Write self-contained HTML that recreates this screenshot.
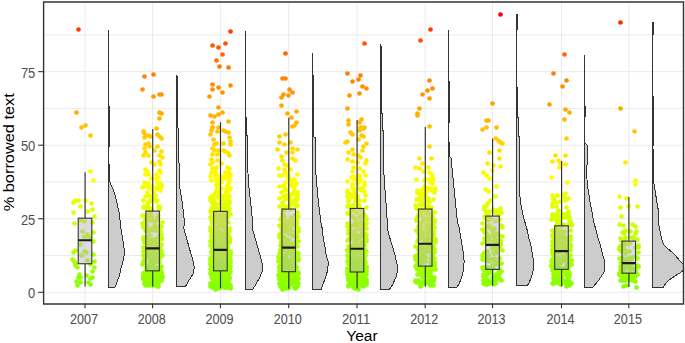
<!DOCTYPE html>
<html><head><meta charset="utf-8"><style>
html,body{margin:0;padding:0;background:#fff;}
svg{display:block;}
text{font-family:"Liberation Sans",sans-serif;}
.gmaj{stroke:#ebebeb;stroke-width:1;}
.gmin{stroke:#ebebeb;stroke-width:1;}
.tk{stroke:#333;stroke-width:1.1;}
.yl{font-size:13.8px;fill:#4d4d4d;text-anchor:end;}
.xl{font-size:13.8px;fill:#4d4d4d;text-anchor:middle;}
.vio{fill:#cccccc;stroke:#333;stroke-width:1;stroke-linejoin:miter;shape-rendering:crispEdges;}
.wh{stroke:#2e2e2e;stroke-width:1.15;}
.bx{fill:rgba(180,180,185,0.45);stroke:#333;stroke-width:1.1;}
.md{stroke:#1a1a1a;stroke-width:2.2;}
</style></head><body>
<svg width="685" height="343" viewBox="0 0 685 343">
<rect width="685" height="343" fill="#fff"/>
<defs><clipPath id="pc"><rect x="43.6" y="2.0" width="639.9" height="302.0"/></clipPath></defs>
<g><line x1="43.6" y1="255.53" x2="683.5" y2="255.53" class="gmin"/>
<line x1="43.6" y1="181.98" x2="683.5" y2="181.98" class="gmin"/>
<line x1="43.6" y1="108.43" x2="683.5" y2="108.43" class="gmin"/>
<line x1="43.6" y1="34.88" x2="683.5" y2="34.88" class="gmin"/>
<line x1="43.6" y1="292.30" x2="683.5" y2="292.30" class="gmaj"/>
<line x1="43.6" y1="218.75" x2="683.5" y2="218.75" class="gmaj"/>
<line x1="43.6" y1="145.20" x2="683.5" y2="145.20" class="gmaj"/>
<line x1="43.6" y1="71.65" x2="683.5" y2="71.65" class="gmaj"/>
<line x1="85.00" y1="2.0" x2="85.00" y2="304.0" class="gmaj"/>
<line x1="152.60" y1="2.0" x2="152.60" y2="304.0" class="gmaj"/>
<line x1="220.40" y1="2.0" x2="220.40" y2="304.0" class="gmaj"/>
<line x1="288.70" y1="2.0" x2="288.70" y2="304.0" class="gmaj"/>
<line x1="357.00" y1="2.0" x2="357.00" y2="304.0" class="gmaj"/>
<line x1="425.20" y1="2.0" x2="425.20" y2="304.0" class="gmaj"/>
<line x1="492.50" y1="2.0" x2="492.50" y2="304.0" class="gmaj"/>
<line x1="561.50" y1="2.0" x2="561.50" y2="304.0" class="gmaj"/>
<line x1="628.80" y1="2.0" x2="628.80" y2="304.0" class="gmaj"/></g>
<g clip-path="url(#pc)">
<path d="M108.70,287.30 L115.00,287.30 L115.25,286.65 L115.49,286.01 L115.74,285.36 L115.98,284.72 L116.23,284.07 L116.47,283.42 L116.72,282.78 L116.96,282.13 L117.21,281.49 L117.45,280.84 L117.70,280.19 L117.94,279.55 L118.19,278.90 L118.43,278.26 L118.68,277.61 L118.92,276.96 L119.14,276.32 L119.30,275.67 L119.45,275.03 L119.60,274.38 L119.75,273.74 L119.91,273.09 L120.06,272.44 L120.21,271.80 L120.37,271.15 L120.52,270.51 L120.67,269.86 L120.82,269.21 L120.98,268.57 L121.13,267.92 L121.28,267.28 L121.45,266.63 L121.63,265.99 L121.80,265.34 L121.97,264.69 L122.14,264.05 L122.32,263.40 L122.49,262.76 L122.66,262.11 L122.83,261.46 L122.98,260.82 L123.13,260.17 L123.28,259.53 L123.43,258.88 L123.58,258.23 L123.73,257.59 L123.88,256.94 L124.03,256.30 L124.10,255.65 L124.10,255.01 L124.10,254.36 L124.10,253.71 L124.10,253.07 L124.10,252.42 L124.10,251.78 L124.10,251.13 L124.10,250.48 L124.10,249.84 L124.10,249.19 L124.10,248.55 L124.01,247.90 L123.91,247.26 L123.81,246.61 L123.72,245.96 L123.62,245.32 L123.52,244.67 L123.42,244.03 L123.32,243.38 L123.22,242.73 L123.13,242.09 L123.03,241.44 L122.93,240.80 L122.83,240.15 L122.73,239.50 L122.64,238.86 L122.54,238.21 L122.44,237.57 L122.34,236.92 L122.23,236.28 L122.13,235.63 L122.03,234.98 L121.92,234.34 L121.82,233.69 L121.71,233.05 L121.61,232.40 L121.51,231.75 L121.40,231.11 L121.30,230.46 L121.19,229.82 L121.09,229.17 L120.98,228.53 L120.89,227.88 L120.81,227.23 L120.74,226.59 L120.66,225.94 L120.59,225.30 L120.52,224.65 L120.44,224.00 L120.37,223.36 L120.29,222.71 L120.22,222.07 L120.15,221.42 L120.07,220.77 L120.00,220.13 L119.92,219.48 L119.85,218.84 L119.78,218.19 L119.70,217.55 L119.63,216.90 L119.55,216.25 L119.48,215.61 L119.41,214.96 L119.33,214.32 L119.26,213.67 L119.18,213.02 L119.11,212.38 L118.97,211.73 L118.82,211.09 L118.67,210.44 L118.52,209.80 L118.37,209.15 L118.22,208.50 L118.07,207.86 L117.92,207.21 L117.76,206.57 L117.61,205.92 L117.46,205.27 L117.31,204.63 L117.16,203.98 L117.01,203.34 L116.86,202.69 L116.71,202.04 L116.56,201.40 L116.41,200.75 L116.26,200.11 L116.11,199.46 L115.96,198.82 L115.81,198.17 L115.66,197.52 L115.51,196.88 L115.36,196.23 L115.21,195.59 L115.06,194.94 L114.91,194.29 L114.76,193.65 L114.53,193.00 L114.26,192.36 L113.99,191.71 L113.72,191.07 L113.45,190.42 L113.17,189.77 L112.90,189.13 L112.63,188.48 L112.36,187.84 L112.09,187.19 L111.81,186.54 L111.54,185.90 L111.27,185.25 L111.00,184.61 L110.73,183.96 L110.45,183.31 L110.18,182.67 L109.91,182.02 L109.89,181.38 L109.89,180.73 L109.88,180.09 L109.87,179.44 L109.86,178.79 L109.85,178.15 L109.85,177.50 L109.84,176.86 L109.83,176.21 L109.82,175.56 L109.82,174.92 L109.81,174.27 L109.80,173.63 L109.79,172.98 L109.79,172.34 L109.78,171.69 L109.77,171.04 L109.76,170.40 L109.76,169.75 L109.75,169.11 L109.74,168.46 L109.73,167.81 L109.73,167.17 L109.72,166.52 L109.71,165.88 L109.70,165.23 L108.87,164.58 L108.70,163.94 L108.70,163.29 L108.70,162.65 L108.70,162.00 L108.70,161.36 L108.70,160.71 L108.70,160.06 L108.70,159.42 L108.70,158.77 L108.70,158.13 L108.70,157.48 L108.70,156.83 L108.70,156.19 L108.70,155.54 L108.70,154.90 L108.70,154.25 L108.70,153.61 L108.70,152.96 L108.70,152.31 L108.70,151.67 L108.70,151.02 L108.70,150.38 L108.70,149.73 L108.70,149.08 L108.70,148.44 L108.70,147.79 L108.70,147.15 L108.70,146.50 L109.70,145.86 L109.70,145.21 L109.70,144.56 L109.70,143.92 L109.70,143.27 L109.70,142.63 L109.70,141.98 L109.70,141.33 L109.70,140.69 L109.70,140.04 L109.70,139.40 L109.70,138.75 L109.70,138.10 L109.70,137.46 L109.70,136.81 L109.70,136.17 L109.70,135.52 L109.70,134.88 L109.70,134.23 L109.70,133.58 L109.70,132.94 L109.70,132.29 L109.70,131.65 L109.70,131.00 L109.70,130.35 L109.70,129.71 L109.70,129.06 L109.70,128.42 L109.70,127.77 L109.70,127.13 L109.70,126.48 L109.70,125.83 L109.70,125.19 L109.70,124.54 L109.70,123.90 L109.70,123.25 L109.70,122.60 L109.70,121.96 L109.70,121.31 L109.70,120.67 L109.70,120.02 L109.70,119.37 L109.70,118.73 L109.70,118.08 L109.70,117.44 L109.70,116.79 L109.70,116.15 L109.70,115.50 L109.70,114.85 L109.70,114.21 L109.70,113.56 L109.70,112.92 L109.70,112.27 L109.70,111.62 L109.70,110.98 L109.70,110.33 L109.70,109.69 L109.70,109.04 L109.70,108.40 L109.70,107.75 L109.70,107.10 L108.70,106.46 L108.70,105.81 L108.70,105.17 L108.70,104.52 L108.70,103.87 L108.70,103.23 L108.70,102.58 L108.70,101.94 L108.70,101.29 L108.70,100.64 L108.70,100.00 L108.70,99.35 L108.70,98.71 L108.70,98.06 L108.70,97.42 L108.70,96.77 L108.70,96.12 L108.70,95.48 L108.70,94.83 L108.70,94.19 L108.70,93.54 L108.70,92.89 L108.70,92.25 L108.70,91.60 L108.70,90.96 L108.70,90.31 L108.70,89.67 L108.70,89.02 L108.70,88.37 L108.70,87.73 L108.70,87.08 L108.70,86.44 L108.70,85.79 L108.70,85.14 L108.70,84.50 L108.70,83.85 L108.70,83.21 L108.70,82.56 L108.70,81.91 L108.70,81.27 L108.70,80.62 L108.70,79.98 L108.70,79.33 L108.70,78.69 L108.70,78.04 L108.70,77.39 L108.70,76.75 L108.70,76.10 L108.70,75.46 L108.70,74.81 L108.70,74.16 L108.70,73.52 L108.70,72.87 L108.70,72.23 L108.70,71.58 L108.70,70.94 L108.70,70.29 L108.70,69.64 L108.70,69.00 L108.70,68.35 L108.70,67.71 L108.70,67.06 L108.70,66.41 L108.70,65.77 L108.70,65.12 L108.70,64.48 L108.70,63.83 L108.70,63.18 L108.70,62.54 L108.70,61.89 L108.70,61.25 L108.70,60.60 L108.70,59.96 L108.70,59.31 L108.70,58.66 L108.70,58.02 L108.70,57.37 L108.70,56.73 L108.70,56.08 L108.70,55.43 L108.70,54.79 L108.70,54.14 L108.70,53.50 L108.70,52.85 L108.70,52.21 L108.70,51.56 L108.70,50.91 L108.70,50.27 L108.70,49.62 L108.70,48.98 L108.70,48.33 L108.70,47.68 L108.70,47.04 L108.70,46.39 L108.70,45.75 L108.70,45.10 L108.70,44.45 L108.70,43.81 L108.70,43.16 L108.70,42.52 L108.70,41.87 L108.70,41.23 L108.70,40.58 L108.70,39.93 L108.70,39.29 L108.70,38.64 L108.70,38.00 L108.70,37.35 L108.70,36.70 L108.70,36.06 L108.70,35.41 L108.70,34.77 L108.70,34.12 L108.70,33.48 L108.70,32.83 L108.70,32.18 L108.70,31.54 L108.70,30.89 L108.70,30.25 L108.70,29.60 L108.70,29.60 Z" class="vio"/>
<path d="M176.60,286.20 L185.60,286.20 L185.90,285.67 L186.20,285.14 L186.49,284.61 L186.79,284.08 L187.09,283.55 L187.39,283.02 L187.71,282.49 L188.03,281.96 L188.35,281.43 L188.68,280.90 L189.00,280.37 L189.32,279.84 L189.64,279.31 L189.96,278.78 L190.29,278.25 L190.61,277.72 L190.94,277.19 L191.28,276.66 L191.63,276.13 L191.97,275.59 L192.31,275.06 L192.66,274.53 L193.00,274.00 L193.24,273.47 L193.33,272.94 L193.43,272.41 L193.52,271.88 L193.61,271.35 L193.70,270.82 L193.80,270.29 L193.89,269.76 L193.98,269.23 L194.08,268.70 L194.17,268.17 L194.17,267.64 L194.12,267.11 L194.08,266.58 L194.03,266.05 L193.98,265.52 L193.94,264.99 L193.89,264.46 L193.85,263.93 L193.80,263.40 L193.64,262.87 L193.48,262.34 L193.33,261.81 L193.17,261.28 L193.01,260.75 L192.85,260.22 L192.70,259.68 L192.54,259.15 L192.39,258.62 L192.23,258.09 L192.08,257.56 L191.92,257.03 L191.77,256.50 L191.61,255.97 L191.46,255.44 L191.30,254.91 L191.15,254.38 L190.99,253.85 L190.84,253.32 L190.68,252.79 L190.53,252.26 L190.37,251.73 L190.22,251.20 L190.06,250.67 L189.91,250.14 L189.75,249.61 L189.60,249.08 L189.44,248.55 L189.29,248.02 L189.13,247.49 L188.98,246.96 L188.82,246.43 L188.68,245.90 L188.53,245.37 L188.38,244.84 L188.23,244.31 L188.09,243.78 L187.94,243.24 L187.79,242.71 L187.64,242.18 L187.50,241.65 L187.35,241.12 L187.20,240.59 L187.05,240.06 L186.91,239.53 L186.76,239.00 L186.61,238.47 L186.46,237.94 L186.32,237.41 L186.17,236.88 L186.02,236.35 L185.87,235.82 L185.73,235.29 L185.58,234.76 L185.43,234.23 L185.28,233.70 L185.14,233.17 L184.99,232.64 L184.84,232.11 L184.69,231.58 L184.55,231.05 L184.40,230.52 L184.25,229.99 L184.11,229.46 L183.96,228.93 L183.81,228.40 L183.72,227.87 L183.79,227.33 L183.85,226.80 L183.92,226.27 L183.99,225.74 L184.06,225.21 L184.13,224.68 L184.20,224.15 L184.26,223.62 L184.33,223.09 L184.40,222.56 L184.47,222.03 L184.47,221.50 L184.40,220.97 L184.34,220.44 L184.28,219.91 L184.22,219.38 L184.16,218.85 L184.09,218.32 L184.03,217.79 L183.97,217.26 L183.91,216.73 L183.85,216.20 L183.79,215.67 L183.72,215.14 L183.66,214.61 L183.60,214.08 L183.54,213.55 L183.48,213.02 L183.42,212.49 L183.35,211.96 L183.29,211.43 L183.23,210.89 L183.17,210.36 L183.11,209.83 L183.05,209.30 L182.98,208.77 L182.92,208.24 L182.86,207.71 L182.80,207.18 L182.74,206.65 L182.67,206.12 L182.61,205.59 L182.55,205.06 L182.49,204.53 L182.43,204.00 L182.37,203.47 L182.30,202.94 L182.22,202.41 L182.13,201.88 L182.04,201.35 L181.96,200.82 L181.87,200.29 L181.78,199.76 L181.70,199.23 L181.61,198.70 L181.52,198.17 L181.43,197.64 L181.35,197.11 L181.26,196.58 L181.17,196.05 L181.09,195.52 L181.00,194.99 L180.91,194.45 L180.82,193.92 L180.74,193.39 L180.65,192.86 L180.56,192.33 L180.47,191.80 L180.39,191.27 L180.30,190.74 L180.21,190.21 L180.13,189.68 L180.04,189.15 L179.95,188.62 L179.86,188.09 L179.80,187.56 L179.78,187.03 L179.76,186.50 L179.74,185.97 L179.73,185.44 L179.71,184.91 L179.69,184.38 L179.67,183.85 L179.66,183.32 L179.64,182.79 L179.62,182.26 L179.61,181.73 L179.59,181.20 L179.57,180.67 L179.55,180.14 L179.54,179.61 L179.52,179.08 L179.50,178.54 L179.49,178.01 L179.47,177.48 L179.45,176.95 L179.43,176.42 L179.42,175.89 L179.40,175.36 L179.38,174.83 L179.36,174.30 L179.35,173.77 L179.33,173.24 L179.31,172.71 L179.30,172.18 L179.28,171.65 L179.26,171.12 L179.24,170.59 L179.23,170.06 L179.21,169.53 L179.19,169.00 L179.18,168.47 L179.16,167.94 L179.14,167.41 L179.12,166.88 L179.11,166.35 L179.09,165.82 L179.07,165.29 L179.05,164.76 L179.04,164.23 L179.02,163.70 L179.00,163.17 L178.99,162.64 L178.97,162.10 L178.95,161.57 L178.93,161.04 L178.92,160.51 L178.90,159.98 L178.89,159.45 L178.88,158.92 L178.87,158.39 L178.86,157.86 L178.85,157.33 L178.84,156.80 L178.83,156.27 L178.82,155.74 L178.82,155.21 L178.81,154.68 L178.80,154.15 L178.79,153.62 L178.78,153.09 L178.77,152.56 L178.76,152.03 L178.75,151.50 L178.74,150.97 L178.73,150.44 L178.72,149.91 L178.71,149.38 L178.70,148.85 L178.69,148.32 L178.68,147.79 L178.68,147.26 L178.67,146.73 L178.66,146.19 L178.65,145.66 L178.64,145.13 L178.63,144.60 L178.62,144.07 L178.61,143.54 L178.60,143.01 L178.60,142.48 L178.59,141.95 L178.59,141.42 L178.59,140.89 L178.58,140.36 L178.58,139.83 L178.57,139.30 L178.57,138.77 L178.57,138.24 L178.56,137.71 L178.56,137.18 L178.56,136.65 L178.55,136.12 L178.55,135.59 L178.55,135.06 L178.54,134.53 L178.54,134.00 L178.53,133.47 L178.53,132.94 L178.53,132.41 L178.52,131.88 L178.52,131.35 L178.52,130.82 L178.51,130.29 L178.51,129.75 L178.50,129.22 L178.50,128.69 L177.89,128.16 L177.60,127.63 L177.60,127.10 L177.60,126.57 L177.60,126.04 L177.60,125.51 L177.60,124.98 L177.60,124.45 L177.60,123.92 L177.60,123.39 L177.60,122.86 L177.60,122.33 L177.60,121.80 L177.60,121.27 L177.60,120.74 L177.60,120.21 L177.60,119.68 L177.60,119.15 L177.60,118.62 L177.60,118.09 L177.60,117.56 L177.60,117.03 L177.60,116.50 L177.60,115.97 L177.60,115.44 L177.60,114.91 L177.60,114.38 L177.60,113.85 L177.60,113.31 L177.60,112.78 L177.60,112.25 L177.60,111.72 L177.60,111.19 L177.60,110.66 L177.60,110.13 L177.60,109.60 L177.60,109.07 L177.60,108.54 L177.60,108.01 L177.60,107.48 L177.60,106.95 L177.60,106.42 L177.60,105.89 L177.60,105.36 L177.60,104.83 L177.60,104.30 L177.60,103.77 L177.60,103.24 L177.60,102.71 L177.60,102.18 L177.60,101.65 L177.60,101.12 L177.60,100.59 L177.60,100.06 L177.60,99.53 L177.60,99.00 L177.60,98.47 L177.60,97.94 L177.60,97.40 L177.60,96.87 L177.60,96.34 L177.60,95.81 L177.60,95.28 L177.60,94.75 L177.60,94.22 L177.60,93.69 L177.60,93.16 L177.60,92.63 L177.60,92.10 L177.60,91.57 L177.60,91.04 L177.60,90.51 L177.60,89.98 L177.60,89.45 L177.60,88.92 L177.60,88.39 L177.60,87.86 L177.60,87.33 L177.60,86.80 L177.60,86.27 L177.60,85.74 L177.60,85.21 L177.60,84.68 L177.60,84.15 L177.60,83.62 L177.60,83.09 L177.60,82.56 L177.60,82.03 L177.60,81.50 L177.60,80.96 L177.60,80.43 L177.60,79.90 L177.60,79.37 L177.60,78.84 L177.60,78.31 L177.60,77.78 L177.60,77.25 L177.04,76.72 L176.60,76.19 L176.60,75.66 L176.60,75.13 L176.60,74.60 L176.60,74.60 Z" class="vio"/>
<path d="M245.30,289.20 L252.70,289.20 L253.12,288.55 L253.55,287.91 L253.97,287.26 L254.39,286.61 L254.81,285.97 L255.24,285.32 L255.66,284.67 L256.08,284.03 L256.44,283.38 L256.79,282.73 L257.15,282.09 L257.50,281.44 L257.85,280.79 L258.21,280.15 L258.56,279.50 L258.91,278.85 L259.27,278.21 L259.62,277.56 L259.97,276.91 L260.29,276.27 L260.53,275.62 L260.76,274.97 L261.00,274.33 L261.24,273.68 L261.48,273.03 L261.72,272.39 L261.96,271.74 L262.20,271.09 L262.43,270.45 L262.60,269.80 L262.60,269.15 L262.60,268.51 L262.60,267.86 L262.60,267.21 L262.60,266.57 L262.60,265.92 L262.59,265.27 L262.43,264.63 L262.26,263.98 L262.09,263.33 L261.93,262.69 L261.76,262.04 L261.59,261.39 L261.43,260.75 L261.26,260.10 L261.09,259.45 L260.92,258.81 L260.76,258.16 L260.59,257.52 L260.42,256.87 L260.26,256.22 L260.08,255.58 L259.90,254.93 L259.72,254.28 L259.54,253.64 L259.36,252.99 L259.18,252.34 L259.00,251.70 L258.82,251.05 L258.64,250.40 L258.45,249.76 L258.27,249.11 L258.09,248.46 L257.91,247.82 L257.73,247.17 L257.55,246.52 L257.35,245.88 L257.16,245.23 L256.97,244.58 L256.78,243.94 L256.58,243.29 L256.39,242.64 L256.20,242.00 L256.01,241.35 L255.81,240.70 L255.62,240.06 L255.43,239.41 L255.24,238.76 L255.04,238.12 L254.85,237.47 L254.67,236.82 L254.50,236.18 L254.32,235.53 L254.15,234.88 L253.98,234.24 L253.80,233.59 L253.63,232.94 L253.46,232.30 L253.28,231.65 L253.11,231.00 L252.93,230.36 L252.76,229.71 L252.59,229.06 L252.41,228.42 L252.31,227.77 L252.34,227.12 L252.37,226.48 L252.40,225.83 L252.44,225.18 L252.47,224.54 L252.50,223.89 L252.53,223.24 L252.56,222.60 L252.59,221.95 L252.55,221.30 L252.49,220.66 L252.42,220.01 L252.36,219.36 L252.29,218.72 L252.23,218.07 L252.16,217.43 L252.10,216.78 L252.03,216.13 L251.97,215.49 L251.90,214.84 L251.84,214.19 L251.77,213.55 L251.71,212.90 L251.64,212.25 L251.58,211.61 L251.51,210.96 L251.45,210.31 L251.38,209.67 L251.32,209.02 L251.25,208.37 L251.19,207.73 L251.12,207.08 L251.05,206.43 L250.99,205.79 L250.92,205.14 L250.86,204.49 L250.79,203.85 L250.73,203.20 L250.66,202.55 L250.58,201.91 L250.51,201.26 L250.44,200.61 L250.36,199.97 L250.29,199.32 L250.21,198.67 L250.14,198.03 L250.06,197.38 L249.99,196.73 L249.91,196.09 L249.84,195.44 L249.76,194.79 L249.69,194.15 L249.61,193.50 L249.54,192.85 L249.46,192.21 L249.39,191.56 L249.31,190.91 L249.24,190.27 L249.16,189.62 L249.09,188.97 L249.01,188.33 L248.94,187.68 L248.86,187.03 L248.79,186.39 L248.71,185.74 L248.64,185.09 L248.56,184.45 L248.50,183.80 L248.46,183.15 L248.43,182.51 L248.40,181.86 L248.37,181.21 L248.34,180.57 L248.31,179.92 L248.28,179.27 L248.25,178.63 L248.22,177.98 L248.19,177.34 L248.16,176.69 L248.13,176.04 L248.10,175.40 L248.06,174.75 L248.03,174.10 L248.00,173.46 L247.97,172.81 L247.94,172.16 L247.91,171.52 L247.88,170.87 L247.85,170.22 L247.82,169.58 L247.79,168.93 L247.76,168.28 L247.73,167.64 L247.69,166.99 L247.66,166.34 L247.63,165.70 L247.60,165.05 L247.59,164.40 L247.59,163.76 L247.58,163.11 L247.57,162.46 L247.57,161.82 L247.56,161.17 L247.55,160.52 L247.55,159.88 L247.54,159.23 L247.53,158.58 L247.53,157.94 L247.52,157.29 L247.52,156.64 L247.51,156.00 L247.50,155.35 L247.50,154.70 L247.49,154.06 L247.48,153.41 L247.48,152.76 L247.47,152.12 L247.46,151.47 L247.46,150.82 L247.45,150.18 L247.44,149.53 L247.44,148.88 L247.43,148.24 L247.42,147.59 L247.42,146.94 L247.41,146.30 L247.40,145.65 L247.40,145.00 L247.39,144.36 L247.38,143.71 L247.38,143.06 L247.37,142.42 L247.36,141.77 L247.36,141.12 L247.35,140.48 L247.34,139.83 L247.34,139.18 L247.33,138.54 L247.32,137.89 L247.32,137.25 L247.31,136.60 L247.30,135.95 L246.91,135.31 L246.30,134.66 L246.30,134.01 L246.30,133.37 L246.30,132.72 L246.30,132.07 L246.30,131.43 L246.30,130.78 L246.30,130.13 L246.30,129.49 L246.30,128.84 L246.30,128.19 L246.30,127.55 L246.30,126.90 L246.30,126.25 L246.30,125.61 L246.30,124.96 L246.30,124.31 L246.30,123.67 L246.30,123.02 L246.30,122.37 L246.30,121.73 L246.30,121.08 L246.30,120.43 L246.30,119.79 L246.30,119.14 L246.30,118.49 L246.30,117.85 L246.30,117.20 L245.41,116.55 L245.30,115.91 L245.30,115.26 L245.30,114.61 L245.30,113.97 L245.30,113.32 L245.30,112.67 L245.30,112.03 L245.30,111.38 L245.30,110.73 L245.30,110.09 L245.30,109.44 L245.30,108.79 L245.30,108.15 L245.30,107.50 L245.30,106.85 L245.30,106.21 L245.30,105.56 L245.30,104.91 L245.30,104.27 L245.30,103.62 L245.30,102.97 L245.30,102.33 L245.30,101.68 L245.30,101.03 L245.30,100.39 L245.30,99.74 L245.30,99.09 L245.30,98.45 L245.30,97.80 L245.30,97.15 L245.30,96.51 L245.30,95.86 L245.30,95.22 L245.30,94.57 L245.30,93.92 L245.30,93.28 L245.30,92.63 L245.30,91.98 L245.30,91.34 L245.30,90.69 L245.30,90.04 L245.30,89.40 L245.30,88.75 L245.30,88.10 L245.30,87.46 L245.30,86.81 L245.30,86.16 L245.30,85.52 L245.30,84.87 L245.30,84.22 L245.30,83.58 L245.30,82.93 L245.30,82.28 L245.30,81.64 L245.30,80.99 L245.30,80.34 L245.30,79.70 L245.30,79.05 L245.30,78.40 L245.30,77.76 L245.30,77.11 L245.30,76.46 L245.30,75.82 L245.30,75.17 L245.30,74.52 L245.30,73.88 L245.30,73.23 L245.30,72.58 L245.30,71.94 L245.30,71.29 L245.30,70.64 L245.30,70.00 L245.30,69.35 L245.30,68.70 L245.30,68.06 L245.30,67.41 L245.30,66.76 L245.30,66.12 L245.30,65.47 L245.30,64.82 L245.30,64.18 L245.30,63.53 L245.30,62.88 L245.30,62.24 L245.30,61.59 L245.30,60.94 L245.30,60.30 L245.30,59.65 L245.30,59.00 L245.30,58.36 L245.30,57.71 L245.30,57.06 L245.30,56.42 L245.30,55.77 L245.30,55.13 L245.30,54.48 L245.30,53.83 L245.30,53.19 L245.30,52.54 L245.30,51.89 L245.30,51.25 L245.30,50.60 L245.30,49.95 L245.30,49.31 L245.30,48.66 L245.30,48.01 L245.30,47.37 L245.30,46.72 L245.30,46.07 L245.30,45.43 L245.30,44.78 L245.30,44.13 L245.30,43.49 L245.30,42.84 L245.30,42.19 L245.30,41.55 L245.30,40.90 L245.30,40.25 L245.30,39.61 L245.30,38.96 L245.30,38.31 L245.30,37.67 L245.30,37.02 L245.30,36.37 L245.30,35.73 L245.30,35.08 L245.30,34.43 L245.30,33.79 L245.30,33.14 L245.30,32.49 L245.30,31.85 L245.30,31.20 L245.30,31.20 Z" class="vio"/>
<path d="M312.50,289.20 L321.20,289.20 L321.42,288.61 L321.63,288.02 L321.85,287.43 L322.06,286.83 L322.28,286.24 L322.50,285.65 L322.71,285.06 L322.93,284.47 L323.15,283.88 L323.37,283.29 L323.59,282.70 L323.81,282.10 L324.03,281.51 L324.25,280.92 L324.47,280.33 L324.69,279.74 L324.91,279.15 L325.13,278.56 L325.35,277.97 L325.57,277.37 L325.79,276.78 L325.99,276.19 L326.15,275.60 L326.31,275.01 L326.48,274.42 L326.64,273.83 L326.80,273.24 L326.97,272.64 L327.13,272.05 L327.30,271.46 L327.46,270.87 L327.62,270.28 L327.73,269.69 L327.78,269.10 L327.83,268.51 L327.88,267.92 L327.93,267.32 L327.98,266.73 L328.03,266.14 L328.08,265.55 L328.10,264.96 L328.10,264.37 L328.10,263.78 L328.10,263.19 L328.10,262.59 L328.10,262.00 L328.04,261.41 L327.86,260.82 L327.68,260.23 L327.50,259.64 L327.33,259.05 L327.15,258.46 L326.97,257.86 L326.79,257.27 L326.61,256.68 L326.43,256.09 L326.32,255.50 L326.22,254.91 L326.13,254.32 L326.03,253.73 L325.94,253.13 L325.84,252.54 L325.75,251.95 L325.65,251.36 L325.56,250.77 L325.46,250.18 L325.37,249.59 L325.27,249.00 L325.18,248.40 L325.08,247.81 L324.98,247.22 L324.89,246.63 L324.77,246.04 L324.66,245.45 L324.55,244.86 L324.43,244.27 L324.32,243.67 L324.21,243.08 L324.09,242.49 L323.98,241.90 L323.87,241.31 L323.75,240.72 L323.64,240.13 L323.53,239.54 L323.42,238.95 L323.30,238.35 L323.19,237.76 L323.09,237.17 L323.02,236.58 L322.96,235.99 L322.90,235.40 L322.83,234.81 L322.77,234.22 L322.70,233.62 L322.64,233.03 L322.58,232.44 L322.51,231.85 L322.45,231.26 L322.39,230.67 L322.32,230.08 L322.26,229.49 L322.20,228.89 L322.13,228.30 L322.04,227.71 L321.92,227.12 L321.79,226.53 L321.67,225.94 L321.54,225.35 L321.42,224.76 L321.30,224.16 L321.17,223.57 L321.05,222.98 L320.92,222.39 L320.80,221.80 L320.73,221.21 L320.66,220.62 L320.58,220.03 L320.51,219.43 L320.44,218.84 L320.37,218.25 L320.30,217.66 L320.22,217.07 L320.15,216.48 L320.08,215.89 L320.01,215.30 L319.94,214.70 L319.86,214.11 L319.79,213.52 L319.72,212.93 L319.65,212.34 L319.58,211.75 L319.50,211.16 L319.43,210.57 L319.36,209.98 L319.29,209.38 L319.22,208.79 L319.14,208.20 L319.07,207.61 L319.00,207.02 L318.93,206.43 L318.86,205.84 L318.79,205.25 L318.71,204.65 L318.64,204.06 L318.57,203.47 L318.50,202.88 L318.44,202.29 L318.39,201.70 L318.33,201.11 L318.27,200.52 L318.22,199.92 L318.16,199.33 L318.11,198.74 L318.05,198.15 L317.99,197.56 L317.94,196.97 L317.88,196.38 L317.83,195.79 L317.77,195.19 L317.71,194.60 L317.66,194.01 L317.60,193.42 L317.55,192.83 L317.49,192.24 L317.43,191.65 L317.38,191.06 L317.32,190.46 L317.27,189.87 L317.21,189.28 L317.15,188.69 L317.10,188.10 L317.04,187.51 L316.99,186.92 L316.93,186.33 L316.87,185.73 L316.82,185.14 L316.76,184.55 L316.71,183.96 L316.66,183.37 L316.62,182.78 L316.57,182.19 L316.53,181.60 L316.49,181.01 L316.44,180.41 L316.40,179.82 L316.35,179.23 L316.31,178.64 L316.27,178.05 L316.22,177.46 L316.18,176.87 L316.14,176.28 L316.09,175.68 L316.05,175.09 L316.00,174.50 L315.96,173.91 L315.92,173.32 L315.87,172.73 L315.83,172.14 L315.78,171.55 L315.74,170.95 L315.70,170.36 L315.65,169.77 L315.61,169.18 L315.57,168.59 L315.52,168.00 L315.48,167.41 L315.43,166.82 L315.39,166.22 L315.35,165.63 L315.30,165.04 L315.30,164.45 L315.30,163.86 L315.30,163.27 L315.30,162.68 L315.30,162.09 L315.30,161.49 L315.30,160.90 L315.30,160.31 L315.30,159.72 L315.30,159.13 L315.30,158.54 L315.30,157.95 L315.30,157.36 L315.30,156.76 L315.30,156.17 L315.30,155.58 L315.30,154.99 L315.30,154.40 L315.30,153.81 L315.30,153.22 L315.30,152.63 L315.30,152.04 L315.30,151.44 L315.30,150.85 L315.30,150.26 L315.30,149.67 L315.30,149.08 L315.30,148.49 L315.30,147.90 L315.30,147.31 L315.30,146.71 L315.30,146.12 L315.30,145.53 L315.30,144.94 L315.30,144.35 L315.30,143.76 L315.30,143.17 L315.30,142.58 L315.30,141.98 L315.30,141.39 L315.30,140.80 L315.30,140.21 L315.30,139.62 L315.30,139.03 L315.30,138.44 L315.30,137.85 L314.41,137.25 L313.50,136.66 L313.50,136.07 L313.50,135.48 L313.50,134.89 L313.50,134.30 L313.50,133.71 L313.50,133.12 L313.50,132.52 L313.50,131.93 L313.50,131.34 L313.50,130.75 L313.50,130.16 L313.50,129.57 L313.50,128.98 L313.50,128.39 L313.50,127.79 L313.50,127.20 L313.50,126.61 L313.50,126.02 L313.50,125.43 L313.50,124.84 L313.50,124.25 L313.50,123.66 L313.50,123.07 L313.50,122.47 L313.50,121.88 L313.50,121.29 L313.50,120.70 L313.50,120.11 L313.50,119.52 L313.50,118.93 L313.50,118.34 L313.50,117.74 L313.50,117.15 L313.50,116.56 L313.50,115.97 L313.50,115.38 L313.50,114.79 L313.50,114.20 L313.50,113.61 L313.50,113.01 L313.50,112.42 L313.50,111.83 L313.50,111.24 L313.50,110.65 L313.50,110.06 L313.50,109.47 L313.50,108.88 L313.50,108.28 L313.50,107.69 L313.50,107.10 L313.50,106.51 L313.50,105.92 L313.50,105.33 L313.50,104.74 L313.50,104.15 L313.50,103.55 L313.50,102.96 L313.50,102.37 L313.50,101.78 L313.50,101.19 L313.50,100.60 L313.50,100.01 L313.50,99.42 L313.50,98.82 L313.50,98.23 L313.50,97.64 L313.50,97.05 L313.50,96.46 L313.50,95.87 L313.50,95.28 L313.50,94.69 L313.50,94.10 L313.50,93.50 L313.50,92.91 L313.50,92.32 L313.50,91.73 L313.50,91.14 L313.50,90.55 L313.50,89.96 L313.50,89.37 L313.50,88.77 L313.50,88.18 L313.50,87.59 L313.50,87.00 L313.50,86.41 L313.50,85.82 L313.50,85.23 L313.50,84.64 L313.50,84.04 L313.50,83.45 L313.50,82.86 L313.50,82.27 L313.50,81.68 L313.50,81.09 L313.50,80.50 L313.50,79.91 L313.50,79.31 L313.50,78.72 L313.50,78.13 L313.50,77.54 L313.50,76.95 L313.50,76.36 L313.50,75.77 L312.85,75.18 L312.50,74.58 L312.50,73.99 L312.50,73.40 L312.50,72.81 L312.50,72.22 L312.50,71.63 L312.50,71.04 L312.50,70.45 L312.50,69.86 L312.50,69.26 L312.50,68.67 L312.50,68.08 L312.50,67.49 L312.50,66.90 L312.50,66.31 L312.50,65.72 L312.50,65.13 L312.50,64.53 L312.50,63.94 L312.50,63.35 L312.50,62.76 L312.50,62.17 L312.50,61.58 L312.50,60.99 L312.50,60.40 L312.50,59.80 L312.50,59.21 L312.50,58.62 L312.50,58.03 L312.50,57.44 L312.50,56.85 L312.50,56.26 L312.50,55.67 L312.50,55.07 L312.50,54.48 L312.50,53.89 L312.50,53.30 L312.50,53.30 Z" class="vio"/>
<path d="M380.10,289.20 L389.60,289.20 L389.99,288.58 L390.38,287.97 L390.77,287.36 L391.16,286.74 L391.55,286.13 L391.94,285.51 L392.33,284.90 L392.72,284.28 L393.05,283.67 L393.33,283.05 L393.61,282.44 L393.89,281.82 L394.17,281.21 L394.44,280.60 L394.72,279.98 L395.00,279.37 L395.28,278.75 L395.56,278.14 L395.84,277.52 L396.12,276.91 L396.34,276.29 L396.46,275.68 L396.59,275.06 L396.71,274.45 L396.83,273.84 L396.96,273.22 L397.08,272.61 L397.20,271.99 L397.32,271.38 L397.45,270.76 L397.57,270.15 L397.56,269.53 L397.51,268.92 L397.46,268.31 L397.40,267.69 L397.35,267.08 L397.30,266.46 L397.25,265.85 L397.19,265.23 L397.05,264.62 L396.92,264.00 L396.79,263.39 L396.66,262.77 L396.52,262.16 L396.39,261.55 L396.26,260.93 L396.13,260.32 L396.00,259.70 L395.86,259.09 L395.73,258.47 L395.60,257.86 L395.47,257.24 L395.34,256.63 L395.20,256.01 L395.03,255.40 L394.86,254.79 L394.69,254.17 L394.52,253.56 L394.35,252.94 L394.17,252.33 L394.00,251.71 L393.83,251.10 L393.66,250.48 L393.49,249.87 L393.31,249.25 L393.14,248.64 L392.97,248.03 L392.80,247.41 L392.63,246.80 L392.43,246.18 L392.24,245.57 L392.04,244.95 L391.85,244.34 L391.65,243.72 L391.45,243.11 L391.26,242.49 L391.06,241.88 L390.87,241.27 L390.67,240.65 L390.47,240.04 L390.28,239.42 L390.08,238.81 L389.89,238.19 L389.69,237.58 L389.52,236.96 L389.37,236.35 L389.21,235.73 L389.06,235.12 L388.91,234.51 L388.76,233.89 L388.61,233.28 L388.45,232.66 L388.30,232.05 L388.15,231.43 L388.00,230.82 L387.85,230.20 L387.69,229.59 L387.54,228.98 L387.39,228.36 L387.30,227.75 L387.30,227.13 L387.30,226.52 L387.30,225.90 L387.30,225.29 L387.30,224.67 L387.30,224.06 L387.30,223.44 L387.30,222.83 L387.30,222.22 L387.29,221.60 L387.24,220.99 L387.20,220.37 L387.16,219.76 L387.12,219.14 L387.07,218.53 L387.03,217.91 L386.99,217.30 L386.95,216.68 L386.91,216.07 L386.86,215.46 L386.82,214.84 L386.78,214.23 L386.74,213.61 L386.69,213.00 L386.65,212.38 L386.61,211.77 L386.57,211.15 L386.53,210.54 L386.48,209.92 L386.44,209.31 L386.40,208.70 L386.36,208.08 L386.31,207.47 L386.27,206.85 L386.23,206.24 L386.19,205.62 L386.14,205.01 L386.10,204.39 L386.06,203.78 L386.02,203.16 L385.97,202.55 L385.92,201.94 L385.88,201.32 L385.83,200.71 L385.78,200.09 L385.73,199.48 L385.68,198.86 L385.63,198.25 L385.58,197.63 L385.54,197.02 L385.49,196.40 L385.44,195.79 L385.39,195.18 L385.34,194.56 L385.29,193.95 L385.24,193.33 L385.20,192.72 L385.15,192.10 L385.10,191.49 L385.05,190.87 L385.00,190.26 L384.95,189.65 L384.91,189.03 L384.86,188.42 L384.81,187.80 L384.76,187.19 L384.71,186.57 L384.66,185.96 L384.61,185.34 L384.57,184.73 L384.52,184.11 L384.48,183.50 L384.45,182.89 L384.41,182.27 L384.38,181.66 L384.35,181.04 L384.32,180.43 L384.28,179.81 L384.25,179.20 L384.22,178.58 L384.19,177.97 L384.15,177.35 L384.12,176.74 L384.09,176.13 L384.06,175.51 L384.02,174.90 L383.99,174.28 L383.96,173.67 L383.93,173.05 L383.89,172.44 L383.86,171.82 L383.83,171.21 L383.80,170.59 L383.76,169.98 L383.73,169.37 L383.70,168.75 L383.67,168.14 L383.63,167.52 L383.60,166.91 L383.57,166.29 L383.54,165.68 L383.50,165.06 L383.49,164.45 L383.49,163.83 L383.48,163.22 L383.47,162.61 L383.47,161.99 L383.46,161.38 L383.45,160.76 L383.44,160.15 L383.44,159.53 L383.43,158.92 L383.42,158.30 L383.42,157.69 L383.41,157.07 L383.40,156.46 L383.39,155.85 L383.39,155.23 L383.38,154.62 L383.37,154.00 L383.37,153.39 L383.36,152.77 L383.35,152.16 L383.34,151.54 L383.34,150.93 L383.33,150.32 L383.32,149.70 L383.32,149.09 L383.31,148.47 L383.30,147.86 L383.29,147.24 L383.29,146.63 L383.28,146.01 L383.27,145.40 L383.27,144.78 L383.26,144.17 L383.25,143.56 L383.24,142.94 L383.24,142.33 L383.23,141.71 L383.22,141.10 L383.22,140.48 L383.21,139.87 L383.20,139.25 L383.19,138.64 L383.19,138.02 L383.18,137.41 L383.17,136.80 L383.17,136.18 L383.16,135.57 L383.15,134.95 L383.14,134.34 L383.14,133.72 L383.13,133.11 L383.12,132.49 L383.12,131.88 L383.11,131.26 L383.10,130.65 L382.17,130.04 L382.10,129.42 L382.10,128.81 L382.10,128.19 L382.10,127.58 L382.10,126.96 L382.10,126.35 L382.10,125.73 L382.10,125.12 L382.10,124.50 L382.10,123.89 L382.10,123.28 L382.10,122.66 L382.10,122.05 L382.10,121.43 L382.10,120.82 L382.10,120.20 L382.10,119.59 L382.10,118.97 L382.10,118.36 L382.10,117.74 L382.10,117.13 L382.10,116.52 L382.10,115.90 L382.10,115.29 L382.10,114.67 L382.10,114.06 L381.99,113.44 L381.10,112.83 L381.10,112.21 L381.10,111.60 L381.10,110.99 L381.10,110.37 L381.10,109.76 L381.10,109.14 L381.10,108.53 L381.10,107.91 L381.10,107.30 L381.10,106.68 L381.10,106.07 L381.10,105.45 L381.10,104.84 L381.10,104.23 L381.10,103.61 L381.10,103.00 L381.10,102.38 L381.10,101.77 L381.10,101.15 L381.10,100.54 L381.10,99.92 L381.10,99.31 L381.10,98.69 L381.10,98.08 L381.10,97.47 L381.10,96.85 L381.10,96.24 L381.10,95.62 L381.10,95.01 L381.10,94.39 L381.10,93.78 L381.10,93.16 L381.10,92.55 L381.10,91.93 L381.10,91.32 L381.10,90.71 L381.10,90.09 L381.10,89.48 L381.10,88.86 L381.10,88.25 L381.10,87.63 L381.10,87.02 L381.10,86.40 L381.10,85.79 L381.10,85.17 L381.10,84.56 L381.10,83.95 L381.10,83.33 L381.10,82.72 L381.10,82.10 L381.10,81.49 L381.10,80.87 L381.10,80.26 L381.10,79.64 L381.10,79.03 L381.10,78.41 L381.10,77.80 L381.10,77.19 L381.10,76.57 L381.10,75.96 L381.10,75.34 L381.10,74.73 L381.10,74.11 L381.10,73.50 L381.10,72.88 L381.10,72.27 L381.10,71.65 L381.10,71.04 L381.10,70.43 L381.10,69.81 L381.10,69.20 L381.10,68.58 L381.10,67.97 L381.10,67.35 L381.10,66.74 L381.10,66.12 L381.10,65.51 L381.10,64.90 L381.10,64.28 L381.10,63.67 L381.10,63.05 L381.10,62.44 L381.10,61.82 L381.10,61.21 L381.10,60.59 L381.10,59.98 L381.10,59.36 L381.10,58.75 L381.10,58.14 L381.10,57.52 L381.10,56.91 L381.10,56.29 L381.10,55.68 L381.10,55.06 L381.10,54.45 L381.10,53.83 L381.10,53.22 L381.10,52.60 L381.10,51.99 L381.10,51.38 L381.10,50.76 L381.10,50.15 L381.10,49.53 L381.10,48.92 L381.10,48.30 L381.10,47.69 L381.10,47.07 L381.10,46.46 L381.02,45.84 L380.72,45.23 L380.41,44.62 L380.10,44.00 L380.10,44.00 Z" class="vio"/>
<path d="M448.90,287.30 L456.80,287.30 L457.25,286.65 L457.70,286.01 L458.15,285.37 L458.60,284.72 L459.05,284.08 L459.31,283.43 L459.55,282.79 L459.79,282.14 L460.03,281.50 L460.27,280.86 L460.52,280.21 L460.76,279.57 L461.00,278.92 L461.24,278.28 L461.48,277.63 L461.72,276.99 L461.94,276.34 L462.08,275.70 L462.23,275.06 L462.38,274.41 L462.53,273.77 L462.68,273.12 L462.83,272.48 L462.98,271.83 L463.13,271.19 L463.27,270.55 L463.41,269.90 L463.48,269.26 L463.55,268.61 L463.62,267.97 L463.68,267.32 L463.75,266.68 L463.82,266.03 L463.89,265.39 L463.93,264.75 L463.96,264.10 L464.00,263.46 L464.03,262.81 L464.07,262.17 L464.09,261.52 L464.05,260.88 L464.00,260.24 L463.96,259.59 L463.91,258.95 L463.86,258.30 L463.82,257.66 L463.77,257.01 L463.73,256.37 L463.66,255.73 L463.57,255.08 L463.48,254.44 L463.39,253.79 L463.30,253.15 L463.21,252.50 L463.12,251.86 L463.03,251.21 L462.94,250.57 L462.85,249.93 L462.76,249.28 L462.67,248.64 L462.58,247.99 L462.49,247.35 L462.40,246.70 L462.28,246.06 L462.15,245.42 L462.03,244.77 L461.91,244.13 L461.78,243.48 L461.66,242.84 L461.54,242.19 L461.41,241.55 L461.29,240.90 L461.17,240.26 L461.04,239.62 L460.92,238.97 L460.80,238.33 L460.67,237.68 L460.57,237.04 L460.48,236.39 L460.40,235.75 L460.32,235.11 L460.23,234.46 L460.15,233.82 L460.07,233.17 L459.98,232.53 L459.90,231.88 L459.82,231.24 L459.73,230.60 L459.65,229.95 L459.57,229.31 L459.49,228.66 L459.40,228.02 L459.20,227.37 L458.99,226.73 L458.78,226.08 L458.57,225.44 L458.37,224.80 L458.16,224.15 L457.95,223.51 L457.74,222.86 L457.53,222.22 L457.38,221.57 L457.31,220.93 L457.25,220.29 L457.18,219.64 L457.12,219.00 L457.05,218.35 L456.99,217.71 L456.92,217.06 L456.86,216.42 L456.79,215.77 L456.73,215.13 L456.66,214.49 L456.60,213.84 L456.54,213.20 L456.47,212.55 L456.41,211.91 L456.34,211.26 L456.28,210.62 L456.21,209.98 L456.15,209.33 L456.08,208.69 L456.02,208.04 L455.95,207.40 L455.89,206.75 L455.82,206.11 L455.76,205.47 L455.69,204.82 L455.63,204.18 L455.56,203.53 L455.50,202.89 L455.43,202.24 L455.37,201.60 L455.31,200.95 L455.24,200.31 L455.18,199.67 L455.11,199.02 L455.05,198.38 L454.98,197.73 L454.92,197.09 L454.85,196.44 L454.79,195.80 L454.73,195.16 L454.66,194.51 L454.60,193.87 L454.53,193.22 L454.47,192.58 L454.40,191.93 L454.34,191.29 L454.27,190.65 L454.21,190.00 L454.15,189.36 L454.08,188.71 L454.02,188.07 L453.95,187.42 L453.89,186.78 L453.82,186.13 L453.76,185.49 L453.69,184.85 L453.63,184.20 L453.57,183.56 L453.50,182.91 L453.44,182.27 L453.37,181.62 L453.31,180.98 L453.24,180.34 L453.18,179.69 L453.11,179.05 L453.05,178.40 L452.98,177.76 L452.92,177.11 L452.85,176.47 L452.79,175.82 L452.72,175.18 L452.66,174.54 L452.59,173.89 L452.53,173.25 L452.46,172.60 L452.40,171.96 L452.33,171.31 L452.27,170.67 L452.21,170.03 L452.14,169.38 L452.08,168.74 L452.01,168.09 L451.95,167.45 L451.88,166.80 L451.82,166.16 L451.75,165.52 L451.69,164.87 L451.63,164.23 L451.58,163.58 L451.52,162.94 L451.47,162.29 L451.41,161.65 L451.36,161.00 L451.30,160.36 L451.25,159.72 L451.19,159.07 L451.14,158.43 L450.58,157.78 L449.90,157.14 L449.90,156.49 L449.90,155.85 L449.90,155.21 L449.90,154.56 L449.90,153.92 L449.90,153.27 L449.90,152.63 L449.90,151.98 L449.90,151.34 L449.90,150.69 L449.90,150.05 L449.90,149.41 L449.90,148.76 L449.90,148.12 L449.90,147.47 L449.90,146.83 L449.90,146.18 L449.90,145.54 L449.90,144.90 L449.90,144.25 L449.90,143.61 L449.83,142.96 L448.90,142.32 L448.90,141.67 L448.90,141.03 L448.90,140.39 L448.90,139.74 L448.90,139.10 L448.90,138.45 L448.90,137.81 L448.90,137.16 L448.90,136.52 L448.90,135.87 L448.90,135.23 L448.90,134.59 L448.90,133.94 L448.90,133.30 L448.90,132.65 L448.90,132.01 L448.90,131.36 L448.90,130.72 L448.90,130.08 L448.90,129.43 L448.90,128.79 L448.90,128.14 L448.90,127.50 L448.90,126.85 L448.90,126.21 L448.90,125.56 L448.90,124.92 L448.90,124.28 L448.90,123.63 L448.90,122.99 L449.21,122.34 L449.90,121.70 L449.90,121.05 L449.90,120.41 L449.90,119.77 L449.90,119.12 L449.90,118.48 L449.90,117.83 L449.90,117.19 L449.90,116.54 L449.90,115.90 L449.90,115.26 L449.90,114.61 L449.90,113.97 L449.90,113.32 L449.90,112.68 L449.90,112.03 L449.90,111.39 L449.90,110.74 L449.90,110.10 L449.90,109.46 L449.90,108.81 L449.90,108.17 L449.90,107.52 L449.90,106.88 L449.90,106.23 L449.90,105.59 L449.90,104.95 L449.90,104.30 L449.90,103.66 L449.90,103.01 L449.90,102.37 L449.90,101.72 L449.90,101.08 L449.90,100.44 L449.90,99.79 L449.90,99.15 L449.90,98.50 L449.90,97.86 L449.90,97.21 L449.90,96.57 L449.90,95.92 L449.90,95.28 L449.90,94.64 L449.90,93.99 L449.90,93.35 L449.90,92.70 L449.90,92.06 L449.90,91.41 L449.90,90.77 L449.90,90.13 L449.90,89.48 L449.90,88.84 L449.90,88.19 L449.90,87.55 L449.90,86.90 L449.90,86.26 L449.90,85.61 L449.90,84.97 L449.90,84.33 L449.90,83.68 L449.90,83.04 L449.90,82.39 L449.90,81.75 L448.90,81.10 L448.90,80.46 L448.90,79.82 L448.90,79.17 L448.90,78.53 L448.90,77.88 L448.90,77.24 L448.90,76.59 L448.90,75.95 L448.90,75.31 L448.90,74.66 L448.90,74.02 L448.90,73.37 L448.90,72.73 L448.90,72.08 L448.90,71.44 L448.90,70.79 L448.90,70.15 L448.90,69.51 L448.90,68.86 L448.90,68.22 L448.90,67.57 L448.90,66.93 L448.90,66.28 L448.90,65.64 L448.90,65.00 L448.90,64.35 L448.90,63.71 L448.90,63.06 L448.90,62.42 L448.90,61.77 L448.90,61.13 L448.90,60.48 L448.90,59.84 L448.90,59.20 L448.90,58.55 L448.90,57.91 L448.90,57.26 L448.90,56.62 L448.90,55.97 L448.90,55.33 L448.90,54.69 L448.90,54.04 L448.90,53.40 L448.90,52.75 L448.90,52.11 L448.90,51.46 L448.90,50.82 L448.90,50.18 L448.90,49.53 L448.90,48.89 L448.90,48.24 L448.90,47.60 L448.90,46.95 L448.90,46.31 L448.90,45.66 L448.90,45.02 L448.90,44.38 L448.90,43.73 L448.90,43.09 L448.90,42.44 L448.90,41.80 L448.90,41.15 L448.90,40.51 L448.90,39.87 L448.90,39.22 L448.90,38.58 L448.90,37.93 L448.90,37.29 L448.90,36.64 L448.90,36.00 L448.90,35.36 L448.90,34.71 L448.90,34.07 L448.90,33.42 L448.90,32.78 L448.90,32.13 L448.90,31.49 L448.90,30.84 L448.90,30.20 L448.90,30.20 Z" class="vio"/>
<path d="M516.30,285.80 L526.70,285.80 L527.42,285.12 L528.14,284.44 L528.70,283.76 L528.98,283.08 L529.26,282.40 L529.54,281.72 L529.82,281.04 L530.11,280.36 L530.39,279.68 L530.67,279.00 L530.95,278.32 L531.23,277.64 L531.51,276.96 L531.75,276.27 L531.91,275.59 L532.07,274.91 L532.22,274.23 L532.38,273.55 L532.54,272.87 L532.69,272.19 L532.85,271.51 L533.01,270.83 L533.17,270.15 L533.25,269.47 L533.30,268.79 L533.36,268.11 L533.42,267.43 L533.48,266.75 L533.53,266.07 L533.59,265.39 L533.60,264.71 L533.60,264.03 L533.60,263.35 L533.60,262.67 L533.60,261.99 L533.55,261.30 L533.44,260.62 L533.33,259.94 L533.22,259.26 L533.12,258.58 L533.01,257.90 L532.90,257.22 L532.79,256.54 L532.68,255.86 L532.57,255.18 L532.46,254.50 L532.35,253.82 L532.24,253.14 L532.13,252.46 L532.02,251.78 L531.91,251.10 L531.80,250.42 L531.69,249.74 L531.58,249.06 L531.47,248.38 L531.36,247.70 L531.25,247.02 L531.10,246.33 L530.91,245.65 L530.72,244.97 L530.53,244.29 L530.35,243.61 L530.16,242.93 L529.97,242.25 L529.78,241.57 L529.59,240.89 L529.41,240.21 L529.22,239.53 L529.03,238.85 L528.84,238.17 L528.65,237.49 L528.50,236.81 L528.36,236.13 L528.22,235.45 L528.08,234.77 L527.94,234.09 L527.80,233.41 L527.67,232.73 L527.53,232.04 L527.39,231.36 L527.25,230.68 L527.11,230.00 L526.97,229.32 L526.83,228.64 L526.69,227.96 L526.48,227.28 L526.27,226.60 L526.06,225.92 L525.85,225.24 L525.65,224.56 L525.44,223.88 L525.23,223.20 L525.02,222.52 L524.81,221.84 L524.64,221.16 L524.46,220.48 L524.29,219.80 L524.12,219.12 L523.94,218.44 L523.77,217.76 L523.59,217.07 L523.42,216.39 L523.25,215.71 L523.07,215.03 L522.90,214.35 L522.73,213.67 L522.55,212.99 L522.38,212.31 L522.23,211.63 L522.10,210.95 L521.98,210.27 L521.85,209.59 L521.72,208.91 L521.60,208.23 L521.47,207.55 L521.34,206.87 L521.21,206.19 L521.09,205.51 L520.96,204.83 L520.83,204.15 L520.71,203.47 L520.59,202.79 L520.52,202.10 L520.46,201.42 L520.39,200.74 L520.33,200.06 L520.26,199.38 L520.19,198.70 L520.13,198.02 L520.06,197.34 L520.00,196.66 L519.93,195.98 L519.87,195.30 L519.80,194.62 L519.74,193.94 L519.67,193.26 L519.60,192.58 L519.54,191.90 L519.50,191.22 L519.49,190.54 L519.49,189.86 L519.48,189.18 L519.48,188.50 L519.47,187.82 L519.47,187.13 L519.46,186.45 L519.46,185.77 L519.45,185.09 L519.45,184.41 L519.44,183.73 L519.44,183.05 L519.43,182.37 L519.43,181.69 L519.42,181.01 L519.42,180.33 L519.41,179.65 L519.41,178.97 L519.40,178.29 L519.40,177.61 L519.39,176.93 L519.38,176.25 L519.38,175.57 L519.37,174.89 L519.37,174.21 L519.36,173.53 L519.36,172.85 L519.35,172.16 L519.35,171.48 L519.34,170.80 L519.34,170.12 L519.33,169.44 L519.33,168.76 L519.32,168.08 L519.32,167.40 L519.31,166.72 L519.31,166.04 L519.30,165.36 L519.30,164.68 L519.30,164.00 L519.30,163.32 L519.30,162.64 L519.30,161.96 L519.30,161.28 L519.30,160.60 L519.30,159.92 L519.30,159.24 L519.30,158.56 L519.30,157.88 L519.30,157.19 L519.30,156.51 L519.30,155.83 L519.30,155.15 L519.30,154.47 L519.30,153.79 L519.30,153.11 L519.30,152.43 L519.30,151.75 L519.30,151.07 L519.30,150.39 L519.30,149.71 L519.30,149.03 L519.30,148.35 L519.30,147.67 L519.30,146.99 L519.30,146.31 L519.30,145.63 L519.30,144.95 L519.30,144.27 L519.30,143.59 L519.30,142.91 L519.30,142.22 L519.30,141.54 L519.30,140.86 L519.30,140.18 L519.30,139.50 L519.30,138.82 L519.30,138.14 L519.30,137.46 L519.30,136.78 L518.50,136.10 L518.30,135.42 L518.30,134.74 L518.30,134.06 L518.30,133.38 L518.30,132.70 L518.30,132.02 L518.30,131.34 L518.30,130.66 L518.30,129.98 L518.30,129.30 L518.30,128.62 L518.30,127.94 L518.30,127.25 L518.30,126.57 L518.30,125.89 L518.30,125.21 L518.30,124.53 L518.30,123.85 L518.30,123.17 L518.30,122.49 L518.30,121.81 L518.30,121.13 L518.30,120.45 L518.30,119.77 L518.30,119.09 L518.30,118.41 L518.30,117.73 L517.39,117.05 L517.30,116.37 L517.30,115.69 L517.30,115.01 L517.30,114.33 L517.30,113.65 L517.30,112.96 L517.30,112.28 L517.30,111.60 L517.30,110.92 L517.30,110.24 L517.30,109.56 L517.30,108.88 L517.30,108.20 L517.30,107.52 L517.30,106.84 L517.30,106.16 L517.30,105.48 L517.30,104.80 L517.30,104.12 L517.30,103.44 L517.30,102.76 L517.30,102.08 L517.30,101.40 L517.30,100.72 L517.30,100.04 L517.30,99.36 L517.30,98.68 L517.30,97.99 L517.30,97.31 L517.30,96.63 L517.30,95.95 L517.30,95.27 L517.30,94.59 L517.30,93.91 L517.30,93.23 L517.30,92.55 L517.30,91.87 L517.30,91.19 L517.30,90.51 L517.30,89.83 L517.30,89.15 L517.30,88.47 L517.30,87.79 L517.30,87.11 L516.75,86.43 L516.30,85.75 L516.30,85.07 L516.30,84.39 L516.30,83.71 L516.30,83.02 L516.30,82.34 L516.30,81.66 L516.30,80.98 L516.30,80.30 L516.30,79.62 L516.30,78.94 L516.30,78.26 L516.30,77.58 L516.30,76.90 L516.30,76.22 L516.30,75.54 L516.30,74.86 L516.30,74.18 L516.30,73.50 L516.30,72.82 L516.30,72.14 L516.30,71.46 L516.30,70.78 L516.30,70.10 L516.30,69.42 L516.30,68.74 L516.30,68.05 L516.30,67.37 L516.30,66.69 L516.30,66.01 L516.30,65.33 L516.30,64.65 L516.30,63.97 L516.30,63.29 L516.30,62.61 L516.30,61.93 L516.30,61.25 L516.30,60.57 L516.30,59.89 L516.30,59.21 L516.30,58.53 L516.30,57.85 L516.30,57.17 L516.30,56.49 L516.30,55.81 L516.30,55.13 L516.30,54.45 L516.30,53.77 L516.30,53.08 L516.30,52.40 L516.30,51.72 L516.30,51.04 L516.30,50.36 L516.30,49.68 L516.30,49.00 L516.30,48.32 L516.30,47.64 L516.30,46.96 L516.30,46.28 L516.30,45.60 L516.30,44.92 L516.30,44.24 L516.30,43.56 L516.30,42.88 L516.30,42.20 L516.30,41.52 L516.30,40.84 L516.30,40.16 L516.30,39.48 L516.30,38.80 L516.30,38.11 L516.30,37.43 L516.30,36.75 L516.30,36.07 L516.30,35.39 L516.30,34.71 L516.30,34.03 L516.30,33.35 L516.30,32.67 L516.30,31.99 L516.30,31.31 L516.44,30.63 L517.30,29.95 L517.30,29.27 L517.30,28.59 L517.30,27.91 L517.30,27.23 L517.30,26.55 L517.30,25.87 L517.30,25.19 L517.30,24.51 L517.30,23.83 L517.30,23.14 L517.30,22.46 L517.30,21.78 L517.30,21.10 L517.30,20.42 L517.30,19.74 L517.30,19.06 L517.30,18.38 L517.30,17.70 L517.30,17.02 L517.30,16.34 L517.30,15.66 L517.30,14.98 L517.30,14.30 L516.30,14.30 Z" class="vio"/>
<path d="M584.90,287.30 L592.80,287.30 L593.29,286.72 L593.79,286.13 L594.28,285.55 L594.77,284.96 L595.27,284.38 L595.76,283.80 L596.25,283.21 L596.74,282.63 L597.24,282.05 L597.73,281.46 L598.22,280.88 L598.72,280.30 L599.12,279.71 L599.50,279.13 L599.88,278.55 L600.26,277.96 L600.64,277.38 L601.02,276.80 L601.40,276.21 L601.78,275.63 L602.16,275.05 L602.54,274.46 L602.92,273.88 L603.30,273.30 L603.68,272.71 L604.06,272.13 L604.44,271.55 L604.80,270.96 L604.80,270.38 L604.80,269.80 L604.80,269.21 L604.80,268.63 L604.80,268.04 L604.80,267.46 L604.80,266.88 L604.80,266.29 L604.80,265.71 L604.80,265.13 L604.80,264.54 L604.80,263.96 L604.80,263.38 L604.80,262.79 L604.80,262.21 L604.80,261.63 L604.61,261.04 L604.41,260.46 L604.22,259.88 L604.02,259.29 L603.82,258.71 L603.62,258.13 L603.42,257.54 L603.23,256.96 L603.03,256.38 L602.85,255.79 L602.71,255.21 L602.58,254.63 L602.44,254.04 L602.30,253.46 L602.16,252.87 L602.02,252.29 L601.88,251.71 L601.75,251.12 L601.61,250.54 L601.47,249.96 L601.33,249.37 L601.19,248.79 L601.06,248.21 L600.92,247.62 L600.78,247.04 L600.63,246.46 L600.45,245.87 L600.28,245.29 L600.11,244.71 L599.93,244.12 L599.76,243.54 L599.59,242.96 L599.41,242.37 L599.24,241.79 L599.06,241.21 L598.89,240.62 L598.72,240.04 L598.54,239.46 L598.37,238.87 L598.19,238.29 L598.02,237.71 L597.85,237.12 L597.70,236.54 L597.54,235.95 L597.38,235.37 L597.22,234.79 L597.07,234.20 L596.91,233.62 L596.75,233.04 L596.60,232.45 L596.44,231.87 L596.28,231.29 L596.13,230.70 L595.97,230.12 L595.81,229.54 L595.66,228.95 L595.50,228.37 L595.34,227.79 L595.19,227.20 L595.04,226.62 L594.89,226.04 L594.74,225.45 L594.59,224.87 L594.44,224.29 L594.29,223.70 L594.14,223.12 L593.99,222.54 L593.84,221.95 L593.72,221.37 L593.61,220.79 L593.50,220.20 L593.38,219.62 L593.27,219.03 L593.16,218.45 L593.05,217.87 L592.94,217.28 L592.83,216.70 L592.72,216.12 L592.61,215.53 L592.50,214.95 L592.38,214.37 L592.27,213.78 L592.16,213.20 L592.05,212.62 L591.94,212.03 L591.83,211.45 L591.72,210.87 L591.61,210.28 L591.49,209.70 L591.38,209.12 L591.27,208.53 L591.16,207.95 L591.05,207.37 L590.94,206.78 L590.83,206.20 L590.72,205.62 L590.61,205.03 L590.49,204.45 L590.38,203.86 L590.27,203.28 L590.17,202.70 L590.08,202.11 L589.99,201.53 L589.90,200.95 L589.81,200.36 L589.72,199.78 L589.63,199.20 L589.55,198.61 L589.46,198.03 L589.37,197.45 L589.28,196.86 L589.19,196.28 L589.10,195.70 L589.01,195.11 L588.92,194.53 L588.83,193.95 L588.74,193.36 L588.66,192.78 L588.57,192.20 L588.48,191.61 L588.39,191.03 L588.30,190.45 L588.21,189.86 L588.12,189.28 L588.03,188.70 L587.94,188.11 L587.85,187.53 L587.76,186.94 L587.68,186.36 L587.59,185.78 L587.50,185.19 L587.41,184.61 L587.32,184.03 L587.27,183.44 L587.23,182.86 L587.19,182.28 L587.15,181.69 L587.11,181.11 L587.07,180.53 L587.03,179.94 L587.00,179.36 L586.96,178.78 L586.92,178.19 L586.88,177.61 L586.84,177.03 L586.80,176.44 L586.76,175.86 L586.72,175.28 L586.68,174.69 L586.64,174.11 L586.60,173.53 L586.57,172.94 L586.53,172.36 L586.49,171.78 L586.45,171.19 L586.41,170.61 L586.37,170.02 L586.33,169.44 L586.29,168.86 L586.25,168.27 L586.21,167.69 L586.17,167.11 L586.14,166.52 L586.16,165.94 L586.74,165.36 L587.10,164.77 L587.10,164.19 L587.10,163.61 L587.10,163.02 L587.10,162.44 L587.10,161.86 L587.10,161.27 L587.10,160.69 L587.10,160.11 L587.10,159.52 L587.10,158.94 L587.10,158.36 L587.10,157.77 L587.10,157.19 L587.10,156.61 L587.10,156.02 L587.10,155.44 L587.10,154.85 L587.10,154.27 L587.10,153.69 L587.10,153.10 L587.10,152.52 L587.10,151.94 L587.10,151.35 L587.10,150.77 L587.10,150.19 L587.10,149.60 L587.10,149.02 L587.10,148.44 L587.10,147.85 L587.10,147.27 L587.10,146.69 L587.10,146.10 L587.10,145.52 L587.02,144.94 L586.32,144.35 L585.44,143.77 L584.90,143.19 L584.90,142.60 L584.90,142.02 L584.90,141.44 L584.90,140.85 L584.90,140.27 L584.90,139.69 L584.90,139.10 L584.90,138.52 L584.90,137.93 L584.90,137.35 L584.90,136.77 L584.90,136.18 L584.90,135.60 L584.90,135.02 L584.90,134.43 L584.90,133.85 L584.90,133.27 L584.90,132.68 L584.90,132.10 L584.90,131.52 L584.90,130.93 L584.90,130.35 L584.90,129.77 L584.90,129.18 L584.90,128.60 L584.90,128.02 L584.90,127.43 L584.90,126.85 L584.90,126.27 L584.90,125.68 L584.90,125.10 L584.90,124.52 L584.90,123.93 L584.90,123.35 L584.90,122.77 L584.90,122.18 L584.90,121.60 L584.90,121.01 L584.90,120.43 L584.90,119.85 L584.90,119.26 L584.90,118.68 L584.90,118.10 L584.90,117.51 L584.90,116.93 L585.21,116.35 L585.90,115.76 L585.90,115.18 L585.90,114.60 L585.90,114.01 L585.90,113.43 L585.90,112.85 L585.90,112.26 L585.90,111.68 L585.90,111.10 L585.90,110.51 L585.90,109.93 L585.90,109.35 L585.90,108.76 L585.90,108.18 L585.90,107.60 L585.90,107.01 L584.90,106.43 L584.90,105.84 L584.90,105.26 L584.90,104.68 L584.90,104.09 L584.90,103.51 L584.90,102.93 L584.90,102.34 L584.90,101.76 L584.90,101.18 L584.90,100.59 L584.90,100.01 L584.90,99.43 L584.90,98.84 L584.90,98.26 L584.90,97.68 L584.90,97.09 L584.90,96.51 L584.90,95.93 L584.90,95.34 L584.90,94.76 L584.90,94.18 L584.90,93.59 L584.90,93.01 L584.90,92.43 L584.90,91.84 L584.90,91.26 L584.90,90.68 L584.90,90.09 L584.90,89.51 L584.90,88.92 L584.90,88.34 L584.90,87.76 L584.90,87.17 L584.90,86.59 L584.90,86.01 L584.90,85.42 L584.90,84.84 L584.90,84.26 L584.90,83.67 L584.90,83.09 L584.90,82.51 L584.90,81.92 L584.90,81.34 L584.90,80.76 L584.90,80.17 L584.90,79.59 L584.90,79.01 L584.90,78.42 L584.90,77.84 L584.90,77.26 L584.90,76.67 L584.90,76.09 L584.90,75.51 L584.90,74.92 L584.90,74.34 L584.90,73.76 L584.90,73.17 L584.90,72.59 L584.90,72.00 L584.90,71.42 L584.90,70.84 L584.90,70.25 L584.90,69.67 L584.90,69.09 L584.90,68.50 L584.90,67.92 L584.90,67.34 L584.90,66.75 L584.90,66.17 L584.90,65.59 L584.90,65.00 L584.90,64.42 L584.90,63.84 L584.90,63.25 L584.90,62.67 L584.90,62.09 L584.90,61.50 L584.90,60.92 L584.90,60.34 L584.90,59.75 L584.90,59.17 L584.90,58.59 L584.90,58.00 L584.90,57.42 L584.90,56.83 L584.90,56.25 L584.90,55.67 L584.90,55.08 L584.90,54.50 L584.90,54.50 Z" class="vio"/>
<path d="M652.70,287.90 L662.70,287.90 L663.15,287.23 L663.60,286.57 L664.04,285.91 L664.49,285.24 L664.94,284.58 L665.39,283.91 L665.95,283.25 L666.61,282.59 L667.28,281.92 L667.94,281.26 L668.61,280.59 L669.27,279.93 L670.16,279.26 L671.16,278.60 L672.17,277.94 L673.17,277.27 L674.18,276.61 L675.18,275.94 L676.20,275.28 L677.23,274.62 L678.25,273.95 L679.27,273.29 L680.30,272.62 L681.32,271.96 L682.35,271.29 L683.05,270.63 L683.51,269.97 L683.96,269.30 L684.42,268.64 L684.87,267.97 L685.07,267.31 L684.61,266.65 L684.16,265.98 L683.70,265.32 L683.25,264.65 L682.79,263.99 L682.18,263.33 L681.57,262.66 L680.95,262.00 L680.34,261.33 L679.73,260.67 L679.14,260.00 L678.59,259.34 L678.03,258.68 L677.48,258.01 L676.93,257.35 L676.38,256.68 L675.83,256.02 L675.28,255.36 L674.72,254.69 L674.08,254.03 L673.32,253.36 L672.55,252.70 L671.79,252.03 L671.02,251.37 L670.26,250.71 L669.49,250.04 L668.73,249.38 L667.96,248.71 L667.25,248.05 L666.59,247.39 L665.92,246.72 L665.26,246.06 L664.59,245.39 L663.93,244.73 L663.52,244.06 L663.25,243.40 L662.98,242.74 L662.70,242.07 L662.43,241.41 L662.16,240.74 L661.97,240.08 L661.81,239.42 L661.65,238.75 L661.49,238.09 L661.33,237.42 L661.17,236.76 L661.01,236.09 L660.85,235.43 L660.69,234.77 L660.56,234.10 L660.44,233.44 L660.31,232.77 L660.18,232.11 L660.05,231.45 L659.92,230.78 L659.79,230.12 L659.66,229.45 L659.53,228.79 L659.41,228.12 L659.28,227.46 L659.15,226.80 L659.02,226.13 L658.89,225.47 L658.80,224.80 L658.82,224.14 L658.83,223.48 L658.84,222.81 L658.85,222.15 L658.87,221.48 L658.88,220.82 L658.89,220.15 L658.90,219.49 L658.92,218.83 L658.93,218.16 L658.94,217.50 L658.95,216.83 L658.97,216.17 L658.98,215.51 L658.99,214.84 L658.96,214.18 L658.85,213.51 L658.74,212.85 L658.63,212.19 L658.51,211.52 L658.40,210.86 L658.29,210.19 L658.18,209.53 L658.07,208.86 L657.95,208.20 L657.84,207.54 L657.73,206.87 L657.62,206.21 L657.50,205.54 L657.39,204.88 L657.28,204.22 L657.17,203.55 L657.06,202.89 L656.94,202.22 L656.83,201.56 L656.72,200.89 L656.61,200.23 L656.49,199.57 L656.39,198.90 L656.28,198.24 L656.18,197.57 L656.07,196.91 L655.97,196.25 L655.86,195.58 L655.75,194.92 L655.65,194.25 L655.54,193.59 L655.44,192.92 L655.33,192.26 L655.23,191.60 L655.12,190.93 L655.02,190.27 L654.91,189.60 L654.80,188.94 L654.70,188.28 L654.59,187.61 L654.49,186.95 L654.38,186.28 L654.28,185.62 L654.17,184.95 L654.06,184.29 L653.96,183.63 L653.85,182.96 L653.75,182.30 L653.70,181.63 L653.70,180.97 L653.70,180.31 L653.70,179.64 L653.70,178.98 L653.70,178.31 L653.70,177.65 L653.70,176.98 L653.70,176.32 L653.70,175.66 L653.70,174.99 L653.70,174.33 L653.70,173.66 L653.70,173.00 L653.70,172.34 L653.70,171.67 L653.70,171.01 L653.70,170.34 L653.70,169.68 L653.70,169.02 L653.70,168.35 L653.70,167.69 L653.70,167.02 L653.70,166.36 L653.70,165.69 L653.70,165.03 L653.70,164.37 L653.70,163.70 L653.70,163.04 L653.70,162.37 L653.70,161.71 L653.70,161.05 L653.70,160.38 L653.70,159.72 L653.70,159.05 L653.70,158.39 L653.70,157.72 L653.70,157.06 L653.70,156.40 L653.70,155.73 L653.70,155.07 L653.70,154.40 L653.70,153.74 L653.70,153.08 L653.70,152.41 L653.70,151.75 L653.70,151.08 L653.70,150.42 L653.21,149.75 L652.70,149.09 L652.70,148.43 L652.70,147.76 L652.70,147.10 L652.70,146.43 L652.70,145.77 L653.49,145.11 L653.70,144.44 L653.70,143.78 L653.70,143.11 L653.70,142.45 L653.70,141.78 L653.70,141.12 L653.70,140.46 L653.70,139.79 L653.70,139.13 L653.70,138.46 L653.70,137.80 L653.70,137.14 L653.70,136.47 L653.70,135.81 L653.70,135.14 L653.70,134.48 L653.70,133.81 L653.70,133.15 L653.70,132.49 L653.70,131.82 L653.70,131.16 L653.70,130.49 L653.70,129.83 L653.70,129.17 L653.70,128.50 L653.70,127.84 L653.70,127.17 L653.70,126.51 L653.70,125.85 L653.70,125.18 L653.70,124.52 L653.70,123.85 L653.70,123.19 L653.70,122.52 L653.70,121.86 L653.70,121.20 L653.70,120.53 L653.70,119.87 L653.70,119.20 L653.70,118.54 L653.70,117.88 L653.70,117.21 L653.70,116.55 L653.70,115.88 L653.70,115.22 L653.70,114.55 L653.70,113.89 L653.70,113.23 L653.70,112.56 L653.70,111.90 L653.70,111.23 L653.70,110.57 L653.70,109.91 L653.70,109.24 L653.70,108.58 L653.70,107.91 L653.70,107.25 L653.70,106.58 L653.70,105.92 L653.70,105.26 L653.70,104.59 L653.70,103.93 L653.70,103.26 L653.70,102.60 L653.70,101.94 L653.70,101.27 L653.70,100.61 L653.70,99.94 L653.70,99.28 L653.70,98.61 L653.70,97.95 L653.70,97.29 L653.54,96.62 L652.70,95.96 L652.70,95.29 L652.70,94.63 L652.70,93.97 L652.70,93.30 L652.70,92.64 L652.70,91.97 L652.70,91.31 L652.70,90.64 L652.70,89.98 L652.70,89.32 L652.70,88.65 L652.70,87.99 L652.70,87.32 L652.70,86.66 L652.70,86.00 L652.70,85.33 L652.70,84.67 L652.70,84.00 L652.70,83.34 L652.70,82.67 L652.70,82.01 L652.70,81.35 L652.70,80.68 L652.70,80.02 L652.70,79.35 L652.70,78.69 L652.70,78.03 L652.70,77.36 L652.70,76.70 L652.70,76.03 L652.70,75.37 L652.70,74.71 L652.70,74.04 L652.70,73.38 L652.70,72.71 L652.70,72.05 L652.70,71.38 L652.70,70.72 L652.70,70.06 L652.70,69.39 L652.70,68.73 L652.70,68.06 L652.70,67.40 L652.70,66.74 L652.70,66.07 L652.70,65.41 L652.70,64.74 L652.70,64.08 L652.70,63.41 L652.70,62.75 L652.70,62.09 L652.70,61.42 L652.70,60.76 L652.70,60.09 L652.70,59.43 L652.70,58.77 L652.70,58.10 L652.70,57.44 L652.70,56.77 L652.70,56.11 L652.70,55.44 L652.70,54.78 L652.70,54.12 L652.70,53.45 L652.70,52.79 L652.70,52.12 L652.70,51.46 L652.70,50.80 L652.70,50.13 L652.70,49.47 L652.70,48.80 L652.70,48.14 L652.70,47.47 L652.70,46.81 L652.70,46.15 L652.70,45.48 L652.70,44.82 L652.70,44.15 L652.70,43.49 L652.70,42.83 L652.70,42.16 L652.70,41.50 L652.70,40.83 L652.70,40.17 L652.70,39.50 L652.70,38.84 L652.70,38.18 L652.70,37.51 L652.70,36.85 L652.70,36.18 L652.70,35.52 L652.70,34.86 L653.32,34.19 L653.70,33.53 L653.70,32.86 L653.70,32.20 L653.70,31.54 L653.70,30.87 L653.70,30.21 L653.70,29.54 L653.70,28.88 L653.70,28.21 L653.70,27.55 L653.70,26.89 L653.70,26.22 L653.70,25.56 L653.70,24.89 L653.70,24.23 L653.70,23.57 L653.70,22.90 L652.70,22.90 Z" class="vio"/>
<g>
<circle cx="78.5" cy="29.5" r="2.35" fill="#ff3d00"/>
<circle cx="76.5" cy="112.5" r="2.35" fill="#ffad00"/>
<circle cx="81.5" cy="127.5" r="2.35" fill="#ffc000"/>
<circle cx="85.5" cy="125.5" r="2.35" fill="#ffbe00"/>
<circle cx="90.5" cy="135.5" r="2.35" fill="#ffc900"/>
<circle cx="90.5" cy="171.5" r="2.35" fill="#fff800"/>
<circle cx="93.5" cy="180.5" r="2.35" fill="#fdff00"/>
<circle cx="73.5" cy="202.5" r="2.35" fill="#e7ff00"/>
<circle cx="75.5" cy="200.5" r="2.35" fill="#e9ff00"/>
<circle cx="78.5" cy="200.5" r="2.35" fill="#e9ff00"/>
<circle cx="80.5" cy="206.5" r="2.35" fill="#e3ff00"/>
<circle cx="85.5" cy="200.5" r="2.35" fill="#e9ff00"/>
<circle cx="91.5" cy="203.5" r="2.35" fill="#e6ff00"/>
<circle cx="73.5" cy="212.5" r="2.35" fill="#ddff00"/>
<circle cx="87.5" cy="211.5" r="2.35" fill="#deff00"/>
<circle cx="92.5" cy="209.5" r="2.35" fill="#e0ff00"/>
<circle cx="94.5" cy="216.5" r="2.35" fill="#d9ff00"/>
<circle cx="74.5" cy="223.5" r="2.35" fill="#d2ff00"/>
<circle cx="92.5" cy="222.5" r="2.35" fill="#d3ff00"/>
<circle cx="93.5" cy="232.5" r="2.35" fill="#c8ff00"/>
<circle cx="90.5" cy="237.5" r="2.35" fill="#c3ff00"/>
<circle cx="80.5" cy="220.5" r="2.35" fill="#d5ff00"/>
<circle cx="84.5" cy="221.5" r="2.35" fill="#d4ff00"/>
<circle cx="82.5" cy="231.5" r="2.35" fill="#caff00"/>
<circle cx="84.5" cy="236.5" r="2.35" fill="#c4ff00"/>
<circle cx="87.5" cy="234.5" r="2.35" fill="#c7ff00"/>
<circle cx="80.5" cy="244.5" r="2.35" fill="#bcff00"/>
<circle cx="84.5" cy="251.5" r="2.35" fill="#b3ff00"/>
<circle cx="86.5" cy="252.5" r="2.35" fill="#b2ff00"/>
<circle cx="81.5" cy="255.5" r="2.35" fill="#aeff00"/>
<circle cx="87.5" cy="260.5" r="2.35" fill="#a8ff00"/>
<circle cx="88.5" cy="236.5" r="2.35" fill="#c4ff00"/>
<circle cx="93.5" cy="241.5" r="2.35" fill="#bfff00"/>
<circle cx="73.5" cy="252.5" r="2.35" fill="#b2ff00"/>
<circle cx="72.5" cy="259.5" r="2.35" fill="#aaff00"/>
<circle cx="74.5" cy="261.5" r="2.35" fill="#a8ff00"/>
<circle cx="75.5" cy="265.5" r="2.35" fill="#a3ff00"/>
<circle cx="77.5" cy="267.5" r="2.35" fill="#a1ff00"/>
<circle cx="90.5" cy="264.5" r="2.35" fill="#a4ff00"/>
<circle cx="94.5" cy="267.5" r="2.35" fill="#a1ff00"/>
<circle cx="92.5" cy="271.5" r="2.35" fill="#9bff00"/>
<circle cx="79.5" cy="274.5" r="2.35" fill="#98ff00"/>
<circle cx="78.5" cy="277.5" r="2.35" fill="#93ff00"/>
<circle cx="76.5" cy="281.5" r="2.35" fill="#8fff00"/>
<circle cx="77.5" cy="285.5" r="2.35" fill="#89ff00"/>
<circle cx="80.5" cy="282.5" r="2.35" fill="#8dff00"/>
<circle cx="86.5" cy="275.5" r="2.35" fill="#97ff00"/>
<circle cx="88.5" cy="282.5" r="2.35" fill="#8dff00"/>
<circle cx="90.5" cy="278.5" r="2.35" fill="#92ff00"/>
<circle cx="92.5" cy="277.5" r="2.35" fill="#94ff00"/>
<circle cx="90.5" cy="284.5" r="2.35" fill="#8bff00"/>
<circle cx="80.5" cy="277.5" r="2.35" fill="#94ff00"/>
<circle cx="93.5" cy="254.5" r="2.35" fill="#b0ff00"/>
<circle cx="94.5" cy="261.5" r="2.35" fill="#a8ff00"/>
<circle cx="75.5" cy="250.5" r="2.35" fill="#b4ff00"/>
<circle cx="75.5" cy="263.5" r="2.35" fill="#a6ff00"/>
<circle cx="154.5" cy="275.5" r="2.35" fill="#96ff00"/>
<circle cx="151.5" cy="272.5" r="2.35" fill="#9bff00"/>
<circle cx="157.5" cy="273.5" r="2.35" fill="#99ff00"/>
<circle cx="146.5" cy="281.5" r="2.35" fill="#8eff00"/>
<circle cx="160.5" cy="280.5" r="2.35" fill="#90ff00"/>
<circle cx="146.5" cy="272.5" r="2.35" fill="#9aff00"/>
<circle cx="157.5" cy="286.5" r="2.35" fill="#88ff00"/>
<circle cx="143.5" cy="273.5" r="2.35" fill="#9aff00"/>
<circle cx="152.5" cy="273.5" r="2.35" fill="#99ff00"/>
<circle cx="143.5" cy="277.5" r="2.35" fill="#93ff00"/>
<circle cx="148.5" cy="280.5" r="2.35" fill="#90ff00"/>
<circle cx="148.5" cy="280.5" r="2.35" fill="#8fff00"/>
<circle cx="156.5" cy="281.5" r="2.35" fill="#8fff00"/>
<circle cx="151.5" cy="278.5" r="2.35" fill="#93ff00"/>
<circle cx="143.5" cy="277.5" r="2.35" fill="#94ff00"/>
<circle cx="162.5" cy="276.5" r="2.35" fill="#95ff00"/>
<circle cx="160.5" cy="270.5" r="2.35" fill="#9cff00"/>
<circle cx="160.5" cy="273.5" r="2.35" fill="#99ff00"/>
<circle cx="147.5" cy="275.5" r="2.35" fill="#96ff00"/>
<circle cx="150.5" cy="270.5" r="2.35" fill="#9cff00"/>
<circle cx="147.5" cy="281.5" r="2.35" fill="#8eff00"/>
<circle cx="145.5" cy="282.5" r="2.35" fill="#8cff00"/>
<circle cx="143.5" cy="275.5" r="2.35" fill="#96ff00"/>
<circle cx="152.5" cy="285.5" r="2.35" fill="#89ff00"/>
<circle cx="145.5" cy="285.5" r="2.35" fill="#89ff00"/>
<circle cx="146.5" cy="277.5" r="2.35" fill="#94ff00"/>
<circle cx="159.5" cy="277.5" r="2.35" fill="#93ff00"/>
<circle cx="152.5" cy="271.5" r="2.35" fill="#9bff00"/>
<circle cx="146.5" cy="275.5" r="2.35" fill="#96ff00"/>
<circle cx="155.5" cy="277.5" r="2.35" fill="#94ff00"/>
<circle cx="147.5" cy="277.5" r="2.35" fill="#94ff00"/>
<circle cx="153.5" cy="281.5" r="2.35" fill="#8fff00"/>
<circle cx="148.5" cy="285.5" r="2.35" fill="#88ff00"/>
<circle cx="152.5" cy="282.5" r="2.35" fill="#8dff00"/>
<circle cx="155.5" cy="274.5" r="2.35" fill="#97ff00"/>
<circle cx="153.5" cy="282.5" r="2.35" fill="#8eff00"/>
<circle cx="150.5" cy="279.5" r="2.35" fill="#91ff00"/>
<circle cx="158.5" cy="286.5" r="2.35" fill="#88ff00"/>
<circle cx="160.5" cy="272.5" r="2.35" fill="#9aff00"/>
<circle cx="146.5" cy="282.5" r="2.35" fill="#8cff00"/>
<circle cx="145.5" cy="280.5" r="2.35" fill="#8fff00"/>
<circle cx="144.5" cy="272.5" r="2.35" fill="#9aff00"/>
<circle cx="162.5" cy="277.5" r="2.35" fill="#94ff00"/>
<circle cx="161.5" cy="272.5" r="2.35" fill="#9aff00"/>
<circle cx="147.5" cy="275.5" r="2.35" fill="#97ff00"/>
<circle cx="161.5" cy="274.5" r="2.35" fill="#98ff00"/>
<circle cx="146.5" cy="284.5" r="2.35" fill="#8bff00"/>
<circle cx="152.5" cy="276.5" r="2.35" fill="#95ff00"/>
<circle cx="152.5" cy="277.5" r="2.35" fill="#94ff00"/>
<circle cx="160.5" cy="272.5" r="2.35" fill="#9aff00"/>
<circle cx="143.5" cy="279.5" r="2.35" fill="#91ff00"/>
<circle cx="148.5" cy="275.5" r="2.35" fill="#96ff00"/>
<circle cx="154.5" cy="284.5" r="2.35" fill="#8aff00"/>
<circle cx="143.5" cy="278.5" r="2.35" fill="#92ff00"/>
<circle cx="147.5" cy="279.5" r="2.35" fill="#90ff00"/>
<circle cx="151.5" cy="283.5" r="2.35" fill="#8cff00"/>
<circle cx="160.5" cy="273.5" r="2.35" fill="#99ff00"/>
<circle cx="157.5" cy="279.5" r="2.35" fill="#92ff00"/>
<circle cx="159.5" cy="271.5" r="2.35" fill="#9cff00"/>
<circle cx="157.5" cy="276.5" r="2.35" fill="#96ff00"/>
<circle cx="156.5" cy="275.5" r="2.35" fill="#96ff00"/>
<circle cx="159.5" cy="275.5" r="2.35" fill="#96ff00"/>
<circle cx="156.5" cy="274.5" r="2.35" fill="#97ff00"/>
<circle cx="157.5" cy="283.5" r="2.35" fill="#8cff00"/>
<circle cx="148.5" cy="278.5" r="2.35" fill="#93ff00"/>
<circle cx="145.5" cy="281.5" r="2.35" fill="#8eff00"/>
<circle cx="157.5" cy="278.5" r="2.35" fill="#92ff00"/>
<circle cx="145.5" cy="284.5" r="2.35" fill="#8bff00"/>
<circle cx="160.5" cy="271.5" r="2.35" fill="#9cff00"/>
<circle cx="154.5" cy="281.5" r="2.35" fill="#8eff00"/>
<circle cx="149.5" cy="274.5" r="2.35" fill="#97ff00"/>
<circle cx="161.5" cy="280.5" r="2.35" fill="#90ff00"/>
<circle cx="145.5" cy="272.5" r="2.35" fill="#9aff00"/>
<circle cx="152.5" cy="275.5" r="2.35" fill="#97ff00"/>
<circle cx="144.5" cy="283.5" r="2.35" fill="#8cff00"/>
<circle cx="161.5" cy="272.5" r="2.35" fill="#9aff00"/>
<circle cx="154.5" cy="271.5" r="2.35" fill="#9bff00"/>
<circle cx="158.5" cy="271.5" r="2.35" fill="#9bff00"/>
<circle cx="148.5" cy="276.5" r="2.35" fill="#95ff00"/>
<circle cx="158.5" cy="283.5" r="2.35" fill="#8cff00"/>
<circle cx="156.5" cy="282.5" r="2.35" fill="#8dff00"/>
<circle cx="155.5" cy="271.5" r="2.35" fill="#9bff00"/>
<circle cx="161.5" cy="276.5" r="2.35" fill="#95ff00"/>
<circle cx="151.5" cy="282.5" r="2.35" fill="#8dff00"/>
<circle cx="150.5" cy="272.5" r="2.35" fill="#9aff00"/>
<circle cx="156.5" cy="275.5" r="2.35" fill="#97ff00"/>
<circle cx="159.5" cy="276.5" r="2.35" fill="#95ff00"/>
<circle cx="149.5" cy="279.5" r="2.35" fill="#92ff00"/>
<circle cx="155.5" cy="278.5" r="2.35" fill="#92ff00"/>
<circle cx="146.5" cy="281.5" r="2.35" fill="#8eff00"/>
<circle cx="153.5" cy="285.5" r="2.35" fill="#89ff00"/>
<circle cx="157.5" cy="272.5" r="2.35" fill="#9aff00"/>
<circle cx="143.5" cy="261.5" r="2.35" fill="#a8ff00"/>
<circle cx="157.5" cy="259.5" r="2.35" fill="#aaff00"/>
<circle cx="142.5" cy="264.5" r="2.35" fill="#a4ff00"/>
<circle cx="161.5" cy="254.5" r="2.35" fill="#b0ff00"/>
<circle cx="151.5" cy="270.5" r="2.35" fill="#9dff00"/>
<circle cx="150.5" cy="263.5" r="2.35" fill="#a6ff00"/>
<circle cx="157.5" cy="270.5" r="2.35" fill="#9dff00"/>
<circle cx="153.5" cy="268.5" r="2.35" fill="#9fff00"/>
<circle cx="157.5" cy="249.5" r="2.35" fill="#b6ff00"/>
<circle cx="144.5" cy="257.5" r="2.35" fill="#adff00"/>
<circle cx="153.5" cy="262.5" r="2.35" fill="#a7ff00"/>
<circle cx="153.5" cy="260.5" r="2.35" fill="#a9ff00"/>
<circle cx="161.5" cy="251.5" r="2.35" fill="#b3ff00"/>
<circle cx="143.5" cy="263.5" r="2.35" fill="#a5ff00"/>
<circle cx="151.5" cy="258.5" r="2.35" fill="#abff00"/>
<circle cx="155.5" cy="256.5" r="2.35" fill="#aeff00"/>
<circle cx="153.5" cy="263.5" r="2.35" fill="#a5ff00"/>
<circle cx="144.5" cy="260.5" r="2.35" fill="#a9ff00"/>
<circle cx="154.5" cy="254.5" r="2.35" fill="#b0ff00"/>
<circle cx="147.5" cy="250.5" r="2.35" fill="#b4ff00"/>
<circle cx="146.5" cy="267.5" r="2.35" fill="#a0ff00"/>
<circle cx="160.5" cy="250.5" r="2.35" fill="#b5ff00"/>
<circle cx="146.5" cy="270.5" r="2.35" fill="#9cff00"/>
<circle cx="151.5" cy="254.5" r="2.35" fill="#b0ff00"/>
<circle cx="157.5" cy="253.5" r="2.35" fill="#b1ff00"/>
<circle cx="156.5" cy="268.5" r="2.35" fill="#a0ff00"/>
<circle cx="153.5" cy="262.5" r="2.35" fill="#a7ff00"/>
<circle cx="158.5" cy="253.5" r="2.35" fill="#b1ff00"/>
<circle cx="151.5" cy="270.5" r="2.35" fill="#9dff00"/>
<circle cx="155.5" cy="257.5" r="2.35" fill="#acff00"/>
<circle cx="158.5" cy="253.5" r="2.35" fill="#b1ff00"/>
<circle cx="156.5" cy="260.5" r="2.35" fill="#a9ff00"/>
<circle cx="155.5" cy="255.5" r="2.35" fill="#afff00"/>
<circle cx="150.5" cy="266.5" r="2.35" fill="#a2ff00"/>
<circle cx="153.5" cy="266.5" r="2.35" fill="#a1ff00"/>
<circle cx="150.5" cy="263.5" r="2.35" fill="#a5ff00"/>
<circle cx="157.5" cy="267.5" r="2.35" fill="#a1ff00"/>
<circle cx="150.5" cy="263.5" r="2.35" fill="#a5ff00"/>
<circle cx="151.5" cy="249.5" r="2.35" fill="#b5ff00"/>
<circle cx="157.5" cy="258.5" r="2.35" fill="#abff00"/>
<circle cx="152.5" cy="263.5" r="2.35" fill="#a5ff00"/>
<circle cx="149.5" cy="265.5" r="2.35" fill="#a3ff00"/>
<circle cx="159.5" cy="249.5" r="2.35" fill="#b5ff00"/>
<circle cx="150.5" cy="261.5" r="2.35" fill="#a7ff00"/>
<circle cx="159.5" cy="249.5" r="2.35" fill="#b6ff00"/>
<circle cx="158.5" cy="260.5" r="2.35" fill="#a9ff00"/>
<circle cx="151.5" cy="260.5" r="2.35" fill="#a9ff00"/>
<circle cx="156.5" cy="251.5" r="2.35" fill="#b4ff00"/>
<circle cx="143.5" cy="255.5" r="2.35" fill="#afff00"/>
<circle cx="150.5" cy="258.5" r="2.35" fill="#abff00"/>
<circle cx="159.5" cy="262.5" r="2.35" fill="#a7ff00"/>
<circle cx="154.5" cy="251.5" r="2.35" fill="#b3ff00"/>
<circle cx="153.5" cy="262.5" r="2.35" fill="#a7ff00"/>
<circle cx="155.5" cy="250.5" r="2.35" fill="#b4ff00"/>
<circle cx="156.5" cy="269.5" r="2.35" fill="#9eff00"/>
<circle cx="154.5" cy="262.5" r="2.35" fill="#a7ff00"/>
<circle cx="151.5" cy="260.5" r="2.35" fill="#a9ff00"/>
<circle cx="146.5" cy="249.5" r="2.35" fill="#b5ff00"/>
<circle cx="148.5" cy="265.5" r="2.35" fill="#a3ff00"/>
<circle cx="148.5" cy="253.5" r="2.35" fill="#b1ff00"/>
<circle cx="151.5" cy="256.5" r="2.35" fill="#adff00"/>
<circle cx="162.5" cy="255.5" r="2.35" fill="#afff00"/>
<circle cx="149.5" cy="257.5" r="2.35" fill="#acff00"/>
<circle cx="151.5" cy="249.5" r="2.35" fill="#b6ff00"/>
<circle cx="150.5" cy="264.5" r="2.35" fill="#a5ff00"/>
<circle cx="154.5" cy="262.5" r="2.35" fill="#a6ff00"/>
<circle cx="161.5" cy="266.5" r="2.35" fill="#a1ff00"/>
<circle cx="160.5" cy="269.5" r="2.35" fill="#9eff00"/>
<circle cx="150.5" cy="266.5" r="2.35" fill="#a2ff00"/>
<circle cx="147.5" cy="250.5" r="2.35" fill="#b4ff00"/>
<circle cx="160.5" cy="252.5" r="2.35" fill="#b2ff00"/>
<circle cx="152.5" cy="268.5" r="2.35" fill="#9fff00"/>
<circle cx="156.5" cy="258.5" r="2.35" fill="#acff00"/>
<circle cx="144.5" cy="261.5" r="2.35" fill="#a8ff00"/>
<circle cx="159.5" cy="258.5" r="2.35" fill="#abff00"/>
<circle cx="148.5" cy="257.5" r="2.35" fill="#adff00"/>
<circle cx="152.5" cy="264.5" r="2.35" fill="#a4ff00"/>
<circle cx="146.5" cy="249.5" r="2.35" fill="#b6ff00"/>
<circle cx="151.5" cy="261.5" r="2.35" fill="#a8ff00"/>
<circle cx="159.5" cy="257.5" r="2.35" fill="#acff00"/>
<circle cx="159.5" cy="257.5" r="2.35" fill="#acff00"/>
<circle cx="152.5" cy="267.5" r="2.35" fill="#a1ff00"/>
<circle cx="157.5" cy="269.5" r="2.35" fill="#9eff00"/>
<circle cx="151.5" cy="262.5" r="2.35" fill="#a7ff00"/>
<circle cx="150.5" cy="254.5" r="2.35" fill="#b0ff00"/>
<circle cx="153.5" cy="253.5" r="2.35" fill="#b1ff00"/>
<circle cx="146.5" cy="255.5" r="2.35" fill="#afff00"/>
<circle cx="148.5" cy="268.5" r="2.35" fill="#9fff00"/>
<circle cx="156.5" cy="250.5" r="2.35" fill="#b4ff00"/>
<circle cx="158.5" cy="253.5" r="2.35" fill="#b1ff00"/>
<circle cx="143.5" cy="251.5" r="2.35" fill="#b3ff00"/>
<circle cx="157.5" cy="260.5" r="2.35" fill="#a9ff00"/>
<circle cx="158.5" cy="215.5" r="2.35" fill="#daff00"/>
<circle cx="151.5" cy="247.5" r="2.35" fill="#b8ff00"/>
<circle cx="143.5" cy="247.5" r="2.35" fill="#b8ff00"/>
<circle cx="156.5" cy="247.5" r="2.35" fill="#b7ff00"/>
<circle cx="147.5" cy="241.5" r="2.35" fill="#bfff00"/>
<circle cx="155.5" cy="241.5" r="2.35" fill="#beff00"/>
<circle cx="150.5" cy="243.5" r="2.35" fill="#bcff00"/>
<circle cx="155.5" cy="230.5" r="2.35" fill="#cbff00"/>
<circle cx="147.5" cy="247.5" r="2.35" fill="#b8ff00"/>
<circle cx="152.5" cy="229.5" r="2.35" fill="#ccff00"/>
<circle cx="153.5" cy="243.5" r="2.35" fill="#bcff00"/>
<circle cx="155.5" cy="225.5" r="2.35" fill="#d0ff00"/>
<circle cx="146.5" cy="247.5" r="2.35" fill="#b7ff00"/>
<circle cx="161.5" cy="239.5" r="2.35" fill="#c1ff00"/>
<circle cx="148.5" cy="214.5" r="2.35" fill="#dbff00"/>
<circle cx="148.5" cy="231.5" r="2.35" fill="#c9ff00"/>
<circle cx="147.5" cy="219.5" r="2.35" fill="#d6ff00"/>
<circle cx="143.5" cy="226.5" r="2.35" fill="#cfff00"/>
<circle cx="151.5" cy="228.5" r="2.35" fill="#cdff00"/>
<circle cx="158.5" cy="243.5" r="2.35" fill="#bdff00"/>
<circle cx="156.5" cy="230.5" r="2.35" fill="#cbff00"/>
<circle cx="146.5" cy="247.5" r="2.35" fill="#b8ff00"/>
<circle cx="145.5" cy="220.5" r="2.35" fill="#d5ff00"/>
<circle cx="149.5" cy="213.5" r="2.35" fill="#dcff00"/>
<circle cx="157.5" cy="217.5" r="2.35" fill="#d7ff00"/>
<circle cx="152.5" cy="247.5" r="2.35" fill="#b8ff00"/>
<circle cx="161.5" cy="238.5" r="2.35" fill="#c2ff00"/>
<circle cx="155.5" cy="239.5" r="2.35" fill="#c1ff00"/>
<circle cx="155.5" cy="245.5" r="2.35" fill="#baff00"/>
<circle cx="157.5" cy="227.5" r="2.35" fill="#cdff00"/>
<circle cx="157.5" cy="220.5" r="2.35" fill="#d5ff00"/>
<circle cx="149.5" cy="239.5" r="2.35" fill="#c1ff00"/>
<circle cx="147.5" cy="217.5" r="2.35" fill="#d8ff00"/>
<circle cx="151.5" cy="220.5" r="2.35" fill="#d5ff00"/>
<circle cx="152.5" cy="245.5" r="2.35" fill="#bbff00"/>
<circle cx="145.5" cy="221.5" r="2.35" fill="#d4ff00"/>
<circle cx="151.5" cy="216.5" r="2.35" fill="#d9ff00"/>
<circle cx="155.5" cy="243.5" r="2.35" fill="#bdff00"/>
<circle cx="145.5" cy="230.5" r="2.35" fill="#cbff00"/>
<circle cx="145.5" cy="227.5" r="2.35" fill="#ceff00"/>
<circle cx="146.5" cy="228.5" r="2.35" fill="#ccff00"/>
<circle cx="148.5" cy="245.5" r="2.35" fill="#baff00"/>
<circle cx="161.5" cy="226.5" r="2.35" fill="#cfff00"/>
<circle cx="143.5" cy="227.5" r="2.35" fill="#ceff00"/>
<circle cx="146.5" cy="219.5" r="2.35" fill="#d6ff00"/>
<circle cx="145.5" cy="220.5" r="2.35" fill="#d5ff00"/>
<circle cx="152.5" cy="239.5" r="2.35" fill="#c1ff00"/>
<circle cx="142.5" cy="223.5" r="2.35" fill="#d2ff00"/>
<circle cx="151.5" cy="217.5" r="2.35" fill="#d8ff00"/>
<circle cx="145.5" cy="216.5" r="2.35" fill="#d9ff00"/>
<circle cx="147.5" cy="244.5" r="2.35" fill="#bcff00"/>
<circle cx="158.5" cy="247.5" r="2.35" fill="#b8ff00"/>
<circle cx="146.5" cy="226.5" r="2.35" fill="#ceff00"/>
<circle cx="154.5" cy="242.5" r="2.35" fill="#bdff00"/>
<circle cx="150.5" cy="230.5" r="2.35" fill="#caff00"/>
<circle cx="150.5" cy="213.5" r="2.35" fill="#dcff00"/>
<circle cx="158.5" cy="237.5" r="2.35" fill="#c3ff00"/>
<circle cx="145.5" cy="241.5" r="2.35" fill="#bfff00"/>
<circle cx="161.5" cy="234.5" r="2.35" fill="#c6ff00"/>
<circle cx="160.5" cy="226.5" r="2.35" fill="#cfff00"/>
<circle cx="155.5" cy="245.5" r="2.35" fill="#baff00"/>
<circle cx="143.5" cy="237.5" r="2.35" fill="#c3ff00"/>
<circle cx="155.5" cy="244.5" r="2.35" fill="#bbff00"/>
<circle cx="154.5" cy="226.5" r="2.35" fill="#cfff00"/>
<circle cx="158.5" cy="218.5" r="2.35" fill="#d6ff00"/>
<circle cx="146.5" cy="237.5" r="2.35" fill="#c3ff00"/>
<circle cx="161.5" cy="237.5" r="2.35" fill="#c3ff00"/>
<circle cx="160.5" cy="231.5" r="2.35" fill="#c9ff00"/>
<circle cx="144.5" cy="242.5" r="2.35" fill="#bdff00"/>
<circle cx="148.5" cy="241.5" r="2.35" fill="#beff00"/>
<circle cx="143.5" cy="239.5" r="2.35" fill="#c1ff00"/>
<circle cx="159.5" cy="234.5" r="2.35" fill="#c6ff00"/>
<circle cx="160.5" cy="246.5" r="2.35" fill="#b9ff00"/>
<circle cx="162.5" cy="222.5" r="2.35" fill="#d3ff00"/>
<circle cx="154.5" cy="229.5" r="2.35" fill="#cbff00"/>
<circle cx="155.5" cy="240.5" r="2.35" fill="#c0ff00"/>
<circle cx="156.5" cy="246.5" r="2.35" fill="#b9ff00"/>
<circle cx="154.5" cy="221.5" r="2.35" fill="#d4ff00"/>
<circle cx="161.5" cy="244.5" r="2.35" fill="#bbff00"/>
<circle cx="154.5" cy="244.5" r="2.35" fill="#bbff00"/>
<circle cx="149.5" cy="244.5" r="2.35" fill="#bbff00"/>
<circle cx="152.5" cy="246.5" r="2.35" fill="#b9ff00"/>
<circle cx="142.5" cy="215.5" r="2.35" fill="#daff00"/>
<circle cx="157.5" cy="240.5" r="2.35" fill="#bfff00"/>
<circle cx="156.5" cy="239.5" r="2.35" fill="#c0ff00"/>
<circle cx="151.5" cy="218.5" r="2.35" fill="#d7ff00"/>
<circle cx="159.5" cy="228.5" r="2.35" fill="#cdff00"/>
<circle cx="157.5" cy="243.5" r="2.35" fill="#bcff00"/>
<circle cx="149.5" cy="235.5" r="2.35" fill="#c5ff00"/>
<circle cx="144.5" cy="216.5" r="2.35" fill="#d9ff00"/>
<circle cx="145.5" cy="237.5" r="2.35" fill="#c3ff00"/>
<circle cx="146.5" cy="223.5" r="2.35" fill="#d1ff00"/>
<circle cx="148.5" cy="208.5" r="2.35" fill="#e1ff00"/>
<circle cx="151.5" cy="188.5" r="2.35" fill="#f5ff00"/>
<circle cx="161.5" cy="186.5" r="2.35" fill="#f7ff00"/>
<circle cx="148.5" cy="183.5" r="2.35" fill="#f9ff00"/>
<circle cx="160.5" cy="190.5" r="2.35" fill="#f2ff00"/>
<circle cx="156.5" cy="201.5" r="2.35" fill="#e8ff00"/>
<circle cx="159.5" cy="209.5" r="2.35" fill="#e0ff00"/>
<circle cx="150.5" cy="196.5" r="2.35" fill="#edff00"/>
<circle cx="142.5" cy="187.5" r="2.35" fill="#f6ff00"/>
<circle cx="158.5" cy="206.5" r="2.35" fill="#e3ff00"/>
<circle cx="147.5" cy="204.5" r="2.35" fill="#e5ff00"/>
<circle cx="145.5" cy="196.5" r="2.35" fill="#edff00"/>
<circle cx="158.5" cy="187.5" r="2.35" fill="#f6ff00"/>
<circle cx="156.5" cy="179.5" r="2.35" fill="#fdff00"/>
<circle cx="146.5" cy="208.5" r="2.35" fill="#e1ff00"/>
<circle cx="147.5" cy="206.5" r="2.35" fill="#e3ff00"/>
<circle cx="161.5" cy="184.5" r="2.35" fill="#f8ff00"/>
<circle cx="147.5" cy="192.5" r="2.35" fill="#f1ff00"/>
<circle cx="156.5" cy="188.5" r="2.35" fill="#f4ff00"/>
<circle cx="145.5" cy="174.5" r="2.35" fill="#fffb00"/>
<circle cx="158.5" cy="177.5" r="2.35" fill="#ffff00"/>
<circle cx="144.5" cy="182.5" r="2.35" fill="#faff00"/>
<circle cx="152.5" cy="186.5" r="2.35" fill="#f7ff00"/>
<circle cx="143.5" cy="200.5" r="2.35" fill="#e9ff00"/>
<circle cx="153.5" cy="192.5" r="2.35" fill="#f1ff00"/>
<circle cx="159.5" cy="206.5" r="2.35" fill="#e3ff00"/>
<circle cx="144.5" cy="186.5" r="2.35" fill="#f6ff00"/>
<circle cx="148.5" cy="187.5" r="2.35" fill="#f6ff00"/>
<circle cx="157.5" cy="188.5" r="2.35" fill="#f4ff00"/>
<circle cx="154.5" cy="199.5" r="2.35" fill="#eaff00"/>
<circle cx="148.5" cy="201.5" r="2.35" fill="#e8ff00"/>
<circle cx="155.5" cy="199.5" r="2.35" fill="#e9ff00"/>
<circle cx="151.5" cy="210.5" r="2.35" fill="#dfff00"/>
<circle cx="159.5" cy="182.5" r="2.35" fill="#faff00"/>
<circle cx="148.5" cy="195.5" r="2.35" fill="#edff00"/>
<circle cx="157.5" cy="200.5" r="2.35" fill="#e8ff00"/>
<circle cx="155.5" cy="195.5" r="2.35" fill="#eeff00"/>
<circle cx="157.5" cy="188.5" r="2.35" fill="#f4ff00"/>
<circle cx="150.5" cy="201.5" r="2.35" fill="#e8ff00"/>
<circle cx="157.5" cy="183.5" r="2.35" fill="#faff00"/>
<circle cx="156.5" cy="178.5" r="2.35" fill="#feff00"/>
<circle cx="150.5" cy="200.5" r="2.35" fill="#e8ff00"/>
<circle cx="143.5" cy="207.5" r="2.35" fill="#e2ff00"/>
<circle cx="161.5" cy="186.5" r="2.35" fill="#f6ff00"/>
<circle cx="156.5" cy="174.5" r="2.35" fill="#fffb00"/>
<circle cx="146.5" cy="207.5" r="2.35" fill="#e2ff00"/>
<circle cx="157.5" cy="189.5" r="2.35" fill="#f4ff00"/>
<circle cx="148.5" cy="183.5" r="2.35" fill="#f9ff00"/>
<circle cx="151.5" cy="178.5" r="2.35" fill="#feff00"/>
<circle cx="159.5" cy="208.5" r="2.35" fill="#e1ff00"/>
<circle cx="151.5" cy="208.5" r="2.35" fill="#e1ff00"/>
<circle cx="148.5" cy="174.5" r="2.35" fill="#fffb00"/>
<circle cx="148.5" cy="208.5" r="2.35" fill="#e1ff00"/>
<circle cx="144.5" cy="206.5" r="2.35" fill="#e3ff00"/>
<circle cx="144.5" cy="76.5" r="2.35" fill="#ff8200"/>
<circle cx="153.5" cy="74.5" r="2.35" fill="#ff8000"/>
<circle cx="142.5" cy="89.5" r="2.35" fill="#ff9200"/>
<circle cx="153.5" cy="96.5" r="2.35" fill="#ff9900"/>
<circle cx="159.5" cy="94.5" r="2.35" fill="#ff9800"/>
<circle cx="161.5" cy="94.5" r="2.35" fill="#ff9800"/>
<circle cx="159.5" cy="112.5" r="2.35" fill="#ffac00"/>
<circle cx="161.5" cy="113.5" r="2.35" fill="#ffae00"/>
<circle cx="159.5" cy="118.5" r="2.35" fill="#ffb500"/>
<circle cx="156.5" cy="128.5" r="2.35" fill="#ffc100"/>
<circle cx="143.5" cy="131.5" r="2.35" fill="#ffc500"/>
<circle cx="144.5" cy="133.5" r="2.35" fill="#ffc700"/>
<circle cx="144.5" cy="137.5" r="2.35" fill="#ffcc00"/>
<circle cx="148.5" cy="135.5" r="2.35" fill="#ffca00"/>
<circle cx="150.5" cy="136.5" r="2.35" fill="#ffcc00"/>
<circle cx="157.5" cy="134.5" r="2.35" fill="#ffc900"/>
<circle cx="159.5" cy="136.5" r="2.35" fill="#ffcc00"/>
<circle cx="161.5" cy="138.5" r="2.35" fill="#ffce00"/>
<circle cx="145.5" cy="144.5" r="2.35" fill="#ffd500"/>
<circle cx="148.5" cy="143.5" r="2.35" fill="#ffd400"/>
<circle cx="149.5" cy="146.5" r="2.35" fill="#ffd700"/>
<circle cx="157.5" cy="146.5" r="2.35" fill="#ffd800"/>
<circle cx="144.5" cy="148.5" r="2.35" fill="#ffda00"/>
<circle cx="145.5" cy="152.5" r="2.35" fill="#ffdf00"/>
<circle cx="154.5" cy="150.5" r="2.35" fill="#ffdd00"/>
<circle cx="161.5" cy="151.5" r="2.35" fill="#ffde00"/>
<circle cx="143.5" cy="155.5" r="2.35" fill="#ffe300"/>
<circle cx="148.5" cy="155.5" r="2.35" fill="#ffe300"/>
<circle cx="159.5" cy="155.5" r="2.35" fill="#ffe300"/>
<circle cx="162.5" cy="157.5" r="2.35" fill="#ffe600"/>
<circle cx="151.5" cy="162.5" r="2.35" fill="#ffec00"/>
<circle cx="159.5" cy="161.5" r="2.35" fill="#ffeb00"/>
<circle cx="160.5" cy="164.5" r="2.35" fill="#ffef00"/>
<circle cx="154.5" cy="164.5" r="2.35" fill="#ffef00"/>
<circle cx="145.5" cy="169.5" r="2.35" fill="#fff500"/>
<circle cx="147.5" cy="171.5" r="2.35" fill="#fff800"/>
<circle cx="159.5" cy="170.5" r="2.35" fill="#fff600"/>
<circle cx="160.5" cy="172.5" r="2.35" fill="#fff900"/>
<circle cx="225.5" cy="283.5" r="2.35" fill="#8bff00"/>
<circle cx="217.5" cy="282.5" r="2.35" fill="#8dff00"/>
<circle cx="211.5" cy="284.5" r="2.35" fill="#8aff00"/>
<circle cx="224.5" cy="287.5" r="2.35" fill="#86ff00"/>
<circle cx="229.5" cy="278.5" r="2.35" fill="#92ff00"/>
<circle cx="210.5" cy="283.5" r="2.35" fill="#8bff00"/>
<circle cx="225.5" cy="274.5" r="2.35" fill="#97ff00"/>
<circle cx="213.5" cy="271.5" r="2.35" fill="#9bff00"/>
<circle cx="219.5" cy="282.5" r="2.35" fill="#8dff00"/>
<circle cx="220.5" cy="277.5" r="2.35" fill="#94ff00"/>
<circle cx="222.5" cy="278.5" r="2.35" fill="#93ff00"/>
<circle cx="230.5" cy="287.5" r="2.35" fill="#87ff00"/>
<circle cx="224.5" cy="285.5" r="2.35" fill="#88ff00"/>
<circle cx="218.5" cy="272.5" r="2.35" fill="#9aff00"/>
<circle cx="224.5" cy="278.5" r="2.35" fill="#92ff00"/>
<circle cx="219.5" cy="273.5" r="2.35" fill="#99ff00"/>
<circle cx="218.5" cy="287.5" r="2.35" fill="#86ff00"/>
<circle cx="217.5" cy="276.5" r="2.35" fill="#95ff00"/>
<circle cx="220.5" cy="272.5" r="2.35" fill="#9aff00"/>
<circle cx="216.5" cy="272.5" r="2.35" fill="#9aff00"/>
<circle cx="215.5" cy="289.5" r="2.35" fill="#84ff00"/>
<circle cx="213.5" cy="277.5" r="2.35" fill="#93ff00"/>
<circle cx="219.5" cy="280.5" r="2.35" fill="#8fff00"/>
<circle cx="216.5" cy="274.5" r="2.35" fill="#98ff00"/>
<circle cx="227.5" cy="287.5" r="2.35" fill="#87ff00"/>
<circle cx="227.5" cy="282.5" r="2.35" fill="#8dff00"/>
<circle cx="217.5" cy="273.5" r="2.35" fill="#99ff00"/>
<circle cx="222.5" cy="278.5" r="2.35" fill="#92ff00"/>
<circle cx="228.5" cy="279.5" r="2.35" fill="#92ff00"/>
<circle cx="217.5" cy="271.5" r="2.35" fill="#9cff00"/>
<circle cx="221.5" cy="281.5" r="2.35" fill="#8eff00"/>
<circle cx="219.5" cy="287.5" r="2.35" fill="#85ff00"/>
<circle cx="223.5" cy="280.5" r="2.35" fill="#90ff00"/>
<circle cx="229.5" cy="285.5" r="2.35" fill="#89ff00"/>
<circle cx="213.5" cy="286.5" r="2.35" fill="#87ff00"/>
<circle cx="229.5" cy="277.5" r="2.35" fill="#94ff00"/>
<circle cx="223.5" cy="271.5" r="2.35" fill="#9bff00"/>
<circle cx="226.5" cy="277.5" r="2.35" fill="#94ff00"/>
<circle cx="223.5" cy="275.5" r="2.35" fill="#96ff00"/>
<circle cx="227.5" cy="281.5" r="2.35" fill="#8eff00"/>
<circle cx="216.5" cy="277.5" r="2.35" fill="#94ff00"/>
<circle cx="224.5" cy="274.5" r="2.35" fill="#98ff00"/>
<circle cx="215.5" cy="276.5" r="2.35" fill="#94ff00"/>
<circle cx="220.5" cy="273.5" r="2.35" fill="#99ff00"/>
<circle cx="224.5" cy="277.5" r="2.35" fill="#94ff00"/>
<circle cx="214.5" cy="284.5" r="2.35" fill="#8bff00"/>
<circle cx="211.5" cy="276.5" r="2.35" fill="#94ff00"/>
<circle cx="226.5" cy="278.5" r="2.35" fill="#92ff00"/>
<circle cx="226.5" cy="284.5" r="2.35" fill="#8aff00"/>
<circle cx="223.5" cy="276.5" r="2.35" fill="#95ff00"/>
<circle cx="216.5" cy="273.5" r="2.35" fill="#99ff00"/>
<circle cx="223.5" cy="285.5" r="2.35" fill="#89ff00"/>
<circle cx="212.5" cy="277.5" r="2.35" fill="#94ff00"/>
<circle cx="223.5" cy="274.5" r="2.35" fill="#97ff00"/>
<circle cx="221.5" cy="280.5" r="2.35" fill="#90ff00"/>
<circle cx="222.5" cy="282.5" r="2.35" fill="#8dff00"/>
<circle cx="219.5" cy="280.5" r="2.35" fill="#90ff00"/>
<circle cx="214.5" cy="277.5" r="2.35" fill="#93ff00"/>
<circle cx="224.5" cy="275.5" r="2.35" fill="#96ff00"/>
<circle cx="219.5" cy="277.5" r="2.35" fill="#94ff00"/>
<circle cx="225.5" cy="286.5" r="2.35" fill="#88ff00"/>
<circle cx="217.5" cy="273.5" r="2.35" fill="#99ff00"/>
<circle cx="212.5" cy="271.5" r="2.35" fill="#9bff00"/>
<circle cx="221.5" cy="286.5" r="2.35" fill="#88ff00"/>
<circle cx="222.5" cy="282.5" r="2.35" fill="#8cff00"/>
<circle cx="228.5" cy="284.5" r="2.35" fill="#8aff00"/>
<circle cx="228.5" cy="272.5" r="2.35" fill="#9aff00"/>
<circle cx="211.5" cy="272.5" r="2.35" fill="#9bff00"/>
<circle cx="225.5" cy="287.5" r="2.35" fill="#85ff00"/>
<circle cx="215.5" cy="281.5" r="2.35" fill="#8fff00"/>
<circle cx="224.5" cy="284.5" r="2.35" fill="#8bff00"/>
<circle cx="217.5" cy="278.5" r="2.35" fill="#92ff00"/>
<circle cx="216.5" cy="271.5" r="2.35" fill="#9bff00"/>
<circle cx="220.5" cy="287.5" r="2.35" fill="#86ff00"/>
<circle cx="221.5" cy="284.5" r="2.35" fill="#8aff00"/>
<circle cx="224.5" cy="278.5" r="2.35" fill="#92ff00"/>
<circle cx="223.5" cy="277.5" r="2.35" fill="#93ff00"/>
<circle cx="223.5" cy="274.5" r="2.35" fill="#98ff00"/>
<circle cx="218.5" cy="279.5" r="2.35" fill="#91ff00"/>
<circle cx="223.5" cy="285.5" r="2.35" fill="#89ff00"/>
<circle cx="217.5" cy="280.5" r="2.35" fill="#8fff00"/>
<circle cx="222.5" cy="271.5" r="2.35" fill="#9cff00"/>
<circle cx="219.5" cy="274.5" r="2.35" fill="#98ff00"/>
<circle cx="221.5" cy="285.5" r="2.35" fill="#88ff00"/>
<circle cx="210.5" cy="273.5" r="2.35" fill="#99ff00"/>
<circle cx="220.5" cy="281.5" r="2.35" fill="#8eff00"/>
<circle cx="214.5" cy="273.5" r="2.35" fill="#98ff00"/>
<circle cx="218.5" cy="288.5" r="2.35" fill="#84ff00"/>
<circle cx="211.5" cy="272.5" r="2.35" fill="#9aff00"/>
<circle cx="223.5" cy="284.5" r="2.35" fill="#8aff00"/>
<circle cx="228.5" cy="279.5" r="2.35" fill="#92ff00"/>
<circle cx="217.5" cy="275.5" r="2.35" fill="#96ff00"/>
<circle cx="212.5" cy="278.5" r="2.35" fill="#93ff00"/>
<circle cx="222.5" cy="284.5" r="2.35" fill="#8aff00"/>
<circle cx="212.5" cy="285.5" r="2.35" fill="#89ff00"/>
<circle cx="228.5" cy="282.5" r="2.35" fill="#8dff00"/>
<circle cx="212.5" cy="287.5" r="2.35" fill="#86ff00"/>
<circle cx="217.5" cy="283.5" r="2.35" fill="#8bff00"/>
<circle cx="220.5" cy="285.5" r="2.35" fill="#89ff00"/>
<circle cx="212.5" cy="278.5" r="2.35" fill="#92ff00"/>
<circle cx="216.5" cy="280.5" r="2.35" fill="#8fff00"/>
<circle cx="215.5" cy="276.5" r="2.35" fill="#94ff00"/>
<circle cx="224.5" cy="282.5" r="2.35" fill="#8dff00"/>
<circle cx="230.5" cy="288.5" r="2.35" fill="#85ff00"/>
<circle cx="217.5" cy="281.5" r="2.35" fill="#8fff00"/>
<circle cx="226.5" cy="274.5" r="2.35" fill="#98ff00"/>
<circle cx="213.5" cy="282.5" r="2.35" fill="#8cff00"/>
<circle cx="221.5" cy="280.5" r="2.35" fill="#90ff00"/>
<circle cx="219.5" cy="274.5" r="2.35" fill="#98ff00"/>
<circle cx="216.5" cy="279.5" r="2.35" fill="#90ff00"/>
<circle cx="226.5" cy="272.5" r="2.35" fill="#9aff00"/>
<circle cx="225.5" cy="271.5" r="2.35" fill="#9bff00"/>
<circle cx="213.5" cy="281.5" r="2.35" fill="#8eff00"/>
<circle cx="216.5" cy="274.5" r="2.35" fill="#97ff00"/>
<circle cx="226.5" cy="282.5" r="2.35" fill="#8cff00"/>
<circle cx="230.5" cy="285.5" r="2.35" fill="#89ff00"/>
<circle cx="222.5" cy="279.5" r="2.35" fill="#91ff00"/>
<circle cx="227.5" cy="276.5" r="2.35" fill="#95ff00"/>
<circle cx="230.5" cy="271.5" r="2.35" fill="#9bff00"/>
<circle cx="225.5" cy="285.5" r="2.35" fill="#89ff00"/>
<circle cx="223.5" cy="274.5" r="2.35" fill="#97ff00"/>
<circle cx="214.5" cy="278.5" r="2.35" fill="#92ff00"/>
<circle cx="217.5" cy="285.5" r="2.35" fill="#89ff00"/>
<circle cx="222.5" cy="271.5" r="2.35" fill="#9cff00"/>
<circle cx="228.5" cy="275.5" r="2.35" fill="#97ff00"/>
<circle cx="216.5" cy="285.5" r="2.35" fill="#89ff00"/>
<circle cx="218.5" cy="272.5" r="2.35" fill="#9bff00"/>
<circle cx="210.5" cy="286.5" r="2.35" fill="#88ff00"/>
<circle cx="224.5" cy="286.5" r="2.35" fill="#87ff00"/>
<circle cx="219.5" cy="281.5" r="2.35" fill="#8fff00"/>
<circle cx="226.5" cy="271.5" r="2.35" fill="#9bff00"/>
<circle cx="215.5" cy="288.5" r="2.35" fill="#85ff00"/>
<circle cx="223.5" cy="271.5" r="2.35" fill="#9bff00"/>
<circle cx="223.5" cy="276.5" r="2.35" fill="#95ff00"/>
<circle cx="219.5" cy="287.5" r="2.35" fill="#86ff00"/>
<circle cx="214.5" cy="277.5" r="2.35" fill="#94ff00"/>
<circle cx="218.5" cy="279.5" r="2.35" fill="#92ff00"/>
<circle cx="225.5" cy="277.5" r="2.35" fill="#94ff00"/>
<circle cx="214.5" cy="274.5" r="2.35" fill="#97ff00"/>
<circle cx="212.5" cy="275.5" r="2.35" fill="#96ff00"/>
<circle cx="219.5" cy="270.5" r="2.35" fill="#9cff00"/>
<circle cx="215.5" cy="285.5" r="2.35" fill="#8aff00"/>
<circle cx="226.5" cy="273.5" r="2.35" fill="#99ff00"/>
<circle cx="226.5" cy="279.5" r="2.35" fill="#91ff00"/>
<circle cx="229.5" cy="273.5" r="2.35" fill="#98ff00"/>
<circle cx="227.5" cy="272.5" r="2.35" fill="#9aff00"/>
<circle cx="223.5" cy="270.5" r="2.35" fill="#9cff00"/>
<circle cx="214.5" cy="282.5" r="2.35" fill="#8dff00"/>
<circle cx="226.5" cy="279.5" r="2.35" fill="#91ff00"/>
<circle cx="224.5" cy="271.5" r="2.35" fill="#9bff00"/>
<circle cx="225.5" cy="271.5" r="2.35" fill="#9bff00"/>
<circle cx="224.5" cy="280.5" r="2.35" fill="#90ff00"/>
<circle cx="227.5" cy="271.5" r="2.35" fill="#9bff00"/>
<circle cx="216.5" cy="279.5" r="2.35" fill="#90ff00"/>
<circle cx="223.5" cy="280.5" r="2.35" fill="#90ff00"/>
<circle cx="220.5" cy="274.5" r="2.35" fill="#98ff00"/>
<circle cx="217.5" cy="278.5" r="2.35" fill="#92ff00"/>
<circle cx="216.5" cy="279.5" r="2.35" fill="#91ff00"/>
<circle cx="213.5" cy="280.5" r="2.35" fill="#90ff00"/>
<circle cx="220.5" cy="279.5" r="2.35" fill="#91ff00"/>
<circle cx="217.5" cy="285.5" r="2.35" fill="#89ff00"/>
<circle cx="218.5" cy="287.5" r="2.35" fill="#86ff00"/>
<circle cx="227.5" cy="274.5" r="2.35" fill="#98ff00"/>
<circle cx="224.5" cy="277.5" r="2.35" fill="#94ff00"/>
<circle cx="224.5" cy="275.5" r="2.35" fill="#96ff00"/>
<circle cx="230.5" cy="254.5" r="2.35" fill="#b0ff00"/>
<circle cx="214.5" cy="266.5" r="2.35" fill="#a2ff00"/>
<circle cx="220.5" cy="266.5" r="2.35" fill="#a2ff00"/>
<circle cx="212.5" cy="265.5" r="2.35" fill="#a3ff00"/>
<circle cx="218.5" cy="265.5" r="2.35" fill="#a3ff00"/>
<circle cx="229.5" cy="255.5" r="2.35" fill="#afff00"/>
<circle cx="212.5" cy="263.5" r="2.35" fill="#a5ff00"/>
<circle cx="225.5" cy="264.5" r="2.35" fill="#a4ff00"/>
<circle cx="227.5" cy="258.5" r="2.35" fill="#abff00"/>
<circle cx="220.5" cy="267.5" r="2.35" fill="#a1ff00"/>
<circle cx="226.5" cy="268.5" r="2.35" fill="#9fff00"/>
<circle cx="219.5" cy="256.5" r="2.35" fill="#adff00"/>
<circle cx="217.5" cy="255.5" r="2.35" fill="#afff00"/>
<circle cx="220.5" cy="265.5" r="2.35" fill="#a3ff00"/>
<circle cx="214.5" cy="258.5" r="2.35" fill="#abff00"/>
<circle cx="216.5" cy="270.5" r="2.35" fill="#9dff00"/>
<circle cx="216.5" cy="263.5" r="2.35" fill="#a6ff00"/>
<circle cx="230.5" cy="259.5" r="2.35" fill="#aaff00"/>
<circle cx="217.5" cy="265.5" r="2.35" fill="#a2ff00"/>
<circle cx="214.5" cy="264.5" r="2.35" fill="#a5ff00"/>
<circle cx="229.5" cy="258.5" r="2.35" fill="#abff00"/>
<circle cx="213.5" cy="259.5" r="2.35" fill="#aaff00"/>
<circle cx="229.5" cy="267.5" r="2.35" fill="#a0ff00"/>
<circle cx="227.5" cy="256.5" r="2.35" fill="#adff00"/>
<circle cx="223.5" cy="269.5" r="2.35" fill="#9eff00"/>
<circle cx="218.5" cy="250.5" r="2.35" fill="#b4ff00"/>
<circle cx="214.5" cy="266.5" r="2.35" fill="#a1ff00"/>
<circle cx="212.5" cy="265.5" r="2.35" fill="#a2ff00"/>
<circle cx="212.5" cy="266.5" r="2.35" fill="#a1ff00"/>
<circle cx="217.5" cy="250.5" r="2.35" fill="#b5ff00"/>
<circle cx="218.5" cy="265.5" r="2.35" fill="#a3ff00"/>
<circle cx="228.5" cy="258.5" r="2.35" fill="#abff00"/>
<circle cx="221.5" cy="250.5" r="2.35" fill="#b5ff00"/>
<circle cx="230.5" cy="251.5" r="2.35" fill="#b4ff00"/>
<circle cx="224.5" cy="270.5" r="2.35" fill="#9dff00"/>
<circle cx="213.5" cy="260.5" r="2.35" fill="#a9ff00"/>
<circle cx="221.5" cy="259.5" r="2.35" fill="#abff00"/>
<circle cx="213.5" cy="256.5" r="2.35" fill="#adff00"/>
<circle cx="211.5" cy="264.5" r="2.35" fill="#a4ff00"/>
<circle cx="229.5" cy="264.5" r="2.35" fill="#a4ff00"/>
<circle cx="217.5" cy="270.5" r="2.35" fill="#9cff00"/>
<circle cx="214.5" cy="270.5" r="2.35" fill="#9dff00"/>
<circle cx="212.5" cy="260.5" r="2.35" fill="#a9ff00"/>
<circle cx="223.5" cy="269.5" r="2.35" fill="#9eff00"/>
<circle cx="219.5" cy="266.5" r="2.35" fill="#a1ff00"/>
<circle cx="210.5" cy="264.5" r="2.35" fill="#a4ff00"/>
<circle cx="224.5" cy="269.5" r="2.35" fill="#9eff00"/>
<circle cx="215.5" cy="270.5" r="2.35" fill="#9dff00"/>
<circle cx="226.5" cy="251.5" r="2.35" fill="#b3ff00"/>
<circle cx="220.5" cy="262.5" r="2.35" fill="#a7ff00"/>
<circle cx="221.5" cy="266.5" r="2.35" fill="#a1ff00"/>
<circle cx="219.5" cy="256.5" r="2.35" fill="#adff00"/>
<circle cx="223.5" cy="270.5" r="2.35" fill="#9dff00"/>
<circle cx="230.5" cy="266.5" r="2.35" fill="#a2ff00"/>
<circle cx="226.5" cy="250.5" r="2.35" fill="#b4ff00"/>
<circle cx="211.5" cy="252.5" r="2.35" fill="#b2ff00"/>
<circle cx="220.5" cy="258.5" r="2.35" fill="#abff00"/>
<circle cx="215.5" cy="269.5" r="2.35" fill="#9fff00"/>
<circle cx="212.5" cy="264.5" r="2.35" fill="#a4ff00"/>
<circle cx="214.5" cy="270.5" r="2.35" fill="#9dff00"/>
<circle cx="215.5" cy="266.5" r="2.35" fill="#a1ff00"/>
<circle cx="229.5" cy="270.5" r="2.35" fill="#9dff00"/>
<circle cx="225.5" cy="268.5" r="2.35" fill="#9fff00"/>
<circle cx="227.5" cy="258.5" r="2.35" fill="#abff00"/>
<circle cx="224.5" cy="268.5" r="2.35" fill="#9fff00"/>
<circle cx="216.5" cy="267.5" r="2.35" fill="#a0ff00"/>
<circle cx="218.5" cy="252.5" r="2.35" fill="#b2ff00"/>
<circle cx="219.5" cy="264.5" r="2.35" fill="#a4ff00"/>
<circle cx="216.5" cy="264.5" r="2.35" fill="#a4ff00"/>
<circle cx="218.5" cy="269.5" r="2.35" fill="#9eff00"/>
<circle cx="225.5" cy="254.5" r="2.35" fill="#b0ff00"/>
<circle cx="211.5" cy="257.5" r="2.35" fill="#adff00"/>
<circle cx="215.5" cy="260.5" r="2.35" fill="#a9ff00"/>
<circle cx="219.5" cy="258.5" r="2.35" fill="#abff00"/>
<circle cx="223.5" cy="268.5" r="2.35" fill="#9fff00"/>
<circle cx="223.5" cy="265.5" r="2.35" fill="#a2ff00"/>
<circle cx="224.5" cy="259.5" r="2.35" fill="#aaff00"/>
<circle cx="212.5" cy="251.5" r="2.35" fill="#b4ff00"/>
<circle cx="214.5" cy="254.5" r="2.35" fill="#b0ff00"/>
<circle cx="216.5" cy="258.5" r="2.35" fill="#acff00"/>
<circle cx="216.5" cy="260.5" r="2.35" fill="#a9ff00"/>
<circle cx="225.5" cy="270.5" r="2.35" fill="#9dff00"/>
<circle cx="230.5" cy="252.5" r="2.35" fill="#b2ff00"/>
<circle cx="224.5" cy="269.5" r="2.35" fill="#9eff00"/>
<circle cx="211.5" cy="268.5" r="2.35" fill="#9fff00"/>
<circle cx="216.5" cy="257.5" r="2.35" fill="#adff00"/>
<circle cx="226.5" cy="254.5" r="2.35" fill="#b0ff00"/>
<circle cx="228.5" cy="255.5" r="2.35" fill="#afff00"/>
<circle cx="222.5" cy="262.5" r="2.35" fill="#a7ff00"/>
<circle cx="217.5" cy="267.5" r="2.35" fill="#a1ff00"/>
<circle cx="217.5" cy="270.5" r="2.35" fill="#9dff00"/>
<circle cx="223.5" cy="253.5" r="2.35" fill="#b1ff00"/>
<circle cx="227.5" cy="250.5" r="2.35" fill="#b5ff00"/>
<circle cx="217.5" cy="266.5" r="2.35" fill="#a2ff00"/>
<circle cx="214.5" cy="253.5" r="2.35" fill="#b1ff00"/>
<circle cx="210.5" cy="263.5" r="2.35" fill="#a6ff00"/>
<circle cx="213.5" cy="264.5" r="2.35" fill="#a4ff00"/>
<circle cx="227.5" cy="261.5" r="2.35" fill="#a8ff00"/>
<circle cx="222.5" cy="270.5" r="2.35" fill="#9cff00"/>
<circle cx="230.5" cy="262.5" r="2.35" fill="#a7ff00"/>
<circle cx="211.5" cy="267.5" r="2.35" fill="#a1ff00"/>
<circle cx="217.5" cy="256.5" r="2.35" fill="#adff00"/>
<circle cx="226.5" cy="261.5" r="2.35" fill="#a8ff00"/>
<circle cx="223.5" cy="253.5" r="2.35" fill="#b2ff00"/>
<circle cx="211.5" cy="252.5" r="2.35" fill="#b2ff00"/>
<circle cx="218.5" cy="264.5" r="2.35" fill="#a4ff00"/>
<circle cx="223.5" cy="265.5" r="2.35" fill="#a3ff00"/>
<circle cx="224.5" cy="251.5" r="2.35" fill="#b3ff00"/>
<circle cx="219.5" cy="261.5" r="2.35" fill="#a8ff00"/>
<circle cx="214.5" cy="268.5" r="2.35" fill="#9fff00"/>
<circle cx="229.5" cy="269.5" r="2.35" fill="#9dff00"/>
<circle cx="219.5" cy="250.5" r="2.35" fill="#b5ff00"/>
<circle cx="224.5" cy="259.5" r="2.35" fill="#aaff00"/>
<circle cx="221.5" cy="269.5" r="2.35" fill="#9eff00"/>
<circle cx="212.5" cy="260.5" r="2.35" fill="#a8ff00"/>
<circle cx="215.5" cy="261.5" r="2.35" fill="#a8ff00"/>
<circle cx="211.5" cy="262.5" r="2.35" fill="#a7ff00"/>
<circle cx="214.5" cy="251.5" r="2.35" fill="#b4ff00"/>
<circle cx="214.5" cy="251.5" r="2.35" fill="#b4ff00"/>
<circle cx="218.5" cy="268.5" r="2.35" fill="#9fff00"/>
<circle cx="216.5" cy="267.5" r="2.35" fill="#a0ff00"/>
<circle cx="217.5" cy="262.5" r="2.35" fill="#a6ff00"/>
<circle cx="226.5" cy="253.5" r="2.35" fill="#b1ff00"/>
<circle cx="210.5" cy="258.5" r="2.35" fill="#abff00"/>
<circle cx="212.5" cy="256.5" r="2.35" fill="#aeff00"/>
<circle cx="226.5" cy="259.5" r="2.35" fill="#aaff00"/>
<circle cx="221.5" cy="266.5" r="2.35" fill="#a1ff00"/>
<circle cx="219.5" cy="254.5" r="2.35" fill="#b0ff00"/>
<circle cx="215.5" cy="270.5" r="2.35" fill="#9dff00"/>
<circle cx="221.5" cy="256.5" r="2.35" fill="#adff00"/>
<circle cx="214.5" cy="267.5" r="2.35" fill="#a1ff00"/>
<circle cx="227.5" cy="261.5" r="2.35" fill="#a7ff00"/>
<circle cx="226.5" cy="250.5" r="2.35" fill="#b4ff00"/>
<circle cx="216.5" cy="260.5" r="2.35" fill="#a9ff00"/>
<circle cx="210.5" cy="269.5" r="2.35" fill="#9eff00"/>
<circle cx="228.5" cy="262.5" r="2.35" fill="#a6ff00"/>
<circle cx="216.5" cy="257.5" r="2.35" fill="#acff00"/>
<circle cx="223.5" cy="269.5" r="2.35" fill="#9eff00"/>
<circle cx="227.5" cy="265.5" r="2.35" fill="#a2ff00"/>
<circle cx="226.5" cy="270.5" r="2.35" fill="#9dff00"/>
<circle cx="227.5" cy="260.5" r="2.35" fill="#a9ff00"/>
<circle cx="220.5" cy="263.5" r="2.35" fill="#a5ff00"/>
<circle cx="227.5" cy="261.5" r="2.35" fill="#a8ff00"/>
<circle cx="219.5" cy="265.5" r="2.35" fill="#a3ff00"/>
<circle cx="215.5" cy="257.5" r="2.35" fill="#acff00"/>
<circle cx="220.5" cy="267.5" r="2.35" fill="#a0ff00"/>
<circle cx="217.5" cy="252.5" r="2.35" fill="#b3ff00"/>
<circle cx="225.5" cy="250.5" r="2.35" fill="#b4ff00"/>
<circle cx="227.5" cy="261.5" r="2.35" fill="#a8ff00"/>
<circle cx="213.5" cy="261.5" r="2.35" fill="#a7ff00"/>
<circle cx="213.5" cy="253.5" r="2.35" fill="#b1ff00"/>
<circle cx="218.5" cy="265.5" r="2.35" fill="#a3ff00"/>
<circle cx="219.5" cy="254.5" r="2.35" fill="#b0ff00"/>
<circle cx="229.5" cy="265.5" r="2.35" fill="#a3ff00"/>
<circle cx="229.5" cy="256.5" r="2.35" fill="#aeff00"/>
<circle cx="229.5" cy="264.5" r="2.35" fill="#a4ff00"/>
<circle cx="224.5" cy="259.5" r="2.35" fill="#abff00"/>
<circle cx="223.5" cy="251.5" r="2.35" fill="#b3ff00"/>
<circle cx="215.5" cy="269.5" r="2.35" fill="#9eff00"/>
<circle cx="217.5" cy="254.5" r="2.35" fill="#b0ff00"/>
<circle cx="210.5" cy="260.5" r="2.35" fill="#a9ff00"/>
<circle cx="227.5" cy="263.5" r="2.35" fill="#a5ff00"/>
<circle cx="215.5" cy="264.5" r="2.35" fill="#a5ff00"/>
<circle cx="211.5" cy="269.5" r="2.35" fill="#9eff00"/>
<circle cx="216.5" cy="265.5" r="2.35" fill="#a2ff00"/>
<circle cx="216.5" cy="229.5" r="2.35" fill="#cbff00"/>
<circle cx="224.5" cy="247.5" r="2.35" fill="#b8ff00"/>
<circle cx="210.5" cy="227.5" r="2.35" fill="#ceff00"/>
<circle cx="215.5" cy="213.5" r="2.35" fill="#dcff00"/>
<circle cx="228.5" cy="212.5" r="2.35" fill="#ddff00"/>
<circle cx="227.5" cy="217.5" r="2.35" fill="#d8ff00"/>
<circle cx="222.5" cy="221.5" r="2.35" fill="#d4ff00"/>
<circle cx="221.5" cy="245.5" r="2.35" fill="#baff00"/>
<circle cx="214.5" cy="212.5" r="2.35" fill="#dcff00"/>
<circle cx="227.5" cy="244.5" r="2.35" fill="#bbff00"/>
<circle cx="225.5" cy="218.5" r="2.35" fill="#d7ff00"/>
<circle cx="220.5" cy="217.5" r="2.35" fill="#d8ff00"/>
<circle cx="213.5" cy="229.5" r="2.35" fill="#cbff00"/>
<circle cx="214.5" cy="233.5" r="2.35" fill="#c7ff00"/>
<circle cx="217.5" cy="244.5" r="2.35" fill="#bbff00"/>
<circle cx="217.5" cy="233.5" r="2.35" fill="#c7ff00"/>
<circle cx="211.5" cy="241.5" r="2.35" fill="#beff00"/>
<circle cx="218.5" cy="246.5" r="2.35" fill="#b9ff00"/>
<circle cx="219.5" cy="246.5" r="2.35" fill="#b9ff00"/>
<circle cx="216.5" cy="221.5" r="2.35" fill="#d4ff00"/>
<circle cx="218.5" cy="215.5" r="2.35" fill="#daff00"/>
<circle cx="217.5" cy="246.5" r="2.35" fill="#b9ff00"/>
<circle cx="217.5" cy="249.5" r="2.35" fill="#b6ff00"/>
<circle cx="222.5" cy="242.5" r="2.35" fill="#bdff00"/>
<circle cx="220.5" cy="246.5" r="2.35" fill="#b9ff00"/>
<circle cx="214.5" cy="244.5" r="2.35" fill="#bbff00"/>
<circle cx="226.5" cy="231.5" r="2.35" fill="#caff00"/>
<circle cx="220.5" cy="237.5" r="2.35" fill="#c3ff00"/>
<circle cx="219.5" cy="237.5" r="2.35" fill="#c3ff00"/>
<circle cx="224.5" cy="244.5" r="2.35" fill="#bbff00"/>
<circle cx="225.5" cy="227.5" r="2.35" fill="#cdff00"/>
<circle cx="227.5" cy="241.5" r="2.35" fill="#beff00"/>
<circle cx="226.5" cy="238.5" r="2.35" fill="#c2ff00"/>
<circle cx="223.5" cy="236.5" r="2.35" fill="#c4ff00"/>
<circle cx="224.5" cy="216.5" r="2.35" fill="#d9ff00"/>
<circle cx="213.5" cy="243.5" r="2.35" fill="#bdff00"/>
<circle cx="224.5" cy="225.5" r="2.35" fill="#d0ff00"/>
<circle cx="215.5" cy="241.5" r="2.35" fill="#bfff00"/>
<circle cx="215.5" cy="216.5" r="2.35" fill="#d9ff00"/>
<circle cx="212.5" cy="238.5" r="2.35" fill="#c2ff00"/>
<circle cx="218.5" cy="234.5" r="2.35" fill="#c6ff00"/>
<circle cx="210.5" cy="217.5" r="2.35" fill="#d8ff00"/>
<circle cx="223.5" cy="227.5" r="2.35" fill="#ceff00"/>
<circle cx="225.5" cy="247.5" r="2.35" fill="#b8ff00"/>
<circle cx="225.5" cy="246.5" r="2.35" fill="#b9ff00"/>
<circle cx="212.5" cy="211.5" r="2.35" fill="#deff00"/>
<circle cx="223.5" cy="249.5" r="2.35" fill="#b6ff00"/>
<circle cx="227.5" cy="241.5" r="2.35" fill="#bfff00"/>
<circle cx="211.5" cy="213.5" r="2.35" fill="#dcff00"/>
<circle cx="214.5" cy="249.5" r="2.35" fill="#b6ff00"/>
<circle cx="215.5" cy="245.5" r="2.35" fill="#baff00"/>
<circle cx="219.5" cy="244.5" r="2.35" fill="#bcff00"/>
<circle cx="213.5" cy="247.5" r="2.35" fill="#b8ff00"/>
<circle cx="221.5" cy="235.5" r="2.35" fill="#c5ff00"/>
<circle cx="217.5" cy="230.5" r="2.35" fill="#caff00"/>
<circle cx="223.5" cy="240.5" r="2.35" fill="#bfff00"/>
<circle cx="221.5" cy="247.5" r="2.35" fill="#b8ff00"/>
<circle cx="224.5" cy="220.5" r="2.35" fill="#d4ff00"/>
<circle cx="215.5" cy="221.5" r="2.35" fill="#d4ff00"/>
<circle cx="224.5" cy="232.5" r="2.35" fill="#c9ff00"/>
<circle cx="225.5" cy="246.5" r="2.35" fill="#b9ff00"/>
<circle cx="224.5" cy="233.5" r="2.35" fill="#c8ff00"/>
<circle cx="211.5" cy="229.5" r="2.35" fill="#ccff00"/>
<circle cx="229.5" cy="237.5" r="2.35" fill="#c3ff00"/>
<circle cx="221.5" cy="218.5" r="2.35" fill="#d7ff00"/>
<circle cx="215.5" cy="238.5" r="2.35" fill="#c2ff00"/>
<circle cx="219.5" cy="234.5" r="2.35" fill="#c6ff00"/>
<circle cx="220.5" cy="246.5" r="2.35" fill="#b9ff00"/>
<circle cx="220.5" cy="232.5" r="2.35" fill="#c9ff00"/>
<circle cx="215.5" cy="222.5" r="2.35" fill="#d2ff00"/>
<circle cx="215.5" cy="224.5" r="2.35" fill="#d1ff00"/>
<circle cx="217.5" cy="242.5" r="2.35" fill="#bdff00"/>
<circle cx="226.5" cy="211.5" r="2.35" fill="#deff00"/>
<circle cx="219.5" cy="225.5" r="2.35" fill="#d0ff00"/>
<circle cx="211.5" cy="237.5" r="2.35" fill="#c3ff00"/>
<circle cx="219.5" cy="237.5" r="2.35" fill="#c3ff00"/>
<circle cx="214.5" cy="222.5" r="2.35" fill="#d3ff00"/>
<circle cx="210.5" cy="245.5" r="2.35" fill="#baff00"/>
<circle cx="229.5" cy="228.5" r="2.35" fill="#ccff00"/>
<circle cx="216.5" cy="225.5" r="2.35" fill="#d0ff00"/>
<circle cx="221.5" cy="234.5" r="2.35" fill="#c7ff00"/>
<circle cx="217.5" cy="217.5" r="2.35" fill="#d8ff00"/>
<circle cx="211.5" cy="235.5" r="2.35" fill="#c5ff00"/>
<circle cx="228.5" cy="235.5" r="2.35" fill="#c5ff00"/>
<circle cx="229.5" cy="242.5" r="2.35" fill="#beff00"/>
<circle cx="214.5" cy="215.5" r="2.35" fill="#daff00"/>
<circle cx="218.5" cy="241.5" r="2.35" fill="#bfff00"/>
<circle cx="217.5" cy="226.5" r="2.35" fill="#cfff00"/>
<circle cx="213.5" cy="237.5" r="2.35" fill="#c2ff00"/>
<circle cx="223.5" cy="214.5" r="2.35" fill="#dbff00"/>
<circle cx="226.5" cy="214.5" r="2.35" fill="#dbff00"/>
<circle cx="225.5" cy="249.5" r="2.35" fill="#b6ff00"/>
<circle cx="223.5" cy="211.5" r="2.35" fill="#deff00"/>
<circle cx="210.5" cy="230.5" r="2.35" fill="#caff00"/>
<circle cx="214.5" cy="248.5" r="2.35" fill="#b7ff00"/>
<circle cx="220.5" cy="234.5" r="2.35" fill="#c6ff00"/>
<circle cx="224.5" cy="248.5" r="2.35" fill="#b7ff00"/>
<circle cx="218.5" cy="232.5" r="2.35" fill="#c8ff00"/>
<circle cx="219.5" cy="244.5" r="2.35" fill="#bbff00"/>
<circle cx="227.5" cy="239.5" r="2.35" fill="#c1ff00"/>
<circle cx="210.5" cy="241.5" r="2.35" fill="#bfff00"/>
<circle cx="215.5" cy="230.5" r="2.35" fill="#caff00"/>
<circle cx="216.5" cy="220.5" r="2.35" fill="#d5ff00"/>
<circle cx="230.5" cy="214.5" r="2.35" fill="#dbff00"/>
<circle cx="214.5" cy="240.5" r="2.35" fill="#bfff00"/>
<circle cx="211.5" cy="231.5" r="2.35" fill="#c9ff00"/>
<circle cx="218.5" cy="249.5" r="2.35" fill="#b5ff00"/>
<circle cx="223.5" cy="239.5" r="2.35" fill="#c1ff00"/>
<circle cx="213.5" cy="213.5" r="2.35" fill="#dcff00"/>
<circle cx="227.5" cy="246.5" r="2.35" fill="#b9ff00"/>
<circle cx="214.5" cy="218.5" r="2.35" fill="#d7ff00"/>
<circle cx="224.5" cy="228.5" r="2.35" fill="#cdff00"/>
<circle cx="213.5" cy="241.5" r="2.35" fill="#beff00"/>
<circle cx="228.5" cy="222.5" r="2.35" fill="#d3ff00"/>
<circle cx="214.5" cy="241.5" r="2.35" fill="#beff00"/>
<circle cx="225.5" cy="216.5" r="2.35" fill="#d9ff00"/>
<circle cx="227.5" cy="247.5" r="2.35" fill="#b8ff00"/>
<circle cx="215.5" cy="246.5" r="2.35" fill="#b9ff00"/>
<circle cx="212.5" cy="223.5" r="2.35" fill="#d2ff00"/>
<circle cx="222.5" cy="236.5" r="2.35" fill="#c4ff00"/>
<circle cx="220.5" cy="246.5" r="2.35" fill="#baff00"/>
<circle cx="219.5" cy="234.5" r="2.35" fill="#c6ff00"/>
<circle cx="226.5" cy="241.5" r="2.35" fill="#beff00"/>
<circle cx="219.5" cy="232.5" r="2.35" fill="#c8ff00"/>
<circle cx="220.5" cy="223.5" r="2.35" fill="#d1ff00"/>
<circle cx="220.5" cy="218.5" r="2.35" fill="#d7ff00"/>
<circle cx="219.5" cy="248.5" r="2.35" fill="#b7ff00"/>
<circle cx="218.5" cy="230.5" r="2.35" fill="#caff00"/>
<circle cx="213.5" cy="212.5" r="2.35" fill="#ddff00"/>
<circle cx="216.5" cy="236.5" r="2.35" fill="#c4ff00"/>
<circle cx="215.5" cy="222.5" r="2.35" fill="#d3ff00"/>
<circle cx="215.5" cy="247.5" r="2.35" fill="#b8ff00"/>
<circle cx="226.5" cy="217.5" r="2.35" fill="#d8ff00"/>
<circle cx="212.5" cy="231.5" r="2.35" fill="#c9ff00"/>
<circle cx="214.5" cy="217.5" r="2.35" fill="#d8ff00"/>
<circle cx="220.5" cy="221.5" r="2.35" fill="#d3ff00"/>
<circle cx="216.5" cy="218.5" r="2.35" fill="#d7ff00"/>
<circle cx="215.5" cy="248.5" r="2.35" fill="#b7ff00"/>
<circle cx="217.5" cy="225.5" r="2.35" fill="#d0ff00"/>
<circle cx="220.5" cy="244.5" r="2.35" fill="#bbff00"/>
<circle cx="223.5" cy="242.5" r="2.35" fill="#bdff00"/>
<circle cx="229.5" cy="240.5" r="2.35" fill="#bfff00"/>
<circle cx="227.5" cy="230.5" r="2.35" fill="#caff00"/>
<circle cx="218.5" cy="229.5" r="2.35" fill="#ccff00"/>
<circle cx="219.5" cy="214.5" r="2.35" fill="#daff00"/>
<circle cx="218.5" cy="249.5" r="2.35" fill="#b6ff00"/>
<circle cx="215.5" cy="244.5" r="2.35" fill="#bbff00"/>
<circle cx="229.5" cy="239.5" r="2.35" fill="#c1ff00"/>
<circle cx="211.5" cy="220.5" r="2.35" fill="#d5ff00"/>
<circle cx="214.5" cy="232.5" r="2.35" fill="#c8ff00"/>
<circle cx="223.5" cy="234.5" r="2.35" fill="#c6ff00"/>
<circle cx="222.5" cy="223.5" r="2.35" fill="#d2ff00"/>
<circle cx="215.5" cy="228.5" r="2.35" fill="#cdff00"/>
<circle cx="229.5" cy="241.5" r="2.35" fill="#beff00"/>
<circle cx="218.5" cy="247.5" r="2.35" fill="#b8ff00"/>
<circle cx="222.5" cy="236.5" r="2.35" fill="#c4ff00"/>
<circle cx="212.5" cy="217.5" r="2.35" fill="#d8ff00"/>
<circle cx="228.5" cy="230.5" r="2.35" fill="#caff00"/>
<circle cx="212.5" cy="248.5" r="2.35" fill="#b7ff00"/>
<circle cx="218.5" cy="236.5" r="2.35" fill="#c4ff00"/>
<circle cx="228.5" cy="238.5" r="2.35" fill="#c1ff00"/>
<circle cx="229.5" cy="231.5" r="2.35" fill="#c9ff00"/>
<circle cx="228.5" cy="231.5" r="2.35" fill="#caff00"/>
<circle cx="226.5" cy="213.5" r="2.35" fill="#dcff00"/>
<circle cx="215.5" cy="240.5" r="2.35" fill="#c0ff00"/>
<circle cx="211.5" cy="199.5" r="2.35" fill="#eaff00"/>
<circle cx="219.5" cy="192.5" r="2.35" fill="#f0ff00"/>
<circle cx="211.5" cy="180.5" r="2.35" fill="#fcff00"/>
<circle cx="229.5" cy="189.5" r="2.35" fill="#f4ff00"/>
<circle cx="210.5" cy="197.5" r="2.35" fill="#ecff00"/>
<circle cx="216.5" cy="184.5" r="2.35" fill="#f9ff00"/>
<circle cx="214.5" cy="197.5" r="2.35" fill="#ecff00"/>
<circle cx="210.5" cy="176.5" r="2.35" fill="#fffd00"/>
<circle cx="220.5" cy="203.5" r="2.35" fill="#e6ff00"/>
<circle cx="211.5" cy="208.5" r="2.35" fill="#e1ff00"/>
<circle cx="228.5" cy="183.5" r="2.35" fill="#faff00"/>
<circle cx="224.5" cy="203.5" r="2.35" fill="#e6ff00"/>
<circle cx="217.5" cy="182.5" r="2.35" fill="#faff00"/>
<circle cx="227.5" cy="192.5" r="2.35" fill="#f0ff00"/>
<circle cx="226.5" cy="196.5" r="2.35" fill="#edff00"/>
<circle cx="216.5" cy="209.5" r="2.35" fill="#e0ff00"/>
<circle cx="227.5" cy="185.5" r="2.35" fill="#f8ff00"/>
<circle cx="228.5" cy="209.5" r="2.35" fill="#e0ff00"/>
<circle cx="222.5" cy="176.5" r="2.35" fill="#fffd00"/>
<circle cx="217.5" cy="180.5" r="2.35" fill="#fcff00"/>
<circle cx="228.5" cy="203.5" r="2.35" fill="#e6ff00"/>
<circle cx="229.5" cy="208.5" r="2.35" fill="#e1ff00"/>
<circle cx="217.5" cy="180.5" r="2.35" fill="#fcff00"/>
<circle cx="212.5" cy="197.5" r="2.35" fill="#ecff00"/>
<circle cx="227.5" cy="208.5" r="2.35" fill="#e1ff00"/>
<circle cx="223.5" cy="196.5" r="2.35" fill="#ecff00"/>
<circle cx="215.5" cy="204.5" r="2.35" fill="#e5ff00"/>
<circle cx="221.5" cy="199.5" r="2.35" fill="#eaff00"/>
<circle cx="216.5" cy="191.5" r="2.35" fill="#f1ff00"/>
<circle cx="228.5" cy="178.5" r="2.35" fill="#feff00"/>
<circle cx="217.5" cy="184.5" r="2.35" fill="#f8ff00"/>
<circle cx="214.5" cy="207.5" r="2.35" fill="#e2ff00"/>
<circle cx="211.5" cy="197.5" r="2.35" fill="#ecff00"/>
<circle cx="217.5" cy="197.5" r="2.35" fill="#ecff00"/>
<circle cx="230.5" cy="174.5" r="2.35" fill="#fffb00"/>
<circle cx="214.5" cy="209.5" r="2.35" fill="#e0ff00"/>
<circle cx="219.5" cy="196.5" r="2.35" fill="#edff00"/>
<circle cx="229.5" cy="178.5" r="2.35" fill="#feff00"/>
<circle cx="210.5" cy="200.5" r="2.35" fill="#e9ff00"/>
<circle cx="216.5" cy="204.5" r="2.35" fill="#e5ff00"/>
<circle cx="226.5" cy="194.5" r="2.35" fill="#eeff00"/>
<circle cx="212.5" cy="202.5" r="2.35" fill="#e7ff00"/>
<circle cx="228.5" cy="178.5" r="2.35" fill="#feff00"/>
<circle cx="227.5" cy="209.5" r="2.35" fill="#e0ff00"/>
<circle cx="213.5" cy="205.5" r="2.35" fill="#e4ff00"/>
<circle cx="222.5" cy="209.5" r="2.35" fill="#e0ff00"/>
<circle cx="221.5" cy="188.5" r="2.35" fill="#f4ff00"/>
<circle cx="224.5" cy="203.5" r="2.35" fill="#e6ff00"/>
<circle cx="216.5" cy="179.5" r="2.35" fill="#fdff00"/>
<circle cx="218.5" cy="179.5" r="2.35" fill="#fdff00"/>
<circle cx="215.5" cy="177.5" r="2.35" fill="#ffff00"/>
<circle cx="216.5" cy="204.5" r="2.35" fill="#e5ff00"/>
<circle cx="213.5" cy="211.5" r="2.35" fill="#deff00"/>
<circle cx="228.5" cy="200.5" r="2.35" fill="#e9ff00"/>
<circle cx="228.5" cy="176.5" r="2.35" fill="#fffd00"/>
<circle cx="217.5" cy="186.5" r="2.35" fill="#f7ff00"/>
<circle cx="224.5" cy="209.5" r="2.35" fill="#e0ff00"/>
<circle cx="220.5" cy="189.5" r="2.35" fill="#f4ff00"/>
<circle cx="216.5" cy="178.5" r="2.35" fill="#feff00"/>
<circle cx="217.5" cy="175.5" r="2.35" fill="#fffd00"/>
<circle cx="229.5" cy="188.5" r="2.35" fill="#f4ff00"/>
<circle cx="217.5" cy="181.5" r="2.35" fill="#fbff00"/>
<circle cx="221.5" cy="182.5" r="2.35" fill="#faff00"/>
<circle cx="229.5" cy="201.5" r="2.35" fill="#e8ff00"/>
<circle cx="216.5" cy="208.5" r="2.35" fill="#e1ff00"/>
<circle cx="226.5" cy="188.5" r="2.35" fill="#f5ff00"/>
<circle cx="212.5" cy="207.5" r="2.35" fill="#e2ff00"/>
<circle cx="225.5" cy="200.5" r="2.35" fill="#e9ff00"/>
<circle cx="226.5" cy="174.5" r="2.35" fill="#fffb00"/>
<circle cx="227.5" cy="194.5" r="2.35" fill="#efff00"/>
<circle cx="229.5" cy="196.5" r="2.35" fill="#edff00"/>
<circle cx="224.5" cy="177.5" r="2.35" fill="#fffe00"/>
<circle cx="229.5" cy="203.5" r="2.35" fill="#e6ff00"/>
<circle cx="215.5" cy="174.5" r="2.35" fill="#fffb00"/>
<circle cx="220.5" cy="178.5" r="2.35" fill="#feff00"/>
<circle cx="214.5" cy="201.5" r="2.35" fill="#e8ff00"/>
<circle cx="212.5" cy="202.5" r="2.35" fill="#e7ff00"/>
<circle cx="219.5" cy="208.5" r="2.35" fill="#e1ff00"/>
<circle cx="224.5" cy="178.5" r="2.35" fill="#feff00"/>
<circle cx="225.5" cy="206.5" r="2.35" fill="#e3ff00"/>
<circle cx="210.5" cy="211.5" r="2.35" fill="#deff00"/>
<circle cx="229.5" cy="180.5" r="2.35" fill="#fdff00"/>
<circle cx="215.5" cy="193.5" r="2.35" fill="#f0ff00"/>
<circle cx="216.5" cy="190.5" r="2.35" fill="#f3ff00"/>
<circle cx="227.5" cy="187.5" r="2.35" fill="#f5ff00"/>
<circle cx="228.5" cy="210.5" r="2.35" fill="#dfff00"/>
<circle cx="225.5" cy="208.5" r="2.35" fill="#e0ff00"/>
<circle cx="217.5" cy="196.5" r="2.35" fill="#edff00"/>
<circle cx="219.5" cy="210.5" r="2.35" fill="#dfff00"/>
<circle cx="227.5" cy="196.5" r="2.35" fill="#edff00"/>
<circle cx="217.5" cy="187.5" r="2.35" fill="#f5ff00"/>
<circle cx="226.5" cy="191.5" r="2.35" fill="#f2ff00"/>
<circle cx="226.5" cy="192.5" r="2.35" fill="#f1ff00"/>
<circle cx="219.5" cy="210.5" r="2.35" fill="#dfff00"/>
<circle cx="228.5" cy="204.5" r="2.35" fill="#e4ff00"/>
<circle cx="218.5" cy="179.5" r="2.35" fill="#fdff00"/>
<circle cx="225.5" cy="208.5" r="2.35" fill="#e1ff00"/>
<circle cx="223.5" cy="195.5" r="2.35" fill="#eeff00"/>
<circle cx="217.5" cy="210.5" r="2.35" fill="#dfff00"/>
<circle cx="221.5" cy="177.5" r="2.35" fill="#ffff00"/>
<circle cx="222.5" cy="206.5" r="2.35" fill="#e3ff00"/>
<circle cx="221.5" cy="199.5" r="2.35" fill="#eaff00"/>
<circle cx="212.5" cy="195.5" r="2.35" fill="#eeff00"/>
<circle cx="230.5" cy="188.5" r="2.35" fill="#f5ff00"/>
<circle cx="229.5" cy="177.5" r="2.35" fill="#ffff00"/>
<circle cx="230.5" cy="31.5" r="2.35" fill="#ff4000"/>
<circle cx="212.5" cy="45.5" r="2.35" fill="#ff5800"/>
<circle cx="218.5" cy="47.5" r="2.35" fill="#ff5c00"/>
<circle cx="225.5" cy="43.5" r="2.35" fill="#ff5600"/>
<circle cx="222.5" cy="54.5" r="2.35" fill="#ff6600"/>
<circle cx="216.5" cy="60.5" r="2.35" fill="#ff6e00"/>
<circle cx="219.5" cy="66.5" r="2.35" fill="#ff7600"/>
<circle cx="228.5" cy="67.5" r="2.35" fill="#ff7700"/>
<circle cx="212.5" cy="84.5" r="2.35" fill="#ff8b00"/>
<circle cx="218.5" cy="87.5" r="2.35" fill="#ff8f00"/>
<circle cx="230.5" cy="85.5" r="2.35" fill="#ff8d00"/>
<circle cx="212.5" cy="89.5" r="2.35" fill="#ff9200"/>
<circle cx="222.5" cy="92.5" r="2.35" fill="#ff9500"/>
<circle cx="209.5" cy="96.5" r="2.35" fill="#ff9a00"/>
<circle cx="218.5" cy="107.5" r="2.35" fill="#ffa500"/>
<circle cx="210.5" cy="115.5" r="2.35" fill="#ffb000"/>
<circle cx="214.5" cy="116.5" r="2.35" fill="#ffb100"/>
<circle cx="218.5" cy="114.5" r="2.35" fill="#ffaf00"/>
<circle cx="222.5" cy="112.5" r="2.35" fill="#ffad00"/>
<circle cx="228.5" cy="121.5" r="2.35" fill="#ffb700"/>
<circle cx="212.5" cy="122.5" r="2.35" fill="#ffb900"/>
<circle cx="212.5" cy="127.5" r="2.35" fill="#ffc000"/>
<circle cx="212.5" cy="127.5" r="2.35" fill="#ffbf00"/>
<circle cx="211.5" cy="130.5" r="2.35" fill="#ffc400"/>
<circle cx="210.5" cy="134.5" r="2.35" fill="#ffc900"/>
<circle cx="213.5" cy="139.5" r="2.35" fill="#ffcf00"/>
<circle cx="218.5" cy="127.5" r="2.35" fill="#ffc000"/>
<circle cx="217.5" cy="131.5" r="2.35" fill="#ffc500"/>
<circle cx="223.5" cy="130.5" r="2.35" fill="#ffc400"/>
<circle cx="225.5" cy="131.5" r="2.35" fill="#ffc500"/>
<circle cx="228.5" cy="132.5" r="2.35" fill="#ffc600"/>
<circle cx="229.5" cy="137.5" r="2.35" fill="#ffcc00"/>
<circle cx="230.5" cy="141.5" r="2.35" fill="#ffd100"/>
<circle cx="230.5" cy="144.5" r="2.35" fill="#ffd500"/>
<circle cx="223.5" cy="143.5" r="2.35" fill="#ffd400"/>
<circle cx="216.5" cy="143.5" r="2.35" fill="#ffd400"/>
<circle cx="214.5" cy="144.5" r="2.35" fill="#ffd600"/>
<circle cx="212.5" cy="148.5" r="2.35" fill="#ffda00"/>
<circle cx="214.5" cy="150.5" r="2.35" fill="#ffde00"/>
<circle cx="218.5" cy="150.5" r="2.35" fill="#ffdd00"/>
<circle cx="223.5" cy="150.5" r="2.35" fill="#ffdd00"/>
<circle cx="225.5" cy="151.5" r="2.35" fill="#ffde00"/>
<circle cx="228.5" cy="153.5" r="2.35" fill="#ffe100"/>
<circle cx="229.5" cy="155.5" r="2.35" fill="#ffe300"/>
<circle cx="212.5" cy="154.5" r="2.35" fill="#ffe200"/>
<circle cx="217.5" cy="154.5" r="2.35" fill="#ffe300"/>
<circle cx="211.5" cy="159.5" r="2.35" fill="#ffe800"/>
<circle cx="212.5" cy="162.5" r="2.35" fill="#ffec00"/>
<circle cx="217.5" cy="160.5" r="2.35" fill="#ffe900"/>
<circle cx="221.5" cy="163.5" r="2.35" fill="#ffee00"/>
<circle cx="210.5" cy="164.5" r="2.35" fill="#ffef00"/>
<circle cx="212.5" cy="168.5" r="2.35" fill="#fff300"/>
<circle cx="216.5" cy="167.5" r="2.35" fill="#fff200"/>
<circle cx="227.5" cy="167.5" r="2.35" fill="#fff200"/>
<circle cx="229.5" cy="168.5" r="2.35" fill="#fff400"/>
<circle cx="211.5" cy="172.5" r="2.35" fill="#fff900"/>
<circle cx="215.5" cy="171.5" r="2.35" fill="#fff800"/>
<circle cx="225.5" cy="172.5" r="2.35" fill="#fff900"/>
<circle cx="228.5" cy="171.5" r="2.35" fill="#fff800"/>
<circle cx="285.5" cy="288.5" r="2.35" fill="#85ff00"/>
<circle cx="297.5" cy="272.5" r="2.35" fill="#9aff00"/>
<circle cx="284.5" cy="278.5" r="2.35" fill="#92ff00"/>
<circle cx="297.5" cy="286.5" r="2.35" fill="#88ff00"/>
<circle cx="297.5" cy="274.5" r="2.35" fill="#98ff00"/>
<circle cx="281.5" cy="280.5" r="2.35" fill="#90ff00"/>
<circle cx="295.5" cy="275.5" r="2.35" fill="#96ff00"/>
<circle cx="292.5" cy="274.5" r="2.35" fill="#98ff00"/>
<circle cx="292.5" cy="278.5" r="2.35" fill="#92ff00"/>
<circle cx="295.5" cy="288.5" r="2.35" fill="#85ff00"/>
<circle cx="289.5" cy="274.5" r="2.35" fill="#98ff00"/>
<circle cx="288.5" cy="276.5" r="2.35" fill="#95ff00"/>
<circle cx="286.5" cy="272.5" r="2.35" fill="#9aff00"/>
<circle cx="296.5" cy="283.5" r="2.35" fill="#8cff00"/>
<circle cx="296.5" cy="274.5" r="2.35" fill="#97ff00"/>
<circle cx="281.5" cy="273.5" r="2.35" fill="#99ff00"/>
<circle cx="294.5" cy="281.5" r="2.35" fill="#8eff00"/>
<circle cx="284.5" cy="280.5" r="2.35" fill="#8fff00"/>
<circle cx="282.5" cy="282.5" r="2.35" fill="#8dff00"/>
<circle cx="282.5" cy="289.5" r="2.35" fill="#84ff00"/>
<circle cx="290.5" cy="284.5" r="2.35" fill="#8bff00"/>
<circle cx="284.5" cy="282.5" r="2.35" fill="#8dff00"/>
<circle cx="283.5" cy="286.5" r="2.35" fill="#87ff00"/>
<circle cx="280.5" cy="275.5" r="2.35" fill="#97ff00"/>
<circle cx="285.5" cy="280.5" r="2.35" fill="#90ff00"/>
<circle cx="294.5" cy="278.5" r="2.35" fill="#93ff00"/>
<circle cx="279.5" cy="283.5" r="2.35" fill="#8cff00"/>
<circle cx="288.5" cy="281.5" r="2.35" fill="#8eff00"/>
<circle cx="290.5" cy="275.5" r="2.35" fill="#97ff00"/>
<circle cx="279.5" cy="279.5" r="2.35" fill="#91ff00"/>
<circle cx="284.5" cy="277.5" r="2.35" fill="#93ff00"/>
<circle cx="296.5" cy="280.5" r="2.35" fill="#8fff00"/>
<circle cx="298.5" cy="278.5" r="2.35" fill="#93ff00"/>
<circle cx="295.5" cy="273.5" r="2.35" fill="#99ff00"/>
<circle cx="282.5" cy="283.5" r="2.35" fill="#8cff00"/>
<circle cx="293.5" cy="279.5" r="2.35" fill="#92ff00"/>
<circle cx="287.5" cy="276.5" r="2.35" fill="#95ff00"/>
<circle cx="282.5" cy="287.5" r="2.35" fill="#86ff00"/>
<circle cx="288.5" cy="272.5" r="2.35" fill="#9aff00"/>
<circle cx="297.5" cy="279.5" r="2.35" fill="#91ff00"/>
<circle cx="296.5" cy="283.5" r="2.35" fill="#8bff00"/>
<circle cx="286.5" cy="275.5" r="2.35" fill="#97ff00"/>
<circle cx="279.5" cy="274.5" r="2.35" fill="#98ff00"/>
<circle cx="296.5" cy="277.5" r="2.35" fill="#94ff00"/>
<circle cx="298.5" cy="272.5" r="2.35" fill="#9aff00"/>
<circle cx="288.5" cy="287.5" r="2.35" fill="#86ff00"/>
<circle cx="283.5" cy="278.5" r="2.35" fill="#92ff00"/>
<circle cx="289.5" cy="275.5" r="2.35" fill="#96ff00"/>
<circle cx="292.5" cy="272.5" r="2.35" fill="#9aff00"/>
<circle cx="288.5" cy="277.5" r="2.35" fill="#94ff00"/>
<circle cx="285.5" cy="277.5" r="2.35" fill="#93ff00"/>
<circle cx="283.5" cy="281.5" r="2.35" fill="#8fff00"/>
<circle cx="284.5" cy="278.5" r="2.35" fill="#93ff00"/>
<circle cx="279.5" cy="278.5" r="2.35" fill="#92ff00"/>
<circle cx="283.5" cy="273.5" r="2.35" fill="#99ff00"/>
<circle cx="297.5" cy="274.5" r="2.35" fill="#98ff00"/>
<circle cx="278.5" cy="275.5" r="2.35" fill="#96ff00"/>
<circle cx="293.5" cy="272.5" r="2.35" fill="#9aff00"/>
<circle cx="294.5" cy="287.5" r="2.35" fill="#86ff00"/>
<circle cx="286.5" cy="275.5" r="2.35" fill="#97ff00"/>
<circle cx="290.5" cy="279.5" r="2.35" fill="#90ff00"/>
<circle cx="283.5" cy="275.5" r="2.35" fill="#97ff00"/>
<circle cx="292.5" cy="282.5" r="2.35" fill="#8cff00"/>
<circle cx="292.5" cy="279.5" r="2.35" fill="#91ff00"/>
<circle cx="293.5" cy="274.5" r="2.35" fill="#98ff00"/>
<circle cx="288.5" cy="288.5" r="2.35" fill="#85ff00"/>
<circle cx="298.5" cy="283.5" r="2.35" fill="#8cff00"/>
<circle cx="296.5" cy="279.5" r="2.35" fill="#91ff00"/>
<circle cx="290.5" cy="273.5" r="2.35" fill="#98ff00"/>
<circle cx="292.5" cy="283.5" r="2.35" fill="#8cff00"/>
<circle cx="284.5" cy="274.5" r="2.35" fill="#98ff00"/>
<circle cx="297.5" cy="283.5" r="2.35" fill="#8bff00"/>
<circle cx="291.5" cy="282.5" r="2.35" fill="#8dff00"/>
<circle cx="296.5" cy="278.5" r="2.35" fill="#92ff00"/>
<circle cx="284.5" cy="276.5" r="2.35" fill="#95ff00"/>
<circle cx="298.5" cy="273.5" r="2.35" fill="#99ff00"/>
<circle cx="280.5" cy="273.5" r="2.35" fill="#99ff00"/>
<circle cx="289.5" cy="283.5" r="2.35" fill="#8bff00"/>
<circle cx="280.5" cy="275.5" r="2.35" fill="#96ff00"/>
<circle cx="282.5" cy="277.5" r="2.35" fill="#94ff00"/>
<circle cx="293.5" cy="281.5" r="2.35" fill="#8fff00"/>
<circle cx="280.5" cy="274.5" r="2.35" fill="#97ff00"/>
<circle cx="286.5" cy="273.5" r="2.35" fill="#99ff00"/>
<circle cx="282.5" cy="279.5" r="2.35" fill="#91ff00"/>
<circle cx="295.5" cy="272.5" r="2.35" fill="#9aff00"/>
<circle cx="280.5" cy="286.5" r="2.35" fill="#88ff00"/>
<circle cx="285.5" cy="285.5" r="2.35" fill="#89ff00"/>
<circle cx="295.5" cy="275.5" r="2.35" fill="#97ff00"/>
<circle cx="292.5" cy="282.5" r="2.35" fill="#8dff00"/>
<circle cx="292.5" cy="258.5" r="2.35" fill="#abff00"/>
<circle cx="298.5" cy="260.5" r="2.35" fill="#a9ff00"/>
<circle cx="279.5" cy="268.5" r="2.35" fill="#9fff00"/>
<circle cx="291.5" cy="254.5" r="2.35" fill="#b0ff00"/>
<circle cx="293.5" cy="254.5" r="2.35" fill="#b0ff00"/>
<circle cx="293.5" cy="268.5" r="2.35" fill="#9fff00"/>
<circle cx="292.5" cy="265.5" r="2.35" fill="#a3ff00"/>
<circle cx="280.5" cy="252.5" r="2.35" fill="#b2ff00"/>
<circle cx="280.5" cy="249.5" r="2.35" fill="#b5ff00"/>
<circle cx="294.5" cy="251.5" r="2.35" fill="#b4ff00"/>
<circle cx="290.5" cy="260.5" r="2.35" fill="#a9ff00"/>
<circle cx="283.5" cy="263.5" r="2.35" fill="#a5ff00"/>
<circle cx="278.5" cy="261.5" r="2.35" fill="#a8ff00"/>
<circle cx="289.5" cy="267.5" r="2.35" fill="#a0ff00"/>
<circle cx="280.5" cy="260.5" r="2.35" fill="#a9ff00"/>
<circle cx="293.5" cy="266.5" r="2.35" fill="#a2ff00"/>
<circle cx="285.5" cy="267.5" r="2.35" fill="#a0ff00"/>
<circle cx="294.5" cy="263.5" r="2.35" fill="#a6ff00"/>
<circle cx="280.5" cy="270.5" r="2.35" fill="#9dff00"/>
<circle cx="288.5" cy="261.5" r="2.35" fill="#a8ff00"/>
<circle cx="280.5" cy="255.5" r="2.35" fill="#afff00"/>
<circle cx="294.5" cy="256.5" r="2.35" fill="#adff00"/>
<circle cx="289.5" cy="248.5" r="2.35" fill="#b7ff00"/>
<circle cx="283.5" cy="250.5" r="2.35" fill="#b4ff00"/>
<circle cx="297.5" cy="257.5" r="2.35" fill="#adff00"/>
<circle cx="292.5" cy="250.5" r="2.35" fill="#b5ff00"/>
<circle cx="285.5" cy="261.5" r="2.35" fill="#a8ff00"/>
<circle cx="295.5" cy="252.5" r="2.35" fill="#b2ff00"/>
<circle cx="286.5" cy="265.5" r="2.35" fill="#a3ff00"/>
<circle cx="297.5" cy="259.5" r="2.35" fill="#aaff00"/>
<circle cx="284.5" cy="248.5" r="2.35" fill="#b7ff00"/>
<circle cx="298.5" cy="258.5" r="2.35" fill="#acff00"/>
<circle cx="279.5" cy="260.5" r="2.35" fill="#a9ff00"/>
<circle cx="293.5" cy="253.5" r="2.35" fill="#b1ff00"/>
<circle cx="284.5" cy="264.5" r="2.35" fill="#a4ff00"/>
<circle cx="287.5" cy="252.5" r="2.35" fill="#b3ff00"/>
<circle cx="291.5" cy="271.5" r="2.35" fill="#9cff00"/>
<circle cx="279.5" cy="266.5" r="2.35" fill="#a2ff00"/>
<circle cx="283.5" cy="267.5" r="2.35" fill="#a0ff00"/>
<circle cx="280.5" cy="265.5" r="2.35" fill="#a2ff00"/>
<circle cx="293.5" cy="249.5" r="2.35" fill="#b6ff00"/>
<circle cx="283.5" cy="271.5" r="2.35" fill="#9cff00"/>
<circle cx="288.5" cy="264.5" r="2.35" fill="#a4ff00"/>
<circle cx="285.5" cy="258.5" r="2.35" fill="#abff00"/>
<circle cx="283.5" cy="255.5" r="2.35" fill="#afff00"/>
<circle cx="297.5" cy="253.5" r="2.35" fill="#b1ff00"/>
<circle cx="288.5" cy="262.5" r="2.35" fill="#a6ff00"/>
<circle cx="291.5" cy="266.5" r="2.35" fill="#a1ff00"/>
<circle cx="292.5" cy="251.5" r="2.35" fill="#b3ff00"/>
<circle cx="295.5" cy="268.5" r="2.35" fill="#9fff00"/>
<circle cx="283.5" cy="270.5" r="2.35" fill="#9dff00"/>
<circle cx="280.5" cy="266.5" r="2.35" fill="#a2ff00"/>
<circle cx="288.5" cy="260.5" r="2.35" fill="#a9ff00"/>
<circle cx="282.5" cy="249.5" r="2.35" fill="#b6ff00"/>
<circle cx="279.5" cy="254.5" r="2.35" fill="#b0ff00"/>
<circle cx="297.5" cy="258.5" r="2.35" fill="#abff00"/>
<circle cx="291.5" cy="259.5" r="2.35" fill="#aaff00"/>
<circle cx="286.5" cy="255.5" r="2.35" fill="#afff00"/>
<circle cx="281.5" cy="257.5" r="2.35" fill="#adff00"/>
<circle cx="293.5" cy="264.5" r="2.35" fill="#a5ff00"/>
<circle cx="289.5" cy="269.5" r="2.35" fill="#9eff00"/>
<circle cx="282.5" cy="267.5" r="2.35" fill="#a1ff00"/>
<circle cx="298.5" cy="253.5" r="2.35" fill="#b1ff00"/>
<circle cx="297.5" cy="257.5" r="2.35" fill="#adff00"/>
<circle cx="297.5" cy="253.5" r="2.35" fill="#b2ff00"/>
<circle cx="295.5" cy="270.5" r="2.35" fill="#9cff00"/>
<circle cx="289.5" cy="250.5" r="2.35" fill="#b5ff00"/>
<circle cx="284.5" cy="263.5" r="2.35" fill="#a6ff00"/>
<circle cx="291.5" cy="249.5" r="2.35" fill="#b6ff00"/>
<circle cx="281.5" cy="258.5" r="2.35" fill="#acff00"/>
<circle cx="291.5" cy="259.5" r="2.35" fill="#aaff00"/>
<circle cx="280.5" cy="252.5" r="2.35" fill="#b2ff00"/>
<circle cx="278.5" cy="257.5" r="2.35" fill="#adff00"/>
<circle cx="293.5" cy="256.5" r="2.35" fill="#aeff00"/>
<circle cx="285.5" cy="268.5" r="2.35" fill="#a0ff00"/>
<circle cx="292.5" cy="257.5" r="2.35" fill="#acff00"/>
<circle cx="294.5" cy="263.5" r="2.35" fill="#a5ff00"/>
<circle cx="295.5" cy="269.5" r="2.35" fill="#9dff00"/>
<circle cx="291.5" cy="268.5" r="2.35" fill="#9fff00"/>
<circle cx="295.5" cy="260.5" r="2.35" fill="#a9ff00"/>
<circle cx="291.5" cy="265.5" r="2.35" fill="#a3ff00"/>
<circle cx="297.5" cy="253.5" r="2.35" fill="#b1ff00"/>
<circle cx="296.5" cy="268.5" r="2.35" fill="#9fff00"/>
<circle cx="279.5" cy="271.5" r="2.35" fill="#9cff00"/>
<circle cx="284.5" cy="247.5" r="2.35" fill="#b8ff00"/>
<circle cx="286.5" cy="264.5" r="2.35" fill="#a4ff00"/>
<circle cx="283.5" cy="260.5" r="2.35" fill="#a9ff00"/>
<circle cx="282.5" cy="266.5" r="2.35" fill="#a1ff00"/>
<circle cx="296.5" cy="266.5" r="2.35" fill="#a1ff00"/>
<circle cx="279.5" cy="234.5" r="2.35" fill="#c6ff00"/>
<circle cx="282.5" cy="219.5" r="2.35" fill="#d6ff00"/>
<circle cx="293.5" cy="246.5" r="2.35" fill="#b9ff00"/>
<circle cx="283.5" cy="217.5" r="2.35" fill="#d8ff00"/>
<circle cx="283.5" cy="209.5" r="2.35" fill="#e0ff00"/>
<circle cx="298.5" cy="228.5" r="2.35" fill="#ccff00"/>
<circle cx="293.5" cy="236.5" r="2.35" fill="#c4ff00"/>
<circle cx="287.5" cy="240.5" r="2.35" fill="#c0ff00"/>
<circle cx="281.5" cy="242.5" r="2.35" fill="#beff00"/>
<circle cx="284.5" cy="237.5" r="2.35" fill="#c3ff00"/>
<circle cx="298.5" cy="216.5" r="2.35" fill="#d9ff00"/>
<circle cx="294.5" cy="247.5" r="2.35" fill="#b8ff00"/>
<circle cx="280.5" cy="219.5" r="2.35" fill="#d6ff00"/>
<circle cx="292.5" cy="224.5" r="2.35" fill="#d0ff00"/>
<circle cx="286.5" cy="247.5" r="2.35" fill="#b8ff00"/>
<circle cx="293.5" cy="245.5" r="2.35" fill="#baff00"/>
<circle cx="284.5" cy="221.5" r="2.35" fill="#d3ff00"/>
<circle cx="281.5" cy="224.5" r="2.35" fill="#d1ff00"/>
<circle cx="279.5" cy="237.5" r="2.35" fill="#c3ff00"/>
<circle cx="284.5" cy="216.5" r="2.35" fill="#d9ff00"/>
<circle cx="295.5" cy="241.5" r="2.35" fill="#bfff00"/>
<circle cx="296.5" cy="233.5" r="2.35" fill="#c7ff00"/>
<circle cx="292.5" cy="244.5" r="2.35" fill="#bcff00"/>
<circle cx="293.5" cy="225.5" r="2.35" fill="#d0ff00"/>
<circle cx="282.5" cy="245.5" r="2.35" fill="#bbff00"/>
<circle cx="285.5" cy="242.5" r="2.35" fill="#beff00"/>
<circle cx="296.5" cy="220.5" r="2.35" fill="#d5ff00"/>
<circle cx="298.5" cy="231.5" r="2.35" fill="#caff00"/>
<circle cx="287.5" cy="224.5" r="2.35" fill="#d0ff00"/>
<circle cx="294.5" cy="221.5" r="2.35" fill="#d3ff00"/>
<circle cx="297.5" cy="227.5" r="2.35" fill="#ceff00"/>
<circle cx="298.5" cy="241.5" r="2.35" fill="#beff00"/>
<circle cx="284.5" cy="223.5" r="2.35" fill="#d2ff00"/>
<circle cx="291.5" cy="244.5" r="2.35" fill="#bcff00"/>
<circle cx="286.5" cy="239.5" r="2.35" fill="#c1ff00"/>
<circle cx="288.5" cy="233.5" r="2.35" fill="#c8ff00"/>
<circle cx="287.5" cy="244.5" r="2.35" fill="#bcff00"/>
<circle cx="284.5" cy="244.5" r="2.35" fill="#bbff00"/>
<circle cx="279.5" cy="225.5" r="2.35" fill="#d0ff00"/>
<circle cx="294.5" cy="221.5" r="2.35" fill="#d4ff00"/>
<circle cx="292.5" cy="235.5" r="2.35" fill="#c5ff00"/>
<circle cx="295.5" cy="235.5" r="2.35" fill="#c5ff00"/>
<circle cx="281.5" cy="241.5" r="2.35" fill="#bfff00"/>
<circle cx="283.5" cy="230.5" r="2.35" fill="#cbff00"/>
<circle cx="290.5" cy="228.5" r="2.35" fill="#cdff00"/>
<circle cx="297.5" cy="212.5" r="2.35" fill="#ddff00"/>
<circle cx="288.5" cy="246.5" r="2.35" fill="#b9ff00"/>
<circle cx="282.5" cy="213.5" r="2.35" fill="#dcff00"/>
<circle cx="290.5" cy="209.5" r="2.35" fill="#e0ff00"/>
<circle cx="297.5" cy="236.5" r="2.35" fill="#c4ff00"/>
<circle cx="296.5" cy="222.5" r="2.35" fill="#d3ff00"/>
<circle cx="296.5" cy="217.5" r="2.35" fill="#d8ff00"/>
<circle cx="286.5" cy="225.5" r="2.35" fill="#d0ff00"/>
<circle cx="283.5" cy="238.5" r="2.35" fill="#c2ff00"/>
<circle cx="296.5" cy="226.5" r="2.35" fill="#cfff00"/>
<circle cx="294.5" cy="215.5" r="2.35" fill="#daff00"/>
<circle cx="295.5" cy="244.5" r="2.35" fill="#bbff00"/>
<circle cx="286.5" cy="231.5" r="2.35" fill="#c9ff00"/>
<circle cx="284.5" cy="246.5" r="2.35" fill="#b9ff00"/>
<circle cx="283.5" cy="216.5" r="2.35" fill="#d9ff00"/>
<circle cx="296.5" cy="219.5" r="2.35" fill="#d5ff00"/>
<circle cx="297.5" cy="246.5" r="2.35" fill="#b9ff00"/>
<circle cx="286.5" cy="221.5" r="2.35" fill="#d4ff00"/>
<circle cx="296.5" cy="223.5" r="2.35" fill="#d1ff00"/>
<circle cx="286.5" cy="243.5" r="2.35" fill="#bcff00"/>
<circle cx="287.5" cy="230.5" r="2.35" fill="#cbff00"/>
<circle cx="290.5" cy="223.5" r="2.35" fill="#d1ff00"/>
<circle cx="283.5" cy="236.5" r="2.35" fill="#c3ff00"/>
<circle cx="284.5" cy="231.5" r="2.35" fill="#caff00"/>
<circle cx="284.5" cy="210.5" r="2.35" fill="#dfff00"/>
<circle cx="283.5" cy="226.5" r="2.35" fill="#cfff00"/>
<circle cx="289.5" cy="231.5" r="2.35" fill="#caff00"/>
<circle cx="280.5" cy="245.5" r="2.35" fill="#baff00"/>
<circle cx="294.5" cy="243.5" r="2.35" fill="#bcff00"/>
<circle cx="282.5" cy="216.5" r="2.35" fill="#d9ff00"/>
<circle cx="287.5" cy="221.5" r="2.35" fill="#d4ff00"/>
<circle cx="291.5" cy="217.5" r="2.35" fill="#d8ff00"/>
<circle cx="281.5" cy="228.5" r="2.35" fill="#cdff00"/>
<circle cx="286.5" cy="228.5" r="2.35" fill="#cdff00"/>
<circle cx="289.5" cy="230.5" r="2.35" fill="#cbff00"/>
<circle cx="289.5" cy="221.5" r="2.35" fill="#d3ff00"/>
<circle cx="296.5" cy="237.5" r="2.35" fill="#c3ff00"/>
<circle cx="294.5" cy="231.5" r="2.35" fill="#caff00"/>
<circle cx="281.5" cy="232.5" r="2.35" fill="#c9ff00"/>
<circle cx="295.5" cy="224.5" r="2.35" fill="#d0ff00"/>
<circle cx="289.5" cy="240.5" r="2.35" fill="#bfff00"/>
<circle cx="292.5" cy="246.5" r="2.35" fill="#b9ff00"/>
<circle cx="281.5" cy="244.5" r="2.35" fill="#bbff00"/>
<circle cx="288.5" cy="242.5" r="2.35" fill="#beff00"/>
<circle cx="292.5" cy="181.5" r="2.35" fill="#fbff00"/>
<circle cx="294.5" cy="187.5" r="2.35" fill="#f6ff00"/>
<circle cx="294.5" cy="185.5" r="2.35" fill="#f7ff00"/>
<circle cx="283.5" cy="196.5" r="2.35" fill="#edff00"/>
<circle cx="295.5" cy="206.5" r="2.35" fill="#e3ff00"/>
<circle cx="290.5" cy="195.5" r="2.35" fill="#eeff00"/>
<circle cx="292.5" cy="181.5" r="2.35" fill="#fcff00"/>
<circle cx="295.5" cy="194.5" r="2.35" fill="#efff00"/>
<circle cx="286.5" cy="190.5" r="2.35" fill="#f3ff00"/>
<circle cx="297.5" cy="198.5" r="2.35" fill="#ebff00"/>
<circle cx="296.5" cy="205.5" r="2.35" fill="#e4ff00"/>
<circle cx="294.5" cy="190.5" r="2.35" fill="#f3ff00"/>
<circle cx="286.5" cy="195.5" r="2.35" fill="#eeff00"/>
<circle cx="289.5" cy="199.5" r="2.35" fill="#eaff00"/>
<circle cx="282.5" cy="202.5" r="2.35" fill="#e7ff00"/>
<circle cx="293.5" cy="187.5" r="2.35" fill="#f5ff00"/>
<circle cx="296.5" cy="200.5" r="2.35" fill="#e9ff00"/>
<circle cx="281.5" cy="192.5" r="2.35" fill="#f1ff00"/>
<circle cx="293.5" cy="202.5" r="2.35" fill="#e7ff00"/>
<circle cx="292.5" cy="185.5" r="2.35" fill="#f7ff00"/>
<circle cx="279.5" cy="198.5" r="2.35" fill="#ebff00"/>
<circle cx="297.5" cy="195.5" r="2.35" fill="#eeff00"/>
<circle cx="288.5" cy="178.5" r="2.35" fill="#feff00"/>
<circle cx="284.5" cy="186.5" r="2.35" fill="#f6ff00"/>
<circle cx="279.5" cy="186.5" r="2.35" fill="#f7ff00"/>
<circle cx="294.5" cy="199.5" r="2.35" fill="#eaff00"/>
<circle cx="285.5" cy="182.5" r="2.35" fill="#fbff00"/>
<circle cx="288.5" cy="198.5" r="2.35" fill="#ebff00"/>
<circle cx="282.5" cy="175.5" r="2.35" fill="#fffc00"/>
<circle cx="290.5" cy="179.5" r="2.35" fill="#fdff00"/>
<circle cx="286.5" cy="189.5" r="2.35" fill="#f4ff00"/>
<circle cx="294.5" cy="182.5" r="2.35" fill="#faff00"/>
<circle cx="292.5" cy="193.5" r="2.35" fill="#f0ff00"/>
<circle cx="293.5" cy="186.5" r="2.35" fill="#f7ff00"/>
<circle cx="283.5" cy="205.5" r="2.35" fill="#e4ff00"/>
<circle cx="279.5" cy="175.5" r="2.35" fill="#fffc00"/>
<circle cx="296.5" cy="183.5" r="2.35" fill="#f9ff00"/>
<circle cx="297.5" cy="205.5" r="2.35" fill="#e4ff00"/>
<circle cx="291.5" cy="202.5" r="2.35" fill="#e7ff00"/>
<circle cx="297.5" cy="192.5" r="2.35" fill="#f1ff00"/>
<circle cx="292.5" cy="185.5" r="2.35" fill="#f8ff00"/>
<circle cx="290.5" cy="205.5" r="2.35" fill="#e4ff00"/>
<circle cx="287.5" cy="176.5" r="2.35" fill="#fffe00"/>
<circle cx="285.5" cy="199.5" r="2.35" fill="#eaff00"/>
<circle cx="288.5" cy="175.5" r="2.35" fill="#fffc00"/>
<circle cx="283.5" cy="185.5" r="2.35" fill="#f7ff00"/>
<circle cx="287.5" cy="195.5" r="2.35" fill="#eeff00"/>
<circle cx="288.5" cy="198.5" r="2.35" fill="#eaff00"/>
<circle cx="279.5" cy="206.5" r="2.35" fill="#e3ff00"/>
<circle cx="286.5" cy="206.5" r="2.35" fill="#e3ff00"/>
<circle cx="284.5" cy="190.5" r="2.35" fill="#f3ff00"/>
<circle cx="291.5" cy="184.5" r="2.35" fill="#f8ff00"/>
<circle cx="294.5" cy="179.5" r="2.35" fill="#fdff00"/>
<circle cx="285.5" cy="53.5" r="2.35" fill="#ff6400"/>
<circle cx="282.5" cy="78.5" r="2.35" fill="#ff8500"/>
<circle cx="285.5" cy="78.5" r="2.35" fill="#ff8400"/>
<circle cx="289.5" cy="89.5" r="2.35" fill="#ff9200"/>
<circle cx="292.5" cy="92.5" r="2.35" fill="#ff9500"/>
<circle cx="283.5" cy="94.5" r="2.35" fill="#ff9700"/>
<circle cx="288.5" cy="95.5" r="2.35" fill="#ff9900"/>
<circle cx="281.5" cy="97.5" r="2.35" fill="#ff9a00"/>
<circle cx="281.5" cy="105.5" r="2.35" fill="#ffa400"/>
<circle cx="287.5" cy="113.5" r="2.35" fill="#ffae00"/>
<circle cx="291.5" cy="117.5" r="2.35" fill="#ffb200"/>
<circle cx="296.5" cy="111.5" r="2.35" fill="#ffab00"/>
<circle cx="294.5" cy="125.5" r="2.35" fill="#ffbd00"/>
<circle cx="296.5" cy="122.5" r="2.35" fill="#ffba00"/>
<circle cx="292.5" cy="126.5" r="2.35" fill="#ffbe00"/>
<circle cx="279.5" cy="136.5" r="2.35" fill="#ffcc00"/>
<circle cx="285.5" cy="134.5" r="2.35" fill="#ffc900"/>
<circle cx="279.5" cy="142.5" r="2.35" fill="#ffd300"/>
<circle cx="284.5" cy="144.5" r="2.35" fill="#ffd500"/>
<circle cx="290.5" cy="142.5" r="2.35" fill="#ffd300"/>
<circle cx="277.5" cy="149.5" r="2.35" fill="#ffdb00"/>
<circle cx="292.5" cy="148.5" r="2.35" fill="#ffda00"/>
<circle cx="297.5" cy="149.5" r="2.35" fill="#ffdb00"/>
<circle cx="286.5" cy="152.5" r="2.35" fill="#ffe000"/>
<circle cx="292.5" cy="152.5" r="2.35" fill="#ffe000"/>
<circle cx="281.5" cy="156.5" r="2.35" fill="#ffe400"/>
<circle cx="282.5" cy="160.5" r="2.35" fill="#ffe900"/>
<circle cx="292.5" cy="158.5" r="2.35" fill="#ffe700"/>
<circle cx="295.5" cy="160.5" r="2.35" fill="#ffea00"/>
<circle cx="284.5" cy="164.5" r="2.35" fill="#ffef00"/>
<circle cx="287.5" cy="165.5" r="2.35" fill="#fff000"/>
<circle cx="278.5" cy="168.5" r="2.35" fill="#fff400"/>
<circle cx="284.5" cy="169.5" r="2.35" fill="#fff500"/>
<circle cx="290.5" cy="169.5" r="2.35" fill="#fff500"/>
<circle cx="285.5" cy="172.5" r="2.35" fill="#fff900"/>
<circle cx="297.5" cy="174.5" r="2.35" fill="#fffb00"/>
<circle cx="348.5" cy="277.5" r="2.35" fill="#93ff00"/>
<circle cx="351.5" cy="276.5" r="2.35" fill="#94ff00"/>
<circle cx="359.5" cy="277.5" r="2.35" fill="#93ff00"/>
<circle cx="366.5" cy="283.5" r="2.35" fill="#8bff00"/>
<circle cx="366.5" cy="281.5" r="2.35" fill="#8eff00"/>
<circle cx="352.5" cy="274.5" r="2.35" fill="#98ff00"/>
<circle cx="349.5" cy="272.5" r="2.35" fill="#9aff00"/>
<circle cx="357.5" cy="285.5" r="2.35" fill="#89ff00"/>
<circle cx="355.5" cy="288.5" r="2.35" fill="#84ff00"/>
<circle cx="354.5" cy="272.5" r="2.35" fill="#9aff00"/>
<circle cx="362.5" cy="274.5" r="2.35" fill="#98ff00"/>
<circle cx="361.5" cy="277.5" r="2.35" fill="#93ff00"/>
<circle cx="358.5" cy="274.5" r="2.35" fill="#97ff00"/>
<circle cx="359.5" cy="277.5" r="2.35" fill="#93ff00"/>
<circle cx="358.5" cy="273.5" r="2.35" fill="#99ff00"/>
<circle cx="360.5" cy="283.5" r="2.35" fill="#8bff00"/>
<circle cx="365.5" cy="280.5" r="2.35" fill="#90ff00"/>
<circle cx="365.5" cy="276.5" r="2.35" fill="#95ff00"/>
<circle cx="366.5" cy="284.5" r="2.35" fill="#8aff00"/>
<circle cx="364.5" cy="276.5" r="2.35" fill="#95ff00"/>
<circle cx="349.5" cy="283.5" r="2.35" fill="#8cff00"/>
<circle cx="356.5" cy="276.5" r="2.35" fill="#95ff00"/>
<circle cx="362.5" cy="274.5" r="2.35" fill="#97ff00"/>
<circle cx="352.5" cy="280.5" r="2.35" fill="#8fff00"/>
<circle cx="359.5" cy="272.5" r="2.35" fill="#9bff00"/>
<circle cx="348.5" cy="277.5" r="2.35" fill="#94ff00"/>
<circle cx="351.5" cy="275.5" r="2.35" fill="#96ff00"/>
<circle cx="355.5" cy="288.5" r="2.35" fill="#84ff00"/>
<circle cx="348.5" cy="286.5" r="2.35" fill="#87ff00"/>
<circle cx="355.5" cy="276.5" r="2.35" fill="#95ff00"/>
<circle cx="351.5" cy="272.5" r="2.35" fill="#9aff00"/>
<circle cx="364.5" cy="277.5" r="2.35" fill="#94ff00"/>
<circle cx="353.5" cy="273.5" r="2.35" fill="#99ff00"/>
<circle cx="354.5" cy="287.5" r="2.35" fill="#86ff00"/>
<circle cx="363.5" cy="273.5" r="2.35" fill="#99ff00"/>
<circle cx="358.5" cy="273.5" r="2.35" fill="#99ff00"/>
<circle cx="348.5" cy="277.5" r="2.35" fill="#94ff00"/>
<circle cx="351.5" cy="280.5" r="2.35" fill="#90ff00"/>
<circle cx="359.5" cy="276.5" r="2.35" fill="#95ff00"/>
<circle cx="350.5" cy="283.5" r="2.35" fill="#8bff00"/>
<circle cx="351.5" cy="276.5" r="2.35" fill="#95ff00"/>
<circle cx="359.5" cy="276.5" r="2.35" fill="#95ff00"/>
<circle cx="356.5" cy="278.5" r="2.35" fill="#92ff00"/>
<circle cx="352.5" cy="283.5" r="2.35" fill="#8bff00"/>
<circle cx="358.5" cy="289.5" r="2.35" fill="#84ff00"/>
<circle cx="359.5" cy="284.5" r="2.35" fill="#8aff00"/>
<circle cx="347.5" cy="274.5" r="2.35" fill="#98ff00"/>
<circle cx="352.5" cy="284.5" r="2.35" fill="#8aff00"/>
<circle cx="353.5" cy="287.5" r="2.35" fill="#86ff00"/>
<circle cx="364.5" cy="283.5" r="2.35" fill="#8bff00"/>
<circle cx="348.5" cy="279.5" r="2.35" fill="#92ff00"/>
<circle cx="353.5" cy="278.5" r="2.35" fill="#93ff00"/>
<circle cx="350.5" cy="273.5" r="2.35" fill="#99ff00"/>
<circle cx="360.5" cy="274.5" r="2.35" fill="#98ff00"/>
<circle cx="363.5" cy="272.5" r="2.35" fill="#9aff00"/>
<circle cx="348.5" cy="273.5" r="2.35" fill="#99ff00"/>
<circle cx="364.5" cy="280.5" r="2.35" fill="#90ff00"/>
<circle cx="360.5" cy="285.5" r="2.35" fill="#88ff00"/>
<circle cx="351.5" cy="272.5" r="2.35" fill="#9aff00"/>
<circle cx="365.5" cy="284.5" r="2.35" fill="#8bff00"/>
<circle cx="352.5" cy="277.5" r="2.35" fill="#94ff00"/>
<circle cx="362.5" cy="283.5" r="2.35" fill="#8cff00"/>
<circle cx="348.5" cy="274.5" r="2.35" fill="#97ff00"/>
<circle cx="356.5" cy="284.5" r="2.35" fill="#8aff00"/>
<circle cx="357.5" cy="280.5" r="2.35" fill="#8fff00"/>
<circle cx="364.5" cy="284.5" r="2.35" fill="#8aff00"/>
<circle cx="363.5" cy="273.5" r="2.35" fill="#98ff00"/>
<circle cx="357.5" cy="277.5" r="2.35" fill="#94ff00"/>
<circle cx="348.5" cy="277.5" r="2.35" fill="#94ff00"/>
<circle cx="355.5" cy="282.5" r="2.35" fill="#8dff00"/>
<circle cx="354.5" cy="285.5" r="2.35" fill="#89ff00"/>
<circle cx="366.5" cy="274.5" r="2.35" fill="#98ff00"/>
<circle cx="360.5" cy="275.5" r="2.35" fill="#96ff00"/>
<circle cx="355.5" cy="275.5" r="2.35" fill="#96ff00"/>
<circle cx="354.5" cy="272.5" r="2.35" fill="#9bff00"/>
<circle cx="362.5" cy="278.5" r="2.35" fill="#92ff00"/>
<circle cx="348.5" cy="285.5" r="2.35" fill="#89ff00"/>
<circle cx="363.5" cy="277.5" r="2.35" fill="#93ff00"/>
<circle cx="360.5" cy="283.5" r="2.35" fill="#8cff00"/>
<circle cx="355.5" cy="279.5" r="2.35" fill="#91ff00"/>
<circle cx="361.5" cy="280.5" r="2.35" fill="#90ff00"/>
<circle cx="354.5" cy="278.5" r="2.35" fill="#92ff00"/>
<circle cx="349.5" cy="273.5" r="2.35" fill="#99ff00"/>
<circle cx="355.5" cy="274.5" r="2.35" fill="#97ff00"/>
<circle cx="348.5" cy="280.5" r="2.35" fill="#8fff00"/>
<circle cx="348.5" cy="274.5" r="2.35" fill="#97ff00"/>
<circle cx="355.5" cy="273.5" r="2.35" fill="#98ff00"/>
<circle cx="363.5" cy="275.5" r="2.35" fill="#97ff00"/>
<circle cx="351.5" cy="278.5" r="2.35" fill="#92ff00"/>
<circle cx="357.5" cy="273.5" r="2.35" fill="#99ff00"/>
<circle cx="366.5" cy="279.5" r="2.35" fill="#91ff00"/>
<circle cx="363.5" cy="286.5" r="2.35" fill="#87ff00"/>
<circle cx="365.5" cy="283.5" r="2.35" fill="#8cff00"/>
<circle cx="360.5" cy="257.5" r="2.35" fill="#acff00"/>
<circle cx="358.5" cy="263.5" r="2.35" fill="#a5ff00"/>
<circle cx="358.5" cy="262.5" r="2.35" fill="#a6ff00"/>
<circle cx="359.5" cy="263.5" r="2.35" fill="#a5ff00"/>
<circle cx="356.5" cy="267.5" r="2.35" fill="#a0ff00"/>
<circle cx="354.5" cy="270.5" r="2.35" fill="#9dff00"/>
<circle cx="351.5" cy="270.5" r="2.35" fill="#9cff00"/>
<circle cx="348.5" cy="257.5" r="2.35" fill="#adff00"/>
<circle cx="354.5" cy="265.5" r="2.35" fill="#a3ff00"/>
<circle cx="362.5" cy="262.5" r="2.35" fill="#a7ff00"/>
<circle cx="358.5" cy="250.5" r="2.35" fill="#b4ff00"/>
<circle cx="350.5" cy="258.5" r="2.35" fill="#acff00"/>
<circle cx="363.5" cy="253.5" r="2.35" fill="#b1ff00"/>
<circle cx="347.5" cy="255.5" r="2.35" fill="#afff00"/>
<circle cx="365.5" cy="250.5" r="2.35" fill="#b5ff00"/>
<circle cx="360.5" cy="270.5" r="2.35" fill="#9dff00"/>
<circle cx="358.5" cy="263.5" r="2.35" fill="#a5ff00"/>
<circle cx="355.5" cy="250.5" r="2.35" fill="#b5ff00"/>
<circle cx="363.5" cy="262.5" r="2.35" fill="#a7ff00"/>
<circle cx="347.5" cy="250.5" r="2.35" fill="#b5ff00"/>
<circle cx="347.5" cy="268.5" r="2.35" fill="#a0ff00"/>
<circle cx="357.5" cy="270.5" r="2.35" fill="#9cff00"/>
<circle cx="352.5" cy="251.5" r="2.35" fill="#b3ff00"/>
<circle cx="355.5" cy="263.5" r="2.35" fill="#a6ff00"/>
<circle cx="357.5" cy="261.5" r="2.35" fill="#a8ff00"/>
<circle cx="347.5" cy="250.5" r="2.35" fill="#b4ff00"/>
<circle cx="366.5" cy="267.5" r="2.35" fill="#a1ff00"/>
<circle cx="360.5" cy="249.5" r="2.35" fill="#b5ff00"/>
<circle cx="348.5" cy="263.5" r="2.35" fill="#a5ff00"/>
<circle cx="361.5" cy="266.5" r="2.35" fill="#a1ff00"/>
<circle cx="357.5" cy="267.5" r="2.35" fill="#a1ff00"/>
<circle cx="360.5" cy="260.5" r="2.35" fill="#a9ff00"/>
<circle cx="361.5" cy="261.5" r="2.35" fill="#a7ff00"/>
<circle cx="366.5" cy="251.5" r="2.35" fill="#b3ff00"/>
<circle cx="349.5" cy="270.5" r="2.35" fill="#9cff00"/>
<circle cx="366.5" cy="271.5" r="2.35" fill="#9cff00"/>
<circle cx="356.5" cy="268.5" r="2.35" fill="#9fff00"/>
<circle cx="351.5" cy="258.5" r="2.35" fill="#abff00"/>
<circle cx="354.5" cy="254.5" r="2.35" fill="#b0ff00"/>
<circle cx="354.5" cy="261.5" r="2.35" fill="#a7ff00"/>
<circle cx="364.5" cy="258.5" r="2.35" fill="#abff00"/>
<circle cx="357.5" cy="257.5" r="2.35" fill="#acff00"/>
<circle cx="348.5" cy="271.5" r="2.35" fill="#9bff00"/>
<circle cx="361.5" cy="266.5" r="2.35" fill="#a1ff00"/>
<circle cx="356.5" cy="248.5" r="2.35" fill="#b6ff00"/>
<circle cx="363.5" cy="264.5" r="2.35" fill="#a4ff00"/>
<circle cx="347.5" cy="250.5" r="2.35" fill="#b5ff00"/>
<circle cx="364.5" cy="261.5" r="2.35" fill="#a8ff00"/>
<circle cx="364.5" cy="267.5" r="2.35" fill="#a1ff00"/>
<circle cx="347.5" cy="271.5" r="2.35" fill="#9bff00"/>
<circle cx="356.5" cy="267.5" r="2.35" fill="#a1ff00"/>
<circle cx="349.5" cy="265.5" r="2.35" fill="#a3ff00"/>
<circle cx="357.5" cy="262.5" r="2.35" fill="#a6ff00"/>
<circle cx="348.5" cy="262.5" r="2.35" fill="#a7ff00"/>
<circle cx="364.5" cy="260.5" r="2.35" fill="#a9ff00"/>
<circle cx="350.5" cy="261.5" r="2.35" fill="#a7ff00"/>
<circle cx="360.5" cy="271.5" r="2.35" fill="#9cff00"/>
<circle cx="360.5" cy="266.5" r="2.35" fill="#a2ff00"/>
<circle cx="353.5" cy="249.5" r="2.35" fill="#b5ff00"/>
<circle cx="351.5" cy="271.5" r="2.35" fill="#9cff00"/>
<circle cx="365.5" cy="255.5" r="2.35" fill="#afff00"/>
<circle cx="347.5" cy="261.5" r="2.35" fill="#a7ff00"/>
<circle cx="352.5" cy="256.5" r="2.35" fill="#aeff00"/>
<circle cx="353.5" cy="264.5" r="2.35" fill="#a4ff00"/>
<circle cx="358.5" cy="264.5" r="2.35" fill="#a5ff00"/>
<circle cx="354.5" cy="260.5" r="2.35" fill="#a8ff00"/>
<circle cx="349.5" cy="251.5" r="2.35" fill="#b4ff00"/>
<circle cx="358.5" cy="265.5" r="2.35" fill="#a3ff00"/>
<circle cx="361.5" cy="270.5" r="2.35" fill="#9dff00"/>
<circle cx="361.5" cy="271.5" r="2.35" fill="#9cff00"/>
<circle cx="356.5" cy="251.5" r="2.35" fill="#b3ff00"/>
<circle cx="353.5" cy="265.5" r="2.35" fill="#a3ff00"/>
<circle cx="347.5" cy="269.5" r="2.35" fill="#9eff00"/>
<circle cx="357.5" cy="259.5" r="2.35" fill="#abff00"/>
<circle cx="359.5" cy="252.5" r="2.35" fill="#b2ff00"/>
<circle cx="355.5" cy="258.5" r="2.35" fill="#abff00"/>
<circle cx="366.5" cy="268.5" r="2.35" fill="#9fff00"/>
<circle cx="351.5" cy="263.5" r="2.35" fill="#a6ff00"/>
<circle cx="363.5" cy="266.5" r="2.35" fill="#a2ff00"/>
<circle cx="361.5" cy="271.5" r="2.35" fill="#9bff00"/>
<circle cx="364.5" cy="249.5" r="2.35" fill="#b5ff00"/>
<circle cx="365.5" cy="262.5" r="2.35" fill="#a7ff00"/>
<circle cx="351.5" cy="269.5" r="2.35" fill="#9eff00"/>
<circle cx="365.5" cy="251.5" r="2.35" fill="#b3ff00"/>
<circle cx="355.5" cy="249.5" r="2.35" fill="#b6ff00"/>
<circle cx="360.5" cy="253.5" r="2.35" fill="#b1ff00"/>
<circle cx="366.5" cy="266.5" r="2.35" fill="#a2ff00"/>
<circle cx="358.5" cy="267.5" r="2.35" fill="#a0ff00"/>
<circle cx="358.5" cy="260.5" r="2.35" fill="#a9ff00"/>
<circle cx="348.5" cy="259.5" r="2.35" fill="#aaff00"/>
<circle cx="358.5" cy="252.5" r="2.35" fill="#b3ff00"/>
<circle cx="351.5" cy="249.5" r="2.35" fill="#b5ff00"/>
<circle cx="354.5" cy="251.5" r="2.35" fill="#b4ff00"/>
<circle cx="354.5" cy="238.5" r="2.35" fill="#c2ff00"/>
<circle cx="366.5" cy="228.5" r="2.35" fill="#ccff00"/>
<circle cx="359.5" cy="245.5" r="2.35" fill="#baff00"/>
<circle cx="361.5" cy="231.5" r="2.35" fill="#c9ff00"/>
<circle cx="350.5" cy="246.5" r="2.35" fill="#b9ff00"/>
<circle cx="353.5" cy="245.5" r="2.35" fill="#baff00"/>
<circle cx="364.5" cy="245.5" r="2.35" fill="#baff00"/>
<circle cx="349.5" cy="239.5" r="2.35" fill="#c0ff00"/>
<circle cx="366.5" cy="239.5" r="2.35" fill="#c1ff00"/>
<circle cx="355.5" cy="223.5" r="2.35" fill="#d2ff00"/>
<circle cx="354.5" cy="246.5" r="2.35" fill="#b9ff00"/>
<circle cx="357.5" cy="245.5" r="2.35" fill="#baff00"/>
<circle cx="355.5" cy="225.5" r="2.35" fill="#d0ff00"/>
<circle cx="356.5" cy="224.5" r="2.35" fill="#d0ff00"/>
<circle cx="355.5" cy="223.5" r="2.35" fill="#d2ff00"/>
<circle cx="361.5" cy="222.5" r="2.35" fill="#d3ff00"/>
<circle cx="352.5" cy="225.5" r="2.35" fill="#d0ff00"/>
<circle cx="350.5" cy="230.5" r="2.35" fill="#caff00"/>
<circle cx="355.5" cy="221.5" r="2.35" fill="#d4ff00"/>
<circle cx="348.5" cy="246.5" r="2.35" fill="#b9ff00"/>
<circle cx="355.5" cy="242.5" r="2.35" fill="#bdff00"/>
<circle cx="356.5" cy="221.5" r="2.35" fill="#d4ff00"/>
<circle cx="362.5" cy="243.5" r="2.35" fill="#bcff00"/>
<circle cx="349.5" cy="231.5" r="2.35" fill="#c9ff00"/>
<circle cx="354.5" cy="241.5" r="2.35" fill="#bfff00"/>
<circle cx="362.5" cy="235.5" r="2.35" fill="#c5ff00"/>
<circle cx="353.5" cy="217.5" r="2.35" fill="#d8ff00"/>
<circle cx="363.5" cy="225.5" r="2.35" fill="#d0ff00"/>
<circle cx="361.5" cy="234.5" r="2.35" fill="#c6ff00"/>
<circle cx="347.5" cy="240.5" r="2.35" fill="#bfff00"/>
<circle cx="354.5" cy="218.5" r="2.35" fill="#d7ff00"/>
<circle cx="362.5" cy="225.5" r="2.35" fill="#d0ff00"/>
<circle cx="357.5" cy="235.5" r="2.35" fill="#c6ff00"/>
<circle cx="360.5" cy="215.5" r="2.35" fill="#daff00"/>
<circle cx="366.5" cy="223.5" r="2.35" fill="#d1ff00"/>
<circle cx="360.5" cy="209.5" r="2.35" fill="#e0ff00"/>
<circle cx="357.5" cy="225.5" r="2.35" fill="#d0ff00"/>
<circle cx="363.5" cy="213.5" r="2.35" fill="#dcff00"/>
<circle cx="355.5" cy="230.5" r="2.35" fill="#caff00"/>
<circle cx="347.5" cy="223.5" r="2.35" fill="#d2ff00"/>
<circle cx="352.5" cy="216.5" r="2.35" fill="#d9ff00"/>
<circle cx="358.5" cy="246.5" r="2.35" fill="#b9ff00"/>
<circle cx="365.5" cy="233.5" r="2.35" fill="#c7ff00"/>
<circle cx="359.5" cy="228.5" r="2.35" fill="#cdff00"/>
<circle cx="352.5" cy="247.5" r="2.35" fill="#b8ff00"/>
<circle cx="366.5" cy="219.5" r="2.35" fill="#d6ff00"/>
<circle cx="355.5" cy="222.5" r="2.35" fill="#d2ff00"/>
<circle cx="351.5" cy="211.5" r="2.35" fill="#deff00"/>
<circle cx="358.5" cy="237.5" r="2.35" fill="#c3ff00"/>
<circle cx="353.5" cy="233.5" r="2.35" fill="#c7ff00"/>
<circle cx="349.5" cy="213.5" r="2.35" fill="#dcff00"/>
<circle cx="361.5" cy="236.5" r="2.35" fill="#c4ff00"/>
<circle cx="360.5" cy="217.5" r="2.35" fill="#d8ff00"/>
<circle cx="366.5" cy="235.5" r="2.35" fill="#c5ff00"/>
<circle cx="349.5" cy="238.5" r="2.35" fill="#c2ff00"/>
<circle cx="365.5" cy="240.5" r="2.35" fill="#bfff00"/>
<circle cx="362.5" cy="242.5" r="2.35" fill="#bdff00"/>
<circle cx="352.5" cy="235.5" r="2.35" fill="#c5ff00"/>
<circle cx="356.5" cy="244.5" r="2.35" fill="#bbff00"/>
<circle cx="359.5" cy="217.5" r="2.35" fill="#d8ff00"/>
<circle cx="353.5" cy="209.5" r="2.35" fill="#e0ff00"/>
<circle cx="349.5" cy="246.5" r="2.35" fill="#b9ff00"/>
<circle cx="363.5" cy="247.5" r="2.35" fill="#b8ff00"/>
<circle cx="350.5" cy="248.5" r="2.35" fill="#b7ff00"/>
<circle cx="356.5" cy="212.5" r="2.35" fill="#ddff00"/>
<circle cx="355.5" cy="246.5" r="2.35" fill="#b9ff00"/>
<circle cx="365.5" cy="224.5" r="2.35" fill="#d1ff00"/>
<circle cx="358.5" cy="239.5" r="2.35" fill="#c0ff00"/>
<circle cx="355.5" cy="243.5" r="2.35" fill="#bdff00"/>
<circle cx="366.5" cy="241.5" r="2.35" fill="#beff00"/>
<circle cx="354.5" cy="224.5" r="2.35" fill="#d1ff00"/>
<circle cx="361.5" cy="248.5" r="2.35" fill="#b7ff00"/>
<circle cx="351.5" cy="215.5" r="2.35" fill="#daff00"/>
<circle cx="362.5" cy="229.5" r="2.35" fill="#cbff00"/>
<circle cx="362.5" cy="242.5" r="2.35" fill="#beff00"/>
<circle cx="363.5" cy="242.5" r="2.35" fill="#bdff00"/>
<circle cx="356.5" cy="225.5" r="2.35" fill="#cfff00"/>
<circle cx="351.5" cy="226.5" r="2.35" fill="#ceff00"/>
<circle cx="359.5" cy="239.5" r="2.35" fill="#c1ff00"/>
<circle cx="365.5" cy="238.5" r="2.35" fill="#c1ff00"/>
<circle cx="353.5" cy="234.5" r="2.35" fill="#c7ff00"/>
<circle cx="347.5" cy="213.5" r="2.35" fill="#dcff00"/>
<circle cx="350.5" cy="231.5" r="2.35" fill="#caff00"/>
<circle cx="365.5" cy="216.5" r="2.35" fill="#d9ff00"/>
<circle cx="347.5" cy="226.5" r="2.35" fill="#cfff00"/>
<circle cx="348.5" cy="230.5" r="2.35" fill="#cbff00"/>
<circle cx="348.5" cy="233.5" r="2.35" fill="#c8ff00"/>
<circle cx="364.5" cy="224.5" r="2.35" fill="#d1ff00"/>
<circle cx="354.5" cy="233.5" r="2.35" fill="#c8ff00"/>
<circle cx="360.5" cy="222.5" r="2.35" fill="#d3ff00"/>
<circle cx="361.5" cy="243.5" r="2.35" fill="#bcff00"/>
<circle cx="355.5" cy="239.5" r="2.35" fill="#c1ff00"/>
<circle cx="361.5" cy="215.5" r="2.35" fill="#daff00"/>
<circle cx="356.5" cy="196.5" r="2.35" fill="#edff00"/>
<circle cx="357.5" cy="180.5" r="2.35" fill="#fcff00"/>
<circle cx="353.5" cy="176.5" r="2.35" fill="#fffe00"/>
<circle cx="347.5" cy="190.5" r="2.35" fill="#f2ff00"/>
<circle cx="358.5" cy="205.5" r="2.35" fill="#e4ff00"/>
<circle cx="352.5" cy="184.5" r="2.35" fill="#f9ff00"/>
<circle cx="352.5" cy="187.5" r="2.35" fill="#f5ff00"/>
<circle cx="364.5" cy="200.5" r="2.35" fill="#e9ff00"/>
<circle cx="354.5" cy="179.5" r="2.35" fill="#fdff00"/>
<circle cx="349.5" cy="193.5" r="2.35" fill="#efff00"/>
<circle cx="359.5" cy="206.5" r="2.35" fill="#e3ff00"/>
<circle cx="357.5" cy="206.5" r="2.35" fill="#e3ff00"/>
<circle cx="348.5" cy="201.5" r="2.35" fill="#e7ff00"/>
<circle cx="353.5" cy="189.5" r="2.35" fill="#f3ff00"/>
<circle cx="359.5" cy="181.5" r="2.35" fill="#fbff00"/>
<circle cx="352.5" cy="205.5" r="2.35" fill="#e4ff00"/>
<circle cx="366.5" cy="207.5" r="2.35" fill="#e2ff00"/>
<circle cx="362.5" cy="189.5" r="2.35" fill="#f4ff00"/>
<circle cx="357.5" cy="196.5" r="2.35" fill="#edff00"/>
<circle cx="365.5" cy="195.5" r="2.35" fill="#eeff00"/>
<circle cx="347.5" cy="181.5" r="2.35" fill="#fbff00"/>
<circle cx="351.5" cy="177.5" r="2.35" fill="#ffff00"/>
<circle cx="365.5" cy="175.5" r="2.35" fill="#fffc00"/>
<circle cx="357.5" cy="183.5" r="2.35" fill="#faff00"/>
<circle cx="350.5" cy="208.5" r="2.35" fill="#e1ff00"/>
<circle cx="358.5" cy="204.5" r="2.35" fill="#e5ff00"/>
<circle cx="361.5" cy="190.5" r="2.35" fill="#f3ff00"/>
<circle cx="359.5" cy="175.5" r="2.35" fill="#fffd00"/>
<circle cx="347.5" cy="206.5" r="2.35" fill="#e3ff00"/>
<circle cx="347.5" cy="192.5" r="2.35" fill="#f0ff00"/>
<circle cx="355.5" cy="196.5" r="2.35" fill="#edff00"/>
<circle cx="347.5" cy="196.5" r="2.35" fill="#edff00"/>
<circle cx="348.5" cy="200.5" r="2.35" fill="#e9ff00"/>
<circle cx="359.5" cy="200.5" r="2.35" fill="#e9ff00"/>
<circle cx="355.5" cy="201.5" r="2.35" fill="#e8ff00"/>
<circle cx="348.5" cy="205.5" r="2.35" fill="#e4ff00"/>
<circle cx="364.5" cy="191.5" r="2.35" fill="#f2ff00"/>
<circle cx="354.5" cy="195.5" r="2.35" fill="#eeff00"/>
<circle cx="364.5" cy="185.5" r="2.35" fill="#f7ff00"/>
<circle cx="359.5" cy="188.5" r="2.35" fill="#f5ff00"/>
<circle cx="359.5" cy="176.5" r="2.35" fill="#fffd00"/>
<circle cx="355.5" cy="198.5" r="2.35" fill="#ebff00"/>
<circle cx="360.5" cy="179.5" r="2.35" fill="#feff00"/>
<circle cx="351.5" cy="197.5" r="2.35" fill="#ecff00"/>
<circle cx="352.5" cy="187.5" r="2.35" fill="#f5ff00"/>
<circle cx="364.5" cy="182.5" r="2.35" fill="#fbff00"/>
<circle cx="351.5" cy="196.5" r="2.35" fill="#edff00"/>
<circle cx="354.5" cy="195.5" r="2.35" fill="#eeff00"/>
<circle cx="361.5" cy="188.5" r="2.35" fill="#f4ff00"/>
<circle cx="353.5" cy="205.5" r="2.35" fill="#e4ff00"/>
<circle cx="354.5" cy="192.5" r="2.35" fill="#f1ff00"/>
<circle cx="364.5" cy="43.5" r="2.35" fill="#ff5600"/>
<circle cx="347.5" cy="73.5" r="2.35" fill="#ff7f00"/>
<circle cx="352.5" cy="81.5" r="2.35" fill="#ff8800"/>
<circle cx="358.5" cy="79.5" r="2.35" fill="#ff8500"/>
<circle cx="360.5" cy="75.5" r="2.35" fill="#ff8200"/>
<circle cx="362.5" cy="86.5" r="2.35" fill="#ff8e00"/>
<circle cx="366.5" cy="88.5" r="2.35" fill="#ff9100"/>
<circle cx="359.5" cy="93.5" r="2.35" fill="#ff9600"/>
<circle cx="349.5" cy="95.5" r="2.35" fill="#ff9900"/>
<circle cx="347.5" cy="108.5" r="2.35" fill="#ffa700"/>
<circle cx="348.5" cy="120.5" r="2.35" fill="#ffb700"/>
<circle cx="361.5" cy="119.5" r="2.35" fill="#ffb600"/>
<circle cx="359.5" cy="122.5" r="2.35" fill="#ffb900"/>
<circle cx="363.5" cy="128.5" r="2.35" fill="#ffc100"/>
<circle cx="348.5" cy="124.5" r="2.35" fill="#ffbc00"/>
<circle cx="360.5" cy="127.5" r="2.35" fill="#ffbf00"/>
<circle cx="364.5" cy="127.5" r="2.35" fill="#ffc000"/>
<circle cx="359.5" cy="130.5" r="2.35" fill="#ffc300"/>
<circle cx="350.5" cy="132.5" r="2.35" fill="#ffc600"/>
<circle cx="352.5" cy="134.5" r="2.35" fill="#ffc800"/>
<circle cx="361.5" cy="135.5" r="2.35" fill="#ffca00"/>
<circle cx="363.5" cy="136.5" r="2.35" fill="#ffcc00"/>
<circle cx="358.5" cy="139.5" r="2.35" fill="#ffcf00"/>
<circle cx="347.5" cy="141.5" r="2.35" fill="#ffd100"/>
<circle cx="345.5" cy="142.5" r="2.35" fill="#ffd300"/>
<circle cx="366.5" cy="143.5" r="2.35" fill="#ffd400"/>
<circle cx="363.5" cy="146.5" r="2.35" fill="#ffd700"/>
<circle cx="352.5" cy="149.5" r="2.35" fill="#ffdb00"/>
<circle cx="362.5" cy="150.5" r="2.35" fill="#ffdd00"/>
<circle cx="348.5" cy="152.5" r="2.35" fill="#ffe000"/>
<circle cx="353.5" cy="154.5" r="2.35" fill="#ffe300"/>
<circle cx="358.5" cy="155.5" r="2.35" fill="#ffe300"/>
<circle cx="347.5" cy="159.5" r="2.35" fill="#ffe800"/>
<circle cx="360.5" cy="157.5" r="2.35" fill="#ffe600"/>
<circle cx="366.5" cy="160.5" r="2.35" fill="#ffe900"/>
<circle cx="352.5" cy="161.5" r="2.35" fill="#ffeb00"/>
<circle cx="357.5" cy="162.5" r="2.35" fill="#ffec00"/>
<circle cx="365.5" cy="163.5" r="2.35" fill="#ffee00"/>
<circle cx="353.5" cy="167.5" r="2.35" fill="#fff200"/>
<circle cx="359.5" cy="168.5" r="2.35" fill="#fff400"/>
<circle cx="352.5" cy="171.5" r="2.35" fill="#fff800"/>
<circle cx="363.5" cy="171.5" r="2.35" fill="#fff800"/>
<circle cx="428.5" cy="267.5" r="2.35" fill="#a0ff00"/>
<circle cx="425.5" cy="281.5" r="2.35" fill="#8eff00"/>
<circle cx="430.5" cy="280.5" r="2.35" fill="#8fff00"/>
<circle cx="431.5" cy="268.5" r="2.35" fill="#a0ff00"/>
<circle cx="415.5" cy="280.5" r="2.35" fill="#90ff00"/>
<circle cx="433.5" cy="278.5" r="2.35" fill="#92ff00"/>
<circle cx="432.5" cy="268.5" r="2.35" fill="#a0ff00"/>
<circle cx="433.5" cy="279.5" r="2.35" fill="#92ff00"/>
<circle cx="430.5" cy="266.5" r="2.35" fill="#a2ff00"/>
<circle cx="422.5" cy="269.5" r="2.35" fill="#9eff00"/>
<circle cx="420.5" cy="268.5" r="2.35" fill="#9fff00"/>
<circle cx="433.5" cy="281.5" r="2.35" fill="#8fff00"/>
<circle cx="423.5" cy="281.5" r="2.35" fill="#8eff00"/>
<circle cx="424.5" cy="270.5" r="2.35" fill="#9dff00"/>
<circle cx="429.5" cy="269.5" r="2.35" fill="#9eff00"/>
<circle cx="428.5" cy="281.5" r="2.35" fill="#8fff00"/>
<circle cx="429.5" cy="281.5" r="2.35" fill="#8eff00"/>
<circle cx="427.5" cy="280.5" r="2.35" fill="#8fff00"/>
<circle cx="425.5" cy="283.5" r="2.35" fill="#8cff00"/>
<circle cx="430.5" cy="276.5" r="2.35" fill="#94ff00"/>
<circle cx="423.5" cy="275.5" r="2.35" fill="#97ff00"/>
<circle cx="420.5" cy="272.5" r="2.35" fill="#9aff00"/>
<circle cx="433.5" cy="285.5" r="2.35" fill="#89ff00"/>
<circle cx="432.5" cy="282.5" r="2.35" fill="#8eff00"/>
<circle cx="429.5" cy="283.5" r="2.35" fill="#8bff00"/>
<circle cx="418.5" cy="280.5" r="2.35" fill="#90ff00"/>
<circle cx="416.5" cy="282.5" r="2.35" fill="#8dff00"/>
<circle cx="433.5" cy="267.5" r="2.35" fill="#a1ff00"/>
<circle cx="434.5" cy="277.5" r="2.35" fill="#93ff00"/>
<circle cx="420.5" cy="283.5" r="2.35" fill="#8cff00"/>
<circle cx="427.5" cy="272.5" r="2.35" fill="#9bff00"/>
<circle cx="415.5" cy="266.5" r="2.35" fill="#a2ff00"/>
<circle cx="423.5" cy="269.5" r="2.35" fill="#9eff00"/>
<circle cx="429.5" cy="272.5" r="2.35" fill="#9aff00"/>
<circle cx="422.5" cy="277.5" r="2.35" fill="#93ff00"/>
<circle cx="431.5" cy="277.5" r="2.35" fill="#94ff00"/>
<circle cx="433.5" cy="279.5" r="2.35" fill="#91ff00"/>
<circle cx="417.5" cy="269.5" r="2.35" fill="#9eff00"/>
<circle cx="428.5" cy="269.5" r="2.35" fill="#9eff00"/>
<circle cx="422.5" cy="275.5" r="2.35" fill="#96ff00"/>
<circle cx="418.5" cy="268.5" r="2.35" fill="#9fff00"/>
<circle cx="422.5" cy="272.5" r="2.35" fill="#9aff00"/>
<circle cx="424.5" cy="271.5" r="2.35" fill="#9bff00"/>
<circle cx="433.5" cy="280.5" r="2.35" fill="#90ff00"/>
<circle cx="430.5" cy="280.5" r="2.35" fill="#8fff00"/>
<circle cx="415.5" cy="281.5" r="2.35" fill="#8fff00"/>
<circle cx="416.5" cy="267.5" r="2.35" fill="#a0ff00"/>
<circle cx="435.5" cy="269.5" r="2.35" fill="#9eff00"/>
<circle cx="426.5" cy="267.5" r="2.35" fill="#a0ff00"/>
<circle cx="427.5" cy="269.5" r="2.35" fill="#9eff00"/>
<circle cx="422.5" cy="269.5" r="2.35" fill="#9eff00"/>
<circle cx="431.5" cy="276.5" r="2.35" fill="#95ff00"/>
<circle cx="426.5" cy="270.5" r="2.35" fill="#9dff00"/>
<circle cx="427.5" cy="282.5" r="2.35" fill="#8dff00"/>
<circle cx="420.5" cy="272.5" r="2.35" fill="#9aff00"/>
<circle cx="430.5" cy="285.5" r="2.35" fill="#88ff00"/>
<circle cx="419.5" cy="266.5" r="2.35" fill="#a1ff00"/>
<circle cx="417.5" cy="268.5" r="2.35" fill="#9fff00"/>
<circle cx="427.5" cy="282.5" r="2.35" fill="#8dff00"/>
<circle cx="431.5" cy="270.5" r="2.35" fill="#9dff00"/>
<circle cx="421.5" cy="269.5" r="2.35" fill="#9eff00"/>
<circle cx="421.5" cy="285.5" r="2.35" fill="#88ff00"/>
<circle cx="418.5" cy="274.5" r="2.35" fill="#98ff00"/>
<circle cx="427.5" cy="276.5" r="2.35" fill="#94ff00"/>
<circle cx="430.5" cy="273.5" r="2.35" fill="#99ff00"/>
<circle cx="417.5" cy="268.5" r="2.35" fill="#a0ff00"/>
<circle cx="425.5" cy="271.5" r="2.35" fill="#9cff00"/>
<circle cx="425.5" cy="281.5" r="2.35" fill="#8eff00"/>
<circle cx="417.5" cy="274.5" r="2.35" fill="#98ff00"/>
<circle cx="425.5" cy="274.5" r="2.35" fill="#98ff00"/>
<circle cx="420.5" cy="286.5" r="2.35" fill="#87ff00"/>
<circle cx="419.5" cy="283.5" r="2.35" fill="#8cff00"/>
<circle cx="434.5" cy="258.5" r="2.35" fill="#abff00"/>
<circle cx="417.5" cy="262.5" r="2.35" fill="#a7ff00"/>
<circle cx="422.5" cy="261.5" r="2.35" fill="#a8ff00"/>
<circle cx="427.5" cy="251.5" r="2.35" fill="#b3ff00"/>
<circle cx="423.5" cy="244.5" r="2.35" fill="#bbff00"/>
<circle cx="415.5" cy="256.5" r="2.35" fill="#aeff00"/>
<circle cx="432.5" cy="252.5" r="2.35" fill="#b3ff00"/>
<circle cx="419.5" cy="249.5" r="2.35" fill="#b6ff00"/>
<circle cx="423.5" cy="251.5" r="2.35" fill="#b3ff00"/>
<circle cx="433.5" cy="251.5" r="2.35" fill="#b3ff00"/>
<circle cx="434.5" cy="266.5" r="2.35" fill="#a2ff00"/>
<circle cx="433.5" cy="246.5" r="2.35" fill="#b9ff00"/>
<circle cx="423.5" cy="262.5" r="2.35" fill="#a6ff00"/>
<circle cx="430.5" cy="262.5" r="2.35" fill="#a7ff00"/>
<circle cx="432.5" cy="255.5" r="2.35" fill="#afff00"/>
<circle cx="419.5" cy="253.5" r="2.35" fill="#b1ff00"/>
<circle cx="434.5" cy="249.5" r="2.35" fill="#b6ff00"/>
<circle cx="417.5" cy="259.5" r="2.35" fill="#aaff00"/>
<circle cx="428.5" cy="245.5" r="2.35" fill="#bbff00"/>
<circle cx="419.5" cy="252.5" r="2.35" fill="#b2ff00"/>
<circle cx="419.5" cy="247.5" r="2.35" fill="#b8ff00"/>
<circle cx="417.5" cy="255.5" r="2.35" fill="#aeff00"/>
<circle cx="434.5" cy="264.5" r="2.35" fill="#a4ff00"/>
<circle cx="417.5" cy="265.5" r="2.35" fill="#a2ff00"/>
<circle cx="433.5" cy="252.5" r="2.35" fill="#b3ff00"/>
<circle cx="418.5" cy="256.5" r="2.35" fill="#adff00"/>
<circle cx="421.5" cy="256.5" r="2.35" fill="#adff00"/>
<circle cx="419.5" cy="259.5" r="2.35" fill="#abff00"/>
<circle cx="434.5" cy="262.5" r="2.35" fill="#a7ff00"/>
<circle cx="417.5" cy="255.5" r="2.35" fill="#aeff00"/>
<circle cx="432.5" cy="260.5" r="2.35" fill="#a9ff00"/>
<circle cx="421.5" cy="246.5" r="2.35" fill="#b9ff00"/>
<circle cx="434.5" cy="262.5" r="2.35" fill="#a7ff00"/>
<circle cx="430.5" cy="244.5" r="2.35" fill="#bbff00"/>
<circle cx="420.5" cy="247.5" r="2.35" fill="#b8ff00"/>
<circle cx="425.5" cy="257.5" r="2.35" fill="#acff00"/>
<circle cx="418.5" cy="249.5" r="2.35" fill="#b6ff00"/>
<circle cx="423.5" cy="253.5" r="2.35" fill="#b1ff00"/>
<circle cx="415.5" cy="256.5" r="2.35" fill="#aeff00"/>
<circle cx="428.5" cy="248.5" r="2.35" fill="#b7ff00"/>
<circle cx="427.5" cy="247.5" r="2.35" fill="#b7ff00"/>
<circle cx="420.5" cy="261.5" r="2.35" fill="#a7ff00"/>
<circle cx="415.5" cy="246.5" r="2.35" fill="#baff00"/>
<circle cx="433.5" cy="265.5" r="2.35" fill="#a3ff00"/>
<circle cx="417.5" cy="265.5" r="2.35" fill="#a2ff00"/>
<circle cx="421.5" cy="255.5" r="2.35" fill="#aeff00"/>
<circle cx="415.5" cy="259.5" r="2.35" fill="#aaff00"/>
<circle cx="422.5" cy="257.5" r="2.35" fill="#adff00"/>
<circle cx="423.5" cy="255.5" r="2.35" fill="#aeff00"/>
<circle cx="425.5" cy="256.5" r="2.35" fill="#aeff00"/>
<circle cx="421.5" cy="246.5" r="2.35" fill="#baff00"/>
<circle cx="420.5" cy="245.5" r="2.35" fill="#baff00"/>
<circle cx="430.5" cy="258.5" r="2.35" fill="#abff00"/>
<circle cx="420.5" cy="259.5" r="2.35" fill="#aaff00"/>
<circle cx="421.5" cy="251.5" r="2.35" fill="#b3ff00"/>
<circle cx="425.5" cy="261.5" r="2.35" fill="#a7ff00"/>
<circle cx="420.5" cy="257.5" r="2.35" fill="#acff00"/>
<circle cx="429.5" cy="250.5" r="2.35" fill="#b5ff00"/>
<circle cx="416.5" cy="265.5" r="2.35" fill="#a2ff00"/>
<circle cx="421.5" cy="249.5" r="2.35" fill="#b6ff00"/>
<circle cx="423.5" cy="250.5" r="2.35" fill="#b5ff00"/>
<circle cx="420.5" cy="257.5" r="2.35" fill="#acff00"/>
<circle cx="431.5" cy="260.5" r="2.35" fill="#a9ff00"/>
<circle cx="422.5" cy="254.5" r="2.35" fill="#b0ff00"/>
<circle cx="423.5" cy="259.5" r="2.35" fill="#aaff00"/>
<circle cx="424.5" cy="248.5" r="2.35" fill="#b7ff00"/>
<circle cx="431.5" cy="253.5" r="2.35" fill="#b1ff00"/>
<circle cx="419.5" cy="259.5" r="2.35" fill="#aaff00"/>
<circle cx="431.5" cy="248.5" r="2.35" fill="#b7ff00"/>
<circle cx="434.5" cy="252.5" r="2.35" fill="#b2ff00"/>
<circle cx="420.5" cy="263.5" r="2.35" fill="#a6ff00"/>
<circle cx="418.5" cy="257.5" r="2.35" fill="#adff00"/>
<circle cx="430.5" cy="229.5" r="2.35" fill="#ccff00"/>
<circle cx="421.5" cy="211.5" r="2.35" fill="#deff00"/>
<circle cx="419.5" cy="234.5" r="2.35" fill="#c6ff00"/>
<circle cx="416.5" cy="230.5" r="2.35" fill="#caff00"/>
<circle cx="427.5" cy="210.5" r="2.35" fill="#dfff00"/>
<circle cx="433.5" cy="231.5" r="2.35" fill="#c9ff00"/>
<circle cx="432.5" cy="216.5" r="2.35" fill="#d9ff00"/>
<circle cx="426.5" cy="241.5" r="2.35" fill="#bfff00"/>
<circle cx="423.5" cy="232.5" r="2.35" fill="#c8ff00"/>
<circle cx="434.5" cy="238.5" r="2.35" fill="#c2ff00"/>
<circle cx="428.5" cy="214.5" r="2.35" fill="#dbff00"/>
<circle cx="434.5" cy="227.5" r="2.35" fill="#ceff00"/>
<circle cx="428.5" cy="237.5" r="2.35" fill="#c3ff00"/>
<circle cx="429.5" cy="241.5" r="2.35" fill="#bfff00"/>
<circle cx="429.5" cy="231.5" r="2.35" fill="#c9ff00"/>
<circle cx="417.5" cy="241.5" r="2.35" fill="#bfff00"/>
<circle cx="420.5" cy="229.5" r="2.35" fill="#cbff00"/>
<circle cx="416.5" cy="220.5" r="2.35" fill="#d4ff00"/>
<circle cx="433.5" cy="234.5" r="2.35" fill="#c6ff00"/>
<circle cx="435.5" cy="239.5" r="2.35" fill="#c1ff00"/>
<circle cx="427.5" cy="233.5" r="2.35" fill="#c7ff00"/>
<circle cx="418.5" cy="239.5" r="2.35" fill="#c1ff00"/>
<circle cx="417.5" cy="216.5" r="2.35" fill="#d9ff00"/>
<circle cx="424.5" cy="241.5" r="2.35" fill="#bfff00"/>
<circle cx="423.5" cy="220.5" r="2.35" fill="#d5ff00"/>
<circle cx="419.5" cy="234.5" r="2.35" fill="#c6ff00"/>
<circle cx="416.5" cy="220.5" r="2.35" fill="#d4ff00"/>
<circle cx="428.5" cy="219.5" r="2.35" fill="#d6ff00"/>
<circle cx="431.5" cy="240.5" r="2.35" fill="#c0ff00"/>
<circle cx="416.5" cy="219.5" r="2.35" fill="#d6ff00"/>
<circle cx="421.5" cy="211.5" r="2.35" fill="#deff00"/>
<circle cx="421.5" cy="226.5" r="2.35" fill="#ceff00"/>
<circle cx="426.5" cy="224.5" r="2.35" fill="#d1ff00"/>
<circle cx="427.5" cy="234.5" r="2.35" fill="#c6ff00"/>
<circle cx="423.5" cy="238.5" r="2.35" fill="#c1ff00"/>
<circle cx="432.5" cy="220.5" r="2.35" fill="#d5ff00"/>
<circle cx="423.5" cy="217.5" r="2.35" fill="#d8ff00"/>
<circle cx="421.5" cy="238.5" r="2.35" fill="#c2ff00"/>
<circle cx="430.5" cy="240.5" r="2.35" fill="#bfff00"/>
<circle cx="432.5" cy="233.5" r="2.35" fill="#c7ff00"/>
<circle cx="432.5" cy="224.5" r="2.35" fill="#d0ff00"/>
<circle cx="418.5" cy="233.5" r="2.35" fill="#c7ff00"/>
<circle cx="419.5" cy="210.5" r="2.35" fill="#dfff00"/>
<circle cx="424.5" cy="218.5" r="2.35" fill="#d7ff00"/>
<circle cx="434.5" cy="212.5" r="2.35" fill="#ddff00"/>
<circle cx="427.5" cy="225.5" r="2.35" fill="#cfff00"/>
<circle cx="427.5" cy="219.5" r="2.35" fill="#d6ff00"/>
<circle cx="421.5" cy="211.5" r="2.35" fill="#deff00"/>
<circle cx="435.5" cy="242.5" r="2.35" fill="#bdff00"/>
<circle cx="418.5" cy="226.5" r="2.35" fill="#ceff00"/>
<circle cx="426.5" cy="238.5" r="2.35" fill="#c2ff00"/>
<circle cx="428.5" cy="218.5" r="2.35" fill="#d7ff00"/>
<circle cx="431.5" cy="237.5" r="2.35" fill="#c3ff00"/>
<circle cx="431.5" cy="220.5" r="2.35" fill="#d5ff00"/>
<circle cx="422.5" cy="234.5" r="2.35" fill="#c6ff00"/>
<circle cx="420.5" cy="223.5" r="2.35" fill="#d1ff00"/>
<circle cx="434.5" cy="222.5" r="2.35" fill="#d2ff00"/>
<circle cx="426.5" cy="213.5" r="2.35" fill="#dcff00"/>
<circle cx="420.5" cy="214.5" r="2.35" fill="#dbff00"/>
<circle cx="417.5" cy="231.5" r="2.35" fill="#caff00"/>
<circle cx="431.5" cy="222.5" r="2.35" fill="#d3ff00"/>
<circle cx="432.5" cy="238.5" r="2.35" fill="#c2ff00"/>
<circle cx="426.5" cy="241.5" r="2.35" fill="#bfff00"/>
<circle cx="422.5" cy="221.5" r="2.35" fill="#d4ff00"/>
<circle cx="428.5" cy="213.5" r="2.35" fill="#dcff00"/>
<circle cx="434.5" cy="220.5" r="2.35" fill="#d5ff00"/>
<circle cx="426.5" cy="228.5" r="2.35" fill="#ccff00"/>
<circle cx="430.5" cy="224.5" r="2.35" fill="#d0ff00"/>
<circle cx="432.5" cy="220.5" r="2.35" fill="#d4ff00"/>
<circle cx="430.5" cy="226.5" r="2.35" fill="#ceff00"/>
<circle cx="424.5" cy="233.5" r="2.35" fill="#c7ff00"/>
<circle cx="418.5" cy="215.5" r="2.35" fill="#daff00"/>
<circle cx="429.5" cy="202.5" r="2.35" fill="#e7ff00"/>
<circle cx="431.5" cy="190.5" r="2.35" fill="#f3ff00"/>
<circle cx="434.5" cy="192.5" r="2.35" fill="#f0ff00"/>
<circle cx="418.5" cy="193.5" r="2.35" fill="#f0ff00"/>
<circle cx="417.5" cy="192.5" r="2.35" fill="#f1ff00"/>
<circle cx="427.5" cy="188.5" r="2.35" fill="#f5ff00"/>
<circle cx="431.5" cy="188.5" r="2.35" fill="#f5ff00"/>
<circle cx="416.5" cy="199.5" r="2.35" fill="#eaff00"/>
<circle cx="427.5" cy="201.5" r="2.35" fill="#e7ff00"/>
<circle cx="420.5" cy="194.5" r="2.35" fill="#efff00"/>
<circle cx="435.5" cy="188.5" r="2.35" fill="#f4ff00"/>
<circle cx="422.5" cy="196.5" r="2.35" fill="#edff00"/>
<circle cx="416.5" cy="208.5" r="2.35" fill="#e1ff00"/>
<circle cx="430.5" cy="208.5" r="2.35" fill="#e1ff00"/>
<circle cx="421.5" cy="200.5" r="2.35" fill="#e9ff00"/>
<circle cx="423.5" cy="193.5" r="2.35" fill="#f0ff00"/>
<circle cx="417.5" cy="190.5" r="2.35" fill="#f2ff00"/>
<circle cx="421.5" cy="201.5" r="2.35" fill="#e7ff00"/>
<circle cx="417.5" cy="199.5" r="2.35" fill="#eaff00"/>
<circle cx="420.5" cy="199.5" r="2.35" fill="#eaff00"/>
<circle cx="426.5" cy="207.5" r="2.35" fill="#e2ff00"/>
<circle cx="421.5" cy="209.5" r="2.35" fill="#e0ff00"/>
<circle cx="428.5" cy="198.5" r="2.35" fill="#eaff00"/>
<circle cx="433.5" cy="199.5" r="2.35" fill="#eaff00"/>
<circle cx="426.5" cy="191.5" r="2.35" fill="#f2ff00"/>
<circle cx="415.5" cy="205.5" r="2.35" fill="#e4ff00"/>
<circle cx="434.5" cy="191.5" r="2.35" fill="#f1ff00"/>
<circle cx="419.5" cy="204.5" r="2.35" fill="#e5ff00"/>
<circle cx="422.5" cy="198.5" r="2.35" fill="#ebff00"/>
<circle cx="425.5" cy="195.5" r="2.35" fill="#eeff00"/>
<circle cx="427.5" cy="206.5" r="2.35" fill="#e3ff00"/>
<circle cx="422.5" cy="189.5" r="2.35" fill="#f4ff00"/>
<circle cx="424.5" cy="189.5" r="2.35" fill="#f4ff00"/>
<circle cx="427.5" cy="188.5" r="2.35" fill="#f4ff00"/>
<circle cx="424.5" cy="209.5" r="2.35" fill="#e0ff00"/>
<circle cx="420.5" cy="196.5" r="2.35" fill="#edff00"/>
<circle cx="423.5" cy="195.5" r="2.35" fill="#edff00"/>
<circle cx="422.5" cy="191.5" r="2.35" fill="#f2ff00"/>
<circle cx="421.5" cy="205.5" r="2.35" fill="#e4ff00"/>
<circle cx="427.5" cy="206.5" r="2.35" fill="#e3ff00"/>
<circle cx="425.5" cy="192.5" r="2.35" fill="#f0ff00"/>
<circle cx="423.5" cy="204.5" r="2.35" fill="#e5ff00"/>
<circle cx="429.5" cy="207.5" r="2.35" fill="#e2ff00"/>
<circle cx="431.5" cy="207.5" r="2.35" fill="#e2ff00"/>
<circle cx="430.5" cy="29.5" r="2.35" fill="#ff3c00"/>
<circle cx="420.5" cy="40.5" r="2.35" fill="#ff5100"/>
<circle cx="429.5" cy="80.5" r="2.35" fill="#ff8700"/>
<circle cx="422.5" cy="94.5" r="2.35" fill="#ff9800"/>
<circle cx="427.5" cy="90.5" r="2.35" fill="#ff9300"/>
<circle cx="432.5" cy="88.5" r="2.35" fill="#ff9100"/>
<circle cx="429.5" cy="98.5" r="2.35" fill="#ff9c00"/>
<circle cx="419.5" cy="108.5" r="2.35" fill="#ffa700"/>
<circle cx="417.5" cy="113.5" r="2.35" fill="#ffad00"/>
<circle cx="417.5" cy="115.5" r="2.35" fill="#ffb100"/>
<circle cx="429.5" cy="126.5" r="2.35" fill="#ffbe00"/>
<circle cx="429.5" cy="146.5" r="2.35" fill="#ffd800"/>
<circle cx="419.5" cy="158.5" r="2.35" fill="#ffe700"/>
<circle cx="431.5" cy="158.5" r="2.35" fill="#ffe700"/>
<circle cx="422.5" cy="163.5" r="2.35" fill="#ffed00"/>
<circle cx="415.5" cy="167.5" r="2.35" fill="#fff200"/>
<circle cx="419.5" cy="168.5" r="2.35" fill="#fff300"/>
<circle cx="428.5" cy="167.5" r="2.35" fill="#fff200"/>
<circle cx="423.5" cy="171.5" r="2.35" fill="#fff800"/>
<circle cx="429.5" cy="172.5" r="2.35" fill="#fff900"/>
<circle cx="431.5" cy="174.5" r="2.35" fill="#fffb00"/>
<circle cx="432.5" cy="177.5" r="2.35" fill="#ffff00"/>
<circle cx="433.5" cy="179.5" r="2.35" fill="#fdff00"/>
<circle cx="430.5" cy="182.5" r="2.35" fill="#fbff00"/>
<circle cx="416.5" cy="179.5" r="2.35" fill="#fdff00"/>
<circle cx="424.5" cy="180.5" r="2.35" fill="#fcff00"/>
<circle cx="432.5" cy="183.5" r="2.35" fill="#f9ff00"/>
<circle cx="424.5" cy="186.5" r="2.35" fill="#f6ff00"/>
<circle cx="428.5" cy="179.5" r="2.35" fill="#fdff00"/>
<circle cx="499.5" cy="274.5" r="2.35" fill="#98ff00"/>
<circle cx="487.5" cy="279.5" r="2.35" fill="#91ff00"/>
<circle cx="486.5" cy="270.5" r="2.35" fill="#9dff00"/>
<circle cx="489.5" cy="283.5" r="2.35" fill="#8bff00"/>
<circle cx="498.5" cy="272.5" r="2.35" fill="#9bff00"/>
<circle cx="499.5" cy="278.5" r="2.35" fill="#93ff00"/>
<circle cx="493.5" cy="278.5" r="2.35" fill="#92ff00"/>
<circle cx="489.5" cy="271.5" r="2.35" fill="#9bff00"/>
<circle cx="495.5" cy="274.5" r="2.35" fill="#98ff00"/>
<circle cx="499.5" cy="269.5" r="2.35" fill="#9eff00"/>
<circle cx="487.5" cy="271.5" r="2.35" fill="#9cff00"/>
<circle cx="495.5" cy="283.5" r="2.35" fill="#8cff00"/>
<circle cx="496.5" cy="276.5" r="2.35" fill="#95ff00"/>
<circle cx="490.5" cy="272.5" r="2.35" fill="#9aff00"/>
<circle cx="485.5" cy="284.5" r="2.35" fill="#8bff00"/>
<circle cx="494.5" cy="276.5" r="2.35" fill="#96ff00"/>
<circle cx="486.5" cy="269.5" r="2.35" fill="#9eff00"/>
<circle cx="489.5" cy="281.5" r="2.35" fill="#8fff00"/>
<circle cx="493.5" cy="283.5" r="2.35" fill="#8cff00"/>
<circle cx="501.5" cy="280.5" r="2.35" fill="#90ff00"/>
<circle cx="485.5" cy="279.5" r="2.35" fill="#91ff00"/>
<circle cx="483.5" cy="280.5" r="2.35" fill="#90ff00"/>
<circle cx="493.5" cy="277.5" r="2.35" fill="#93ff00"/>
<circle cx="501.5" cy="271.5" r="2.35" fill="#9bff00"/>
<circle cx="483.5" cy="276.5" r="2.35" fill="#95ff00"/>
<circle cx="495.5" cy="275.5" r="2.35" fill="#96ff00"/>
<circle cx="483.5" cy="283.5" r="2.35" fill="#8cff00"/>
<circle cx="493.5" cy="284.5" r="2.35" fill="#8aff00"/>
<circle cx="484.5" cy="270.5" r="2.35" fill="#9dff00"/>
<circle cx="495.5" cy="279.5" r="2.35" fill="#91ff00"/>
<circle cx="489.5" cy="270.5" r="2.35" fill="#9dff00"/>
<circle cx="495.5" cy="279.5" r="2.35" fill="#91ff00"/>
<circle cx="487.5" cy="274.5" r="2.35" fill="#97ff00"/>
<circle cx="483.5" cy="274.5" r="2.35" fill="#98ff00"/>
<circle cx="486.5" cy="283.5" r="2.35" fill="#8bff00"/>
<circle cx="487.5" cy="284.5" r="2.35" fill="#8bff00"/>
<circle cx="485.5" cy="277.5" r="2.35" fill="#93ff00"/>
<circle cx="486.5" cy="283.5" r="2.35" fill="#8cff00"/>
<circle cx="493.5" cy="280.5" r="2.35" fill="#90ff00"/>
<circle cx="491.5" cy="281.5" r="2.35" fill="#8eff00"/>
<circle cx="499.5" cy="279.5" r="2.35" fill="#91ff00"/>
<circle cx="492.5" cy="277.5" r="2.35" fill="#94ff00"/>
<circle cx="493.5" cy="279.5" r="2.35" fill="#91ff00"/>
<circle cx="496.5" cy="279.5" r="2.35" fill="#91ff00"/>
<circle cx="499.5" cy="258.5" r="2.35" fill="#acff00"/>
<circle cx="494.5" cy="253.5" r="2.35" fill="#b1ff00"/>
<circle cx="483.5" cy="268.5" r="2.35" fill="#9fff00"/>
<circle cx="491.5" cy="245.5" r="2.35" fill="#bbff00"/>
<circle cx="483.5" cy="259.5" r="2.35" fill="#aaff00"/>
<circle cx="494.5" cy="247.5" r="2.35" fill="#b8ff00"/>
<circle cx="483.5" cy="269.5" r="2.35" fill="#9eff00"/>
<circle cx="493.5" cy="268.5" r="2.35" fill="#a0ff00"/>
<circle cx="485.5" cy="267.5" r="2.35" fill="#a1ff00"/>
<circle cx="499.5" cy="247.5" r="2.35" fill="#b8ff00"/>
<circle cx="484.5" cy="259.5" r="2.35" fill="#aaff00"/>
<circle cx="495.5" cy="249.5" r="2.35" fill="#b6ff00"/>
<circle cx="496.5" cy="252.5" r="2.35" fill="#b2ff00"/>
<circle cx="488.5" cy="267.5" r="2.35" fill="#a1ff00"/>
<circle cx="494.5" cy="260.5" r="2.35" fill="#a8ff00"/>
<circle cx="489.5" cy="261.5" r="2.35" fill="#a8ff00"/>
<circle cx="487.5" cy="258.5" r="2.35" fill="#abff00"/>
<circle cx="487.5" cy="251.5" r="2.35" fill="#b3ff00"/>
<circle cx="482.5" cy="267.5" r="2.35" fill="#a1ff00"/>
<circle cx="495.5" cy="246.5" r="2.35" fill="#b9ff00"/>
<circle cx="483.5" cy="258.5" r="2.35" fill="#acff00"/>
<circle cx="486.5" cy="260.5" r="2.35" fill="#a8ff00"/>
<circle cx="484.5" cy="252.5" r="2.35" fill="#b2ff00"/>
<circle cx="498.5" cy="262.5" r="2.35" fill="#a6ff00"/>
<circle cx="493.5" cy="252.5" r="2.35" fill="#b2ff00"/>
<circle cx="491.5" cy="259.5" r="2.35" fill="#aaff00"/>
<circle cx="494.5" cy="258.5" r="2.35" fill="#acff00"/>
<circle cx="498.5" cy="264.5" r="2.35" fill="#a4ff00"/>
<circle cx="494.5" cy="264.5" r="2.35" fill="#a4ff00"/>
<circle cx="492.5" cy="248.5" r="2.35" fill="#b7ff00"/>
<circle cx="488.5" cy="255.5" r="2.35" fill="#aeff00"/>
<circle cx="492.5" cy="259.5" r="2.35" fill="#aaff00"/>
<circle cx="502.5" cy="250.5" r="2.35" fill="#b4ff00"/>
<circle cx="493.5" cy="247.5" r="2.35" fill="#b8ff00"/>
<circle cx="492.5" cy="265.5" r="2.35" fill="#a3ff00"/>
<circle cx="500.5" cy="244.5" r="2.35" fill="#bbff00"/>
<circle cx="483.5" cy="269.5" r="2.35" fill="#9fff00"/>
<circle cx="483.5" cy="254.5" r="2.35" fill="#afff00"/>
<circle cx="498.5" cy="263.5" r="2.35" fill="#a6ff00"/>
<circle cx="501.5" cy="263.5" r="2.35" fill="#a5ff00"/>
<circle cx="483.5" cy="257.5" r="2.35" fill="#acff00"/>
<circle cx="482.5" cy="255.5" r="2.35" fill="#afff00"/>
<circle cx="482.5" cy="259.5" r="2.35" fill="#aaff00"/>
<circle cx="494.5" cy="252.5" r="2.35" fill="#b2ff00"/>
<circle cx="485.5" cy="218.5" r="2.35" fill="#d7ff00"/>
<circle cx="493.5" cy="241.5" r="2.35" fill="#bfff00"/>
<circle cx="495.5" cy="239.5" r="2.35" fill="#c1ff00"/>
<circle cx="482.5" cy="229.5" r="2.35" fill="#cbff00"/>
<circle cx="499.5" cy="235.5" r="2.35" fill="#c5ff00"/>
<circle cx="487.5" cy="237.5" r="2.35" fill="#c3ff00"/>
<circle cx="493.5" cy="232.5" r="2.35" fill="#c8ff00"/>
<circle cx="489.5" cy="227.5" r="2.35" fill="#ceff00"/>
<circle cx="489.5" cy="219.5" r="2.35" fill="#d5ff00"/>
<circle cx="490.5" cy="218.5" r="2.35" fill="#d7ff00"/>
<circle cx="482.5" cy="223.5" r="2.35" fill="#d2ff00"/>
<circle cx="491.5" cy="236.5" r="2.35" fill="#c4ff00"/>
<circle cx="487.5" cy="220.5" r="2.35" fill="#d4ff00"/>
<circle cx="489.5" cy="226.5" r="2.35" fill="#ceff00"/>
<circle cx="485.5" cy="241.5" r="2.35" fill="#bfff00"/>
<circle cx="489.5" cy="218.5" r="2.35" fill="#d7ff00"/>
<circle cx="496.5" cy="239.5" r="2.35" fill="#c1ff00"/>
<circle cx="502.5" cy="227.5" r="2.35" fill="#cdff00"/>
<circle cx="486.5" cy="227.5" r="2.35" fill="#ceff00"/>
<circle cx="499.5" cy="219.5" r="2.35" fill="#d5ff00"/>
<circle cx="494.5" cy="228.5" r="2.35" fill="#cdff00"/>
<circle cx="484.5" cy="216.5" r="2.35" fill="#d9ff00"/>
<circle cx="482.5" cy="243.5" r="2.35" fill="#bcff00"/>
<circle cx="500.5" cy="244.5" r="2.35" fill="#bcff00"/>
<circle cx="487.5" cy="240.5" r="2.35" fill="#c0ff00"/>
<circle cx="484.5" cy="230.5" r="2.35" fill="#caff00"/>
<circle cx="495.5" cy="234.5" r="2.35" fill="#c6ff00"/>
<circle cx="496.5" cy="243.5" r="2.35" fill="#bdff00"/>
<circle cx="500.5" cy="240.5" r="2.35" fill="#c0ff00"/>
<circle cx="492.5" cy="230.5" r="2.35" fill="#caff00"/>
<circle cx="488.5" cy="235.5" r="2.35" fill="#c5ff00"/>
<circle cx="488.5" cy="225.5" r="2.35" fill="#d0ff00"/>
<circle cx="486.5" cy="233.5" r="2.35" fill="#c7ff00"/>
<circle cx="495.5" cy="221.5" r="2.35" fill="#d4ff00"/>
<circle cx="501.5" cy="225.5" r="2.35" fill="#d0ff00"/>
<circle cx="484.5" cy="232.5" r="2.35" fill="#c8ff00"/>
<circle cx="490.5" cy="236.5" r="2.35" fill="#c4ff00"/>
<circle cx="489.5" cy="240.5" r="2.35" fill="#c0ff00"/>
<circle cx="484.5" cy="238.5" r="2.35" fill="#c2ff00"/>
<circle cx="494.5" cy="236.5" r="2.35" fill="#c4ff00"/>
<circle cx="502.5" cy="236.5" r="2.35" fill="#c4ff00"/>
<circle cx="488.5" cy="240.5" r="2.35" fill="#bfff00"/>
<circle cx="497.5" cy="233.5" r="2.35" fill="#c7ff00"/>
<circle cx="500.5" cy="242.5" r="2.35" fill="#bdff00"/>
<circle cx="487.5" cy="203.5" r="2.35" fill="#e6ff00"/>
<circle cx="500.5" cy="208.5" r="2.35" fill="#e1ff00"/>
<circle cx="497.5" cy="214.5" r="2.35" fill="#daff00"/>
<circle cx="495.5" cy="212.5" r="2.35" fill="#ddff00"/>
<circle cx="486.5" cy="212.5" r="2.35" fill="#dcff00"/>
<circle cx="488.5" cy="214.5" r="2.35" fill="#dbff00"/>
<circle cx="484.5" cy="209.5" r="2.35" fill="#e0ff00"/>
<circle cx="500.5" cy="213.5" r="2.35" fill="#dcff00"/>
<circle cx="498.5" cy="214.5" r="2.35" fill="#dbff00"/>
<circle cx="484.5" cy="206.5" r="2.35" fill="#e3ff00"/>
<circle cx="493.5" cy="210.5" r="2.35" fill="#dfff00"/>
<circle cx="486.5" cy="206.5" r="2.35" fill="#e3ff00"/>
<circle cx="497.5" cy="210.5" r="2.35" fill="#dfff00"/>
<circle cx="493.5" cy="209.5" r="2.35" fill="#e0ff00"/>
<circle cx="501.5" cy="212.5" r="2.35" fill="#ddff00"/>
<circle cx="497.5" cy="210.5" r="2.35" fill="#dfff00"/>
<circle cx="484.5" cy="209.5" r="2.35" fill="#e0ff00"/>
<circle cx="489.5" cy="211.5" r="2.35" fill="#deff00"/>
<circle cx="500.5" cy="14.5" r="2.35" fill="#ff0000"/>
<circle cx="492.5" cy="103.5" r="2.35" fill="#ffa100"/>
<circle cx="486.5" cy="120.5" r="2.35" fill="#ffb700"/>
<circle cx="488.5" cy="120.5" r="2.35" fill="#ffb600"/>
<circle cx="486.5" cy="127.5" r="2.35" fill="#ffbf00"/>
<circle cx="482.5" cy="129.5" r="2.35" fill="#ffc200"/>
<circle cx="496.5" cy="127.5" r="2.35" fill="#ffbf00"/>
<circle cx="495.5" cy="138.5" r="2.35" fill="#ffce00"/>
<circle cx="498.5" cy="140.5" r="2.35" fill="#ffd000"/>
<circle cx="500.5" cy="142.5" r="2.35" fill="#ffd300"/>
<circle cx="502.5" cy="143.5" r="2.35" fill="#ffd400"/>
<circle cx="489.5" cy="152.5" r="2.35" fill="#ffdf00"/>
<circle cx="499.5" cy="150.5" r="2.35" fill="#ffdd00"/>
<circle cx="499.5" cy="158.5" r="2.35" fill="#ffe700"/>
<circle cx="487.5" cy="163.5" r="2.35" fill="#ffed00"/>
<circle cx="493.5" cy="165.5" r="2.35" fill="#fff000"/>
<circle cx="500.5" cy="166.5" r="2.35" fill="#fff100"/>
<circle cx="492.5" cy="170.5" r="2.35" fill="#fff600"/>
<circle cx="483.5" cy="172.5" r="2.35" fill="#fff900"/>
<circle cx="486.5" cy="175.5" r="2.35" fill="#fffc00"/>
<circle cx="489.5" cy="178.5" r="2.35" fill="#feff00"/>
<circle cx="485.5" cy="189.5" r="2.35" fill="#f4ff00"/>
<circle cx="488.5" cy="191.5" r="2.35" fill="#f1ff00"/>
<circle cx="496.5" cy="186.5" r="2.35" fill="#f7ff00"/>
<circle cx="495.5" cy="196.5" r="2.35" fill="#ecff00"/>
<circle cx="490.5" cy="200.5" r="2.35" fill="#e9ff00"/>
<circle cx="557.5" cy="275.5" r="2.35" fill="#97ff00"/>
<circle cx="552.5" cy="270.5" r="2.35" fill="#9dff00"/>
<circle cx="568.5" cy="278.5" r="2.35" fill="#92ff00"/>
<circle cx="561.5" cy="282.5" r="2.35" fill="#8dff00"/>
<circle cx="563.5" cy="280.5" r="2.35" fill="#90ff00"/>
<circle cx="569.5" cy="281.5" r="2.35" fill="#8fff00"/>
<circle cx="561.5" cy="283.5" r="2.35" fill="#8cff00"/>
<circle cx="557.5" cy="279.5" r="2.35" fill="#91ff00"/>
<circle cx="562.5" cy="281.5" r="2.35" fill="#8fff00"/>
<circle cx="561.5" cy="276.5" r="2.35" fill="#95ff00"/>
<circle cx="557.5" cy="270.5" r="2.35" fill="#9cff00"/>
<circle cx="556.5" cy="269.5" r="2.35" fill="#9dff00"/>
<circle cx="558.5" cy="282.5" r="2.35" fill="#8cff00"/>
<circle cx="566.5" cy="275.5" r="2.35" fill="#96ff00"/>
<circle cx="554.5" cy="273.5" r="2.35" fill="#98ff00"/>
<circle cx="571.5" cy="283.5" r="2.35" fill="#8cff00"/>
<circle cx="556.5" cy="276.5" r="2.35" fill="#96ff00"/>
<circle cx="556.5" cy="282.5" r="2.35" fill="#8eff00"/>
<circle cx="553.5" cy="278.5" r="2.35" fill="#92ff00"/>
<circle cx="559.5" cy="279.5" r="2.35" fill="#91ff00"/>
<circle cx="558.5" cy="271.5" r="2.35" fill="#9bff00"/>
<circle cx="565.5" cy="281.5" r="2.35" fill="#8fff00"/>
<circle cx="569.5" cy="275.5" r="2.35" fill="#96ff00"/>
<circle cx="556.5" cy="275.5" r="2.35" fill="#97ff00"/>
<circle cx="567.5" cy="279.5" r="2.35" fill="#91ff00"/>
<circle cx="557.5" cy="270.5" r="2.35" fill="#9dff00"/>
<circle cx="559.5" cy="279.5" r="2.35" fill="#91ff00"/>
<circle cx="554.5" cy="279.5" r="2.35" fill="#91ff00"/>
<circle cx="569.5" cy="273.5" r="2.35" fill="#99ff00"/>
<circle cx="558.5" cy="276.5" r="2.35" fill="#95ff00"/>
<circle cx="565.5" cy="273.5" r="2.35" fill="#99ff00"/>
<circle cx="552.5" cy="283.5" r="2.35" fill="#8cff00"/>
<circle cx="565.5" cy="283.5" r="2.35" fill="#8cff00"/>
<circle cx="556.5" cy="272.5" r="2.35" fill="#9aff00"/>
<circle cx="560.5" cy="278.5" r="2.35" fill="#92ff00"/>
<circle cx="564.5" cy="271.5" r="2.35" fill="#9cff00"/>
<circle cx="554.5" cy="281.5" r="2.35" fill="#8fff00"/>
<circle cx="562.5" cy="281.5" r="2.35" fill="#8fff00"/>
<circle cx="568.5" cy="271.5" r="2.35" fill="#9cff00"/>
<circle cx="554.5" cy="278.5" r="2.35" fill="#92ff00"/>
<circle cx="560.5" cy="284.5" r="2.35" fill="#8bff00"/>
<circle cx="555.5" cy="281.5" r="2.35" fill="#8eff00"/>
<circle cx="554.5" cy="272.5" r="2.35" fill="#9aff00"/>
<circle cx="561.5" cy="280.5" r="2.35" fill="#8fff00"/>
<circle cx="560.5" cy="275.5" r="2.35" fill="#96ff00"/>
<circle cx="564.5" cy="271.5" r="2.35" fill="#9bff00"/>
<circle cx="568.5" cy="274.5" r="2.35" fill="#97ff00"/>
<circle cx="565.5" cy="272.5" r="2.35" fill="#9aff00"/>
<circle cx="558.5" cy="269.5" r="2.35" fill="#9eff00"/>
<circle cx="561.5" cy="280.5" r="2.35" fill="#90ff00"/>
<circle cx="564.5" cy="271.5" r="2.35" fill="#9cff00"/>
<circle cx="568.5" cy="275.5" r="2.35" fill="#96ff00"/>
<circle cx="565.5" cy="282.5" r="2.35" fill="#8eff00"/>
<circle cx="561.5" cy="283.5" r="2.35" fill="#8bff00"/>
<circle cx="554.5" cy="279.5" r="2.35" fill="#91ff00"/>
<circle cx="568.5" cy="283.5" r="2.35" fill="#8cff00"/>
<circle cx="557.5" cy="272.5" r="2.35" fill="#9aff00"/>
<circle cx="559.5" cy="275.5" r="2.35" fill="#96ff00"/>
<circle cx="569.5" cy="285.5" r="2.35" fill="#88ff00"/>
<circle cx="555.5" cy="270.5" r="2.35" fill="#9cff00"/>
<circle cx="569.5" cy="275.5" r="2.35" fill="#97ff00"/>
<circle cx="556.5" cy="277.5" r="2.35" fill="#94ff00"/>
<circle cx="553.5" cy="283.5" r="2.35" fill="#8cff00"/>
<circle cx="561.5" cy="277.5" r="2.35" fill="#94ff00"/>
<circle cx="567.5" cy="270.5" r="2.35" fill="#9dff00"/>
<circle cx="559.5" cy="275.5" r="2.35" fill="#97ff00"/>
<circle cx="568.5" cy="277.5" r="2.35" fill="#94ff00"/>
<circle cx="559.5" cy="274.5" r="2.35" fill="#97ff00"/>
<circle cx="567.5" cy="275.5" r="2.35" fill="#96ff00"/>
<circle cx="553.5" cy="274.5" r="2.35" fill="#97ff00"/>
<circle cx="557.5" cy="282.5" r="2.35" fill="#8eff00"/>
<circle cx="553.5" cy="283.5" r="2.35" fill="#8cff00"/>
<circle cx="566.5" cy="286.5" r="2.35" fill="#87ff00"/>
<circle cx="560.5" cy="271.5" r="2.35" fill="#9bff00"/>
<circle cx="564.5" cy="269.5" r="2.35" fill="#9eff00"/>
<circle cx="556.5" cy="264.5" r="2.35" fill="#a4ff00"/>
<circle cx="566.5" cy="259.5" r="2.35" fill="#abff00"/>
<circle cx="571.5" cy="260.5" r="2.35" fill="#a9ff00"/>
<circle cx="553.5" cy="253.5" r="2.35" fill="#b2ff00"/>
<circle cx="557.5" cy="265.5" r="2.35" fill="#a3ff00"/>
<circle cx="568.5" cy="267.5" r="2.35" fill="#a1ff00"/>
<circle cx="568.5" cy="266.5" r="2.35" fill="#a2ff00"/>
<circle cx="568.5" cy="260.5" r="2.35" fill="#a9ff00"/>
<circle cx="556.5" cy="264.5" r="2.35" fill="#a4ff00"/>
<circle cx="562.5" cy="261.5" r="2.35" fill="#a8ff00"/>
<circle cx="553.5" cy="257.5" r="2.35" fill="#adff00"/>
<circle cx="560.5" cy="263.5" r="2.35" fill="#a5ff00"/>
<circle cx="563.5" cy="257.5" r="2.35" fill="#acff00"/>
<circle cx="556.5" cy="269.5" r="2.35" fill="#9fff00"/>
<circle cx="559.5" cy="259.5" r="2.35" fill="#aaff00"/>
<circle cx="558.5" cy="252.5" r="2.35" fill="#b2ff00"/>
<circle cx="553.5" cy="252.5" r="2.35" fill="#b2ff00"/>
<circle cx="552.5" cy="259.5" r="2.35" fill="#aaff00"/>
<circle cx="567.5" cy="251.5" r="2.35" fill="#b3ff00"/>
<circle cx="551.5" cy="265.5" r="2.35" fill="#a3ff00"/>
<circle cx="571.5" cy="264.5" r="2.35" fill="#a4ff00"/>
<circle cx="569.5" cy="261.5" r="2.35" fill="#a8ff00"/>
<circle cx="571.5" cy="260.5" r="2.35" fill="#a9ff00"/>
<circle cx="567.5" cy="254.5" r="2.35" fill="#b0ff00"/>
<circle cx="551.5" cy="261.5" r="2.35" fill="#a8ff00"/>
<circle cx="553.5" cy="268.5" r="2.35" fill="#9fff00"/>
<circle cx="557.5" cy="257.5" r="2.35" fill="#adff00"/>
<circle cx="555.5" cy="265.5" r="2.35" fill="#a3ff00"/>
<circle cx="552.5" cy="253.5" r="2.35" fill="#b1ff00"/>
<circle cx="569.5" cy="265.5" r="2.35" fill="#a3ff00"/>
<circle cx="569.5" cy="264.5" r="2.35" fill="#a4ff00"/>
<circle cx="566.5" cy="266.5" r="2.35" fill="#a1ff00"/>
<circle cx="556.5" cy="264.5" r="2.35" fill="#a5ff00"/>
<circle cx="568.5" cy="258.5" r="2.35" fill="#abff00"/>
<circle cx="567.5" cy="264.5" r="2.35" fill="#a4ff00"/>
<circle cx="557.5" cy="268.5" r="2.35" fill="#9fff00"/>
<circle cx="554.5" cy="259.5" r="2.35" fill="#abff00"/>
<circle cx="554.5" cy="256.5" r="2.35" fill="#aeff00"/>
<circle cx="559.5" cy="267.5" r="2.35" fill="#a0ff00"/>
<circle cx="568.5" cy="261.5" r="2.35" fill="#a7ff00"/>
<circle cx="553.5" cy="268.5" r="2.35" fill="#a0ff00"/>
<circle cx="560.5" cy="269.5" r="2.35" fill="#9eff00"/>
<circle cx="558.5" cy="262.5" r="2.35" fill="#a6ff00"/>
<circle cx="569.5" cy="264.5" r="2.35" fill="#a4ff00"/>
<circle cx="554.5" cy="253.5" r="2.35" fill="#b1ff00"/>
<circle cx="564.5" cy="269.5" r="2.35" fill="#9eff00"/>
<circle cx="557.5" cy="258.5" r="2.35" fill="#acff00"/>
<circle cx="564.5" cy="256.5" r="2.35" fill="#aeff00"/>
<circle cx="567.5" cy="262.5" r="2.35" fill="#a7ff00"/>
<circle cx="567.5" cy="260.5" r="2.35" fill="#a9ff00"/>
<circle cx="568.5" cy="265.5" r="2.35" fill="#a3ff00"/>
<circle cx="557.5" cy="264.5" r="2.35" fill="#a4ff00"/>
<circle cx="557.5" cy="268.5" r="2.35" fill="#9fff00"/>
<circle cx="553.5" cy="253.5" r="2.35" fill="#b2ff00"/>
<circle cx="556.5" cy="268.5" r="2.35" fill="#9fff00"/>
<circle cx="553.5" cy="266.5" r="2.35" fill="#a1ff00"/>
<circle cx="567.5" cy="256.5" r="2.35" fill="#aeff00"/>
<circle cx="552.5" cy="261.5" r="2.35" fill="#a8ff00"/>
<circle cx="555.5" cy="260.5" r="2.35" fill="#a9ff00"/>
<circle cx="567.5" cy="264.5" r="2.35" fill="#a4ff00"/>
<circle cx="566.5" cy="266.5" r="2.35" fill="#a2ff00"/>
<circle cx="570.5" cy="255.5" r="2.35" fill="#afff00"/>
<circle cx="559.5" cy="267.5" r="2.35" fill="#a1ff00"/>
<circle cx="552.5" cy="264.5" r="2.35" fill="#a4ff00"/>
<circle cx="567.5" cy="256.5" r="2.35" fill="#aeff00"/>
<circle cx="557.5" cy="264.5" r="2.35" fill="#a4ff00"/>
<circle cx="566.5" cy="252.5" r="2.35" fill="#b3ff00"/>
<circle cx="551.5" cy="266.5" r="2.35" fill="#a2ff00"/>
<circle cx="552.5" cy="260.5" r="2.35" fill="#a9ff00"/>
<circle cx="563.5" cy="259.5" r="2.35" fill="#aaff00"/>
<circle cx="565.5" cy="260.5" r="2.35" fill="#a9ff00"/>
<circle cx="562.5" cy="255.5" r="2.35" fill="#afff00"/>
<circle cx="562.5" cy="268.5" r="2.35" fill="#9fff00"/>
<circle cx="563.5" cy="238.5" r="2.35" fill="#c1ff00"/>
<circle cx="554.5" cy="232.5" r="2.35" fill="#c8ff00"/>
<circle cx="552.5" cy="250.5" r="2.35" fill="#b5ff00"/>
<circle cx="558.5" cy="238.5" r="2.35" fill="#c1ff00"/>
<circle cx="562.5" cy="241.5" r="2.35" fill="#beff00"/>
<circle cx="556.5" cy="242.5" r="2.35" fill="#beff00"/>
<circle cx="555.5" cy="239.5" r="2.35" fill="#c1ff00"/>
<circle cx="560.5" cy="236.5" r="2.35" fill="#c3ff00"/>
<circle cx="559.5" cy="234.5" r="2.35" fill="#c6ff00"/>
<circle cx="556.5" cy="229.5" r="2.35" fill="#ccff00"/>
<circle cx="570.5" cy="236.5" r="2.35" fill="#c4ff00"/>
<circle cx="570.5" cy="225.5" r="2.35" fill="#cfff00"/>
<circle cx="552.5" cy="235.5" r="2.35" fill="#c5ff00"/>
<circle cx="561.5" cy="245.5" r="2.35" fill="#baff00"/>
<circle cx="556.5" cy="248.5" r="2.35" fill="#b7ff00"/>
<circle cx="558.5" cy="249.5" r="2.35" fill="#b5ff00"/>
<circle cx="552.5" cy="245.5" r="2.35" fill="#baff00"/>
<circle cx="553.5" cy="248.5" r="2.35" fill="#b7ff00"/>
<circle cx="552.5" cy="235.5" r="2.35" fill="#c5ff00"/>
<circle cx="554.5" cy="235.5" r="2.35" fill="#c5ff00"/>
<circle cx="564.5" cy="237.5" r="2.35" fill="#c3ff00"/>
<circle cx="553.5" cy="242.5" r="2.35" fill="#bdff00"/>
<circle cx="569.5" cy="240.5" r="2.35" fill="#bfff00"/>
<circle cx="567.5" cy="245.5" r="2.35" fill="#baff00"/>
<circle cx="556.5" cy="228.5" r="2.35" fill="#cdff00"/>
<circle cx="565.5" cy="250.5" r="2.35" fill="#b4ff00"/>
<circle cx="570.5" cy="244.5" r="2.35" fill="#bbff00"/>
<circle cx="553.5" cy="238.5" r="2.35" fill="#c2ff00"/>
<circle cx="562.5" cy="247.5" r="2.35" fill="#b8ff00"/>
<circle cx="560.5" cy="230.5" r="2.35" fill="#caff00"/>
<circle cx="557.5" cy="240.5" r="2.35" fill="#c0ff00"/>
<circle cx="557.5" cy="243.5" r="2.35" fill="#bdff00"/>
<circle cx="553.5" cy="249.5" r="2.35" fill="#b5ff00"/>
<circle cx="564.5" cy="245.5" r="2.35" fill="#baff00"/>
<circle cx="555.5" cy="237.5" r="2.35" fill="#c3ff00"/>
<circle cx="559.5" cy="245.5" r="2.35" fill="#baff00"/>
<circle cx="570.5" cy="250.5" r="2.35" fill="#b5ff00"/>
<circle cx="558.5" cy="238.5" r="2.35" fill="#c2ff00"/>
<circle cx="557.5" cy="244.5" r="2.35" fill="#bbff00"/>
<circle cx="570.5" cy="230.5" r="2.35" fill="#caff00"/>
<circle cx="563.5" cy="235.5" r="2.35" fill="#c5ff00"/>
<circle cx="562.5" cy="234.5" r="2.35" fill="#c6ff00"/>
<circle cx="555.5" cy="229.5" r="2.35" fill="#ccff00"/>
<circle cx="564.5" cy="231.5" r="2.35" fill="#c9ff00"/>
<circle cx="559.5" cy="244.5" r="2.35" fill="#bcff00"/>
<circle cx="562.5" cy="238.5" r="2.35" fill="#c2ff00"/>
<circle cx="559.5" cy="245.5" r="2.35" fill="#baff00"/>
<circle cx="553.5" cy="246.5" r="2.35" fill="#b9ff00"/>
<circle cx="569.5" cy="246.5" r="2.35" fill="#b9ff00"/>
<circle cx="565.5" cy="248.5" r="2.35" fill="#b6ff00"/>
<circle cx="570.5" cy="246.5" r="2.35" fill="#b9ff00"/>
<circle cx="557.5" cy="246.5" r="2.35" fill="#b9ff00"/>
<circle cx="557.5" cy="235.5" r="2.35" fill="#c5ff00"/>
<circle cx="554.5" cy="245.5" r="2.35" fill="#baff00"/>
<circle cx="557.5" cy="250.5" r="2.35" fill="#b5ff00"/>
<circle cx="558.5" cy="242.5" r="2.35" fill="#beff00"/>
<circle cx="555.5" cy="246.5" r="2.35" fill="#b9ff00"/>
<circle cx="556.5" cy="235.5" r="2.35" fill="#c5ff00"/>
<circle cx="557.5" cy="246.5" r="2.35" fill="#b9ff00"/>
<circle cx="568.5" cy="238.5" r="2.35" fill="#c2ff00"/>
<circle cx="560.5" cy="247.5" r="2.35" fill="#b8ff00"/>
<circle cx="567.5" cy="240.5" r="2.35" fill="#c0ff00"/>
<circle cx="552.5" cy="230.5" r="2.35" fill="#cbff00"/>
<circle cx="555.5" cy="244.5" r="2.35" fill="#bbff00"/>
<circle cx="570.5" cy="239.5" r="2.35" fill="#c1ff00"/>
<circle cx="552.5" cy="241.5" r="2.35" fill="#beff00"/>
<circle cx="552.5" cy="249.5" r="2.35" fill="#b5ff00"/>
<circle cx="561.5" cy="250.5" r="2.35" fill="#b4ff00"/>
<circle cx="557.5" cy="230.5" r="2.35" fill="#caff00"/>
<circle cx="555.5" cy="243.5" r="2.35" fill="#bcff00"/>
<circle cx="563.5" cy="235.5" r="2.35" fill="#c5ff00"/>
<circle cx="563.5" cy="242.5" r="2.35" fill="#beff00"/>
<circle cx="555.5" cy="230.5" r="2.35" fill="#caff00"/>
<circle cx="562.5" cy="247.5" r="2.35" fill="#b8ff00"/>
<circle cx="560.5" cy="214.5" r="2.35" fill="#dbff00"/>
<circle cx="568.5" cy="212.5" r="2.35" fill="#ddff00"/>
<circle cx="552.5" cy="203.5" r="2.35" fill="#e6ff00"/>
<circle cx="556.5" cy="225.5" r="2.35" fill="#d0ff00"/>
<circle cx="562.5" cy="217.5" r="2.35" fill="#d7ff00"/>
<circle cx="552.5" cy="214.5" r="2.35" fill="#dbff00"/>
<circle cx="568.5" cy="211.5" r="2.35" fill="#deff00"/>
<circle cx="570.5" cy="223.5" r="2.35" fill="#d2ff00"/>
<circle cx="558.5" cy="212.5" r="2.35" fill="#ddff00"/>
<circle cx="566.5" cy="207.5" r="2.35" fill="#e2ff00"/>
<circle cx="556.5" cy="206.5" r="2.35" fill="#e3ff00"/>
<circle cx="570.5" cy="221.5" r="2.35" fill="#d4ff00"/>
<circle cx="555.5" cy="215.5" r="2.35" fill="#daff00"/>
<circle cx="551.5" cy="219.5" r="2.35" fill="#d6ff00"/>
<circle cx="552.5" cy="217.5" r="2.35" fill="#d8ff00"/>
<circle cx="560.5" cy="217.5" r="2.35" fill="#d7ff00"/>
<circle cx="552.5" cy="195.5" r="2.35" fill="#eeff00"/>
<circle cx="571.5" cy="225.5" r="2.35" fill="#d0ff00"/>
<circle cx="564.5" cy="194.5" r="2.35" fill="#eeff00"/>
<circle cx="562.5" cy="225.5" r="2.35" fill="#d0ff00"/>
<circle cx="564.5" cy="224.5" r="2.35" fill="#d1ff00"/>
<circle cx="559.5" cy="221.5" r="2.35" fill="#d4ff00"/>
<circle cx="569.5" cy="219.5" r="2.35" fill="#d6ff00"/>
<circle cx="565.5" cy="200.5" r="2.35" fill="#e9ff00"/>
<circle cx="560.5" cy="201.5" r="2.35" fill="#e8ff00"/>
<circle cx="557.5" cy="195.5" r="2.35" fill="#edff00"/>
<circle cx="554.5" cy="217.5" r="2.35" fill="#d8ff00"/>
<circle cx="557.5" cy="225.5" r="2.35" fill="#d0ff00"/>
<circle cx="558.5" cy="210.5" r="2.35" fill="#dfff00"/>
<circle cx="553.5" cy="198.5" r="2.35" fill="#ebff00"/>
<circle cx="569.5" cy="223.5" r="2.35" fill="#d2ff00"/>
<circle cx="556.5" cy="202.5" r="2.35" fill="#e7ff00"/>
<circle cx="562.5" cy="225.5" r="2.35" fill="#cfff00"/>
<circle cx="552.5" cy="206.5" r="2.35" fill="#e3ff00"/>
<circle cx="562.5" cy="214.5" r="2.35" fill="#dbff00"/>
<circle cx="564.5" cy="197.5" r="2.35" fill="#ecff00"/>
<circle cx="553.5" cy="199.5" r="2.35" fill="#eaff00"/>
<circle cx="571.5" cy="224.5" r="2.35" fill="#d0ff00"/>
<circle cx="554.5" cy="214.5" r="2.35" fill="#dbff00"/>
<circle cx="556.5" cy="220.5" r="2.35" fill="#d5ff00"/>
<circle cx="566.5" cy="215.5" r="2.35" fill="#daff00"/>
<circle cx="558.5" cy="224.5" r="2.35" fill="#d1ff00"/>
<circle cx="569.5" cy="217.5" r="2.35" fill="#d7ff00"/>
<circle cx="556.5" cy="216.5" r="2.35" fill="#d9ff00"/>
<circle cx="557.5" cy="225.5" r="2.35" fill="#cfff00"/>
<circle cx="565.5" cy="214.5" r="2.35" fill="#dbff00"/>
<circle cx="568.5" cy="198.5" r="2.35" fill="#ebff00"/>
<circle cx="569.5" cy="224.5" r="2.35" fill="#d1ff00"/>
<circle cx="557.5" cy="195.5" r="2.35" fill="#eeff00"/>
<circle cx="562.5" cy="214.5" r="2.35" fill="#dbff00"/>
<circle cx="559.5" cy="221.5" r="2.35" fill="#d4ff00"/>
<circle cx="565.5" cy="193.5" r="2.35" fill="#f0ff00"/>
<circle cx="556.5" cy="214.5" r="2.35" fill="#daff00"/>
<circle cx="568.5" cy="215.5" r="2.35" fill="#d9ff00"/>
<circle cx="565.5" cy="217.5" r="2.35" fill="#d8ff00"/>
<circle cx="554.5" cy="199.5" r="2.35" fill="#eaff00"/>
<circle cx="557.5" cy="223.5" r="2.35" fill="#d2ff00"/>
<circle cx="558.5" cy="221.5" r="2.35" fill="#d4ff00"/>
<circle cx="564.5" cy="54.5" r="2.35" fill="#ff6600"/>
<circle cx="553.5" cy="73.5" r="2.35" fill="#ff7f00"/>
<circle cx="566.5" cy="80.5" r="2.35" fill="#ff8700"/>
<circle cx="562.5" cy="86.5" r="2.35" fill="#ff8e00"/>
<circle cx="549.5" cy="104.5" r="2.35" fill="#ffa200"/>
<circle cx="565.5" cy="109.5" r="2.35" fill="#ffa800"/>
<circle cx="569.5" cy="112.5" r="2.35" fill="#ffac00"/>
<circle cx="564.5" cy="119.5" r="2.35" fill="#ffb600"/>
<circle cx="566.5" cy="138.5" r="2.35" fill="#ffce00"/>
<circle cx="555.5" cy="155.5" r="2.35" fill="#ffe300"/>
<circle cx="565.5" cy="155.5" r="2.35" fill="#ffe300"/>
<circle cx="552.5" cy="161.5" r="2.35" fill="#ffeb00"/>
<circle cx="558.5" cy="160.5" r="2.35" fill="#ffea00"/>
<circle cx="560.5" cy="163.5" r="2.35" fill="#ffed00"/>
<circle cx="565.5" cy="164.5" r="2.35" fill="#ffee00"/>
<circle cx="559.5" cy="167.5" r="2.35" fill="#fff200"/>
<circle cx="551.5" cy="177.5" r="2.35" fill="#ffff00"/>
<circle cx="567.5" cy="182.5" r="2.35" fill="#fbff00"/>
<circle cx="619.5" cy="273.5" r="2.35" fill="#98ff00"/>
<circle cx="622.5" cy="279.5" r="2.35" fill="#91ff00"/>
<circle cx="625.5" cy="277.5" r="2.35" fill="#94ff00"/>
<circle cx="620.5" cy="273.5" r="2.35" fill="#98ff00"/>
<circle cx="622.5" cy="280.5" r="2.35" fill="#90ff00"/>
<circle cx="627.5" cy="273.5" r="2.35" fill="#99ff00"/>
<circle cx="635.5" cy="281.5" r="2.35" fill="#8eff00"/>
<circle cx="636.5" cy="287.5" r="2.35" fill="#86ff00"/>
<circle cx="626.5" cy="285.5" r="2.35" fill="#89ff00"/>
<circle cx="621.5" cy="276.5" r="2.35" fill="#95ff00"/>
<circle cx="624.5" cy="280.5" r="2.35" fill="#90ff00"/>
<circle cx="632.5" cy="274.5" r="2.35" fill="#97ff00"/>
<circle cx="626.5" cy="278.5" r="2.35" fill="#93ff00"/>
<circle cx="630.5" cy="276.5" r="2.35" fill="#95ff00"/>
<circle cx="633.5" cy="280.5" r="2.35" fill="#8fff00"/>
<circle cx="631.5" cy="277.5" r="2.35" fill="#94ff00"/>
<circle cx="635.5" cy="276.5" r="2.35" fill="#95ff00"/>
<circle cx="620.5" cy="280.5" r="2.35" fill="#90ff00"/>
<circle cx="624.5" cy="278.5" r="2.35" fill="#92ff00"/>
<circle cx="619.5" cy="274.5" r="2.35" fill="#97ff00"/>
<circle cx="629.5" cy="273.5" r="2.35" fill="#98ff00"/>
<circle cx="631.5" cy="280.5" r="2.35" fill="#8fff00"/>
<circle cx="623.5" cy="286.5" r="2.35" fill="#88ff00"/>
<circle cx="619.5" cy="274.5" r="2.35" fill="#97ff00"/>
<circle cx="628.5" cy="279.5" r="2.35" fill="#91ff00"/>
<circle cx="622.5" cy="273.5" r="2.35" fill="#99ff00"/>
<circle cx="622.5" cy="275.5" r="2.35" fill="#96ff00"/>
<circle cx="626.5" cy="280.5" r="2.35" fill="#8fff00"/>
<circle cx="637.5" cy="274.5" r="2.35" fill="#97ff00"/>
<circle cx="626.5" cy="278.5" r="2.35" fill="#93ff00"/>
<circle cx="632.5" cy="276.5" r="2.35" fill="#96ff00"/>
<circle cx="626.5" cy="274.5" r="2.35" fill="#98ff00"/>
<circle cx="626.5" cy="267.5" r="2.35" fill="#a1ff00"/>
<circle cx="621.5" cy="263.5" r="2.35" fill="#a5ff00"/>
<circle cx="622.5" cy="269.5" r="2.35" fill="#9eff00"/>
<circle cx="634.5" cy="269.5" r="2.35" fill="#9eff00"/>
<circle cx="627.5" cy="266.5" r="2.35" fill="#a1ff00"/>
<circle cx="624.5" cy="268.5" r="2.35" fill="#9fff00"/>
<circle cx="638.5" cy="266.5" r="2.35" fill="#a2ff00"/>
<circle cx="636.5" cy="267.5" r="2.35" fill="#a0ff00"/>
<circle cx="624.5" cy="265.5" r="2.35" fill="#a3ff00"/>
<circle cx="627.5" cy="264.5" r="2.35" fill="#a4ff00"/>
<circle cx="630.5" cy="267.5" r="2.35" fill="#a0ff00"/>
<circle cx="622.5" cy="264.5" r="2.35" fill="#a5ff00"/>
<circle cx="627.5" cy="265.5" r="2.35" fill="#a3ff00"/>
<circle cx="624.5" cy="264.5" r="2.35" fill="#a4ff00"/>
<circle cx="635.5" cy="272.5" r="2.35" fill="#9aff00"/>
<circle cx="620.5" cy="273.5" r="2.35" fill="#9aff00"/>
<circle cx="638.5" cy="266.5" r="2.35" fill="#a1ff00"/>
<circle cx="623.5" cy="269.5" r="2.35" fill="#9eff00"/>
<circle cx="625.5" cy="264.5" r="2.35" fill="#a4ff00"/>
<circle cx="620.5" cy="269.5" r="2.35" fill="#9eff00"/>
<circle cx="637.5" cy="265.5" r="2.35" fill="#a3ff00"/>
<circle cx="635.5" cy="270.5" r="2.35" fill="#9dff00"/>
<circle cx="620.5" cy="266.5" r="2.35" fill="#a1ff00"/>
<circle cx="629.5" cy="264.5" r="2.35" fill="#a4ff00"/>
<circle cx="626.5" cy="264.5" r="2.35" fill="#a4ff00"/>
<circle cx="630.5" cy="269.5" r="2.35" fill="#9eff00"/>
<circle cx="625.5" cy="268.5" r="2.35" fill="#9fff00"/>
<circle cx="637.5" cy="267.5" r="2.35" fill="#a0ff00"/>
<circle cx="623.5" cy="269.5" r="2.35" fill="#9eff00"/>
<circle cx="635.5" cy="268.5" r="2.35" fill="#a0ff00"/>
<circle cx="624.5" cy="263.5" r="2.35" fill="#a5ff00"/>
<circle cx="631.5" cy="264.5" r="2.35" fill="#a4ff00"/>
<circle cx="627.5" cy="258.5" r="2.35" fill="#abff00"/>
<circle cx="629.5" cy="251.5" r="2.35" fill="#b4ff00"/>
<circle cx="629.5" cy="243.5" r="2.35" fill="#bdff00"/>
<circle cx="631.5" cy="257.5" r="2.35" fill="#acff00"/>
<circle cx="620.5" cy="246.5" r="2.35" fill="#b9ff00"/>
<circle cx="619.5" cy="248.5" r="2.35" fill="#b7ff00"/>
<circle cx="638.5" cy="245.5" r="2.35" fill="#baff00"/>
<circle cx="623.5" cy="261.5" r="2.35" fill="#a7ff00"/>
<circle cx="625.5" cy="244.5" r="2.35" fill="#bcff00"/>
<circle cx="623.5" cy="241.5" r="2.35" fill="#beff00"/>
<circle cx="631.5" cy="259.5" r="2.35" fill="#aaff00"/>
<circle cx="638.5" cy="252.5" r="2.35" fill="#b2ff00"/>
<circle cx="626.5" cy="261.5" r="2.35" fill="#a7ff00"/>
<circle cx="625.5" cy="253.5" r="2.35" fill="#b2ff00"/>
<circle cx="625.5" cy="250.5" r="2.35" fill="#b4ff00"/>
<circle cx="619.5" cy="249.5" r="2.35" fill="#b5ff00"/>
<circle cx="620.5" cy="246.5" r="2.35" fill="#b9ff00"/>
<circle cx="619.5" cy="258.5" r="2.35" fill="#abff00"/>
<circle cx="625.5" cy="261.5" r="2.35" fill="#a8ff00"/>
<circle cx="638.5" cy="247.5" r="2.35" fill="#b8ff00"/>
<circle cx="621.5" cy="262.5" r="2.35" fill="#a6ff00"/>
<circle cx="629.5" cy="259.5" r="2.35" fill="#aaff00"/>
<circle cx="622.5" cy="259.5" r="2.35" fill="#aaff00"/>
<circle cx="619.5" cy="248.5" r="2.35" fill="#b6ff00"/>
<circle cx="635.5" cy="256.5" r="2.35" fill="#aeff00"/>
<circle cx="621.5" cy="247.5" r="2.35" fill="#b8ff00"/>
<circle cx="621.5" cy="251.5" r="2.35" fill="#b3ff00"/>
<circle cx="635.5" cy="247.5" r="2.35" fill="#b8ff00"/>
<circle cx="623.5" cy="248.5" r="2.35" fill="#b7ff00"/>
<circle cx="622.5" cy="245.5" r="2.35" fill="#baff00"/>
<circle cx="637.5" cy="258.5" r="2.35" fill="#abff00"/>
<circle cx="622.5" cy="257.5" r="2.35" fill="#acff00"/>
<circle cx="635.5" cy="233.5" r="2.35" fill="#c8ff00"/>
<circle cx="624.5" cy="233.5" r="2.35" fill="#c7ff00"/>
<circle cx="630.5" cy="231.5" r="2.35" fill="#caff00"/>
<circle cx="625.5" cy="230.5" r="2.35" fill="#caff00"/>
<circle cx="625.5" cy="237.5" r="2.35" fill="#c3ff00"/>
<circle cx="637.5" cy="239.5" r="2.35" fill="#c1ff00"/>
<circle cx="636.5" cy="231.5" r="2.35" fill="#c9ff00"/>
<circle cx="622.5" cy="232.5" r="2.35" fill="#c8ff00"/>
<circle cx="633.5" cy="237.5" r="2.35" fill="#c3ff00"/>
<circle cx="621.5" cy="240.5" r="2.35" fill="#c0ff00"/>
<circle cx="624.5" cy="240.5" r="2.35" fill="#bfff00"/>
<circle cx="620.5" cy="238.5" r="2.35" fill="#c2ff00"/>
<circle cx="631.5" cy="237.5" r="2.35" fill="#c3ff00"/>
<circle cx="633.5" cy="238.5" r="2.35" fill="#c2ff00"/>
<circle cx="620.5" cy="22.5" r="2.35" fill="#ff2a00"/>
<circle cx="620.5" cy="108.5" r="2.35" fill="#ffa600"/>
<circle cx="634.5" cy="131.5" r="2.35" fill="#ffc500"/>
<circle cx="625.5" cy="162.5" r="2.35" fill="#ffec00"/>
<circle cx="635.5" cy="180.5" r="2.35" fill="#fdff00"/>
<circle cx="635.5" cy="184.5" r="2.35" fill="#f8ff00"/>
<circle cx="619.5" cy="196.5" r="2.35" fill="#edff00"/>
<circle cx="626.5" cy="198.5" r="2.35" fill="#ebff00"/>
<circle cx="620.5" cy="207.5" r="2.35" fill="#e2ff00"/>
<circle cx="628.5" cy="206.5" r="2.35" fill="#e3ff00"/>
<circle cx="637.5" cy="206.5" r="2.35" fill="#e3ff00"/>
<circle cx="621.5" cy="216.5" r="2.35" fill="#d9ff00"/>
<circle cx="619.5" cy="224.5" r="2.35" fill="#d1ff00"/>
<circle cx="623.5" cy="225.5" r="2.35" fill="#d0ff00"/>
<circle cx="632.5" cy="224.5" r="2.35" fill="#d1ff00"/>
<circle cx="635.5" cy="226.5" r="2.35" fill="#ceff00"/>
</g>
<line x1="85.1" y1="172.27" x2="85.1" y2="218.16" class="wh"/>
<line x1="85.1" y1="263.76" x2="85.1" y2="286.42" class="wh"/>
<rect x="78.20" y="218.16" width="13.60" height="45.60" class="bx"/>
<line x1="78.20" y1="240.23" x2="91.80" y2="240.23" class="md"/>
<line x1="152.7" y1="129.02" x2="152.7" y2="211.10" class="wh"/>
<line x1="152.7" y1="270.82" x2="152.7" y2="286.42" class="wh"/>
<rect x="145.80" y="211.10" width="13.60" height="59.72" class="bx"/>
<line x1="145.80" y1="248.46" x2="159.40" y2="248.46" class="md"/>
<line x1="220.5" y1="122.25" x2="220.5" y2="211.40" class="wh"/>
<line x1="220.5" y1="270.82" x2="220.5" y2="288.18" class="wh"/>
<rect x="213.60" y="211.40" width="13.60" height="59.43" class="bx"/>
<line x1="213.60" y1="249.94" x2="227.20" y2="249.94" class="md"/>
<line x1="288.8" y1="117.84" x2="288.8" y2="209.04" class="wh"/>
<line x1="288.8" y1="271.71" x2="288.8" y2="288.77" class="wh"/>
<rect x="281.90" y="209.04" width="13.60" height="62.66" class="bx"/>
<line x1="281.90" y1="247.58" x2="295.50" y2="247.58" class="md"/>
<line x1="357.1" y1="119.90" x2="357.1" y2="208.45" class="wh"/>
<line x1="357.1" y1="272.00" x2="357.1" y2="288.48" class="wh"/>
<rect x="350.20" y="208.45" width="13.60" height="63.55" class="bx"/>
<line x1="350.20" y1="248.76" x2="363.80" y2="248.76" class="md"/>
<line x1="425.3" y1="126.96" x2="425.3" y2="209.04" class="wh"/>
<line x1="425.3" y1="266.12" x2="425.3" y2="286.71" class="wh"/>
<rect x="418.40" y="209.04" width="13.60" height="57.07" class="bx"/>
<line x1="418.40" y1="243.76" x2="432.00" y2="243.76" class="md"/>
<line x1="492.6" y1="138.73" x2="492.6" y2="216.10" class="wh"/>
<line x1="492.6" y1="269.35" x2="492.6" y2="285.53" class="wh"/>
<rect x="485.70" y="216.10" width="13.60" height="53.25" class="bx"/>
<line x1="485.70" y1="244.93" x2="499.30" y2="244.93" class="md"/>
<line x1="561.6" y1="161.09" x2="561.6" y2="225.81" class="wh"/>
<line x1="561.6" y1="269.35" x2="561.6" y2="286.42" class="wh"/>
<rect x="554.70" y="225.81" width="13.60" height="43.54" class="bx"/>
<line x1="554.70" y1="251.11" x2="568.30" y2="251.11" class="md"/>
<line x1="628.9" y1="196.98" x2="628.9" y2="241.11" class="wh"/>
<line x1="628.9" y1="273.18" x2="628.9" y2="287.00" class="wh"/>
<rect x="622.00" y="241.11" width="13.60" height="32.07" class="bx"/>
<line x1="622.00" y1="263.17" x2="635.60" y2="263.17" class="md"/>
</g>
<path d="M43.6,2.0 H683.5 V304.0 H43.6 Z" fill="none" stroke="#333" stroke-width="1.4"/>
<line x1="38.2" y1="292.30" x2="43.6" y2="292.30" class="tk"/>
<line x1="38.2" y1="218.75" x2="43.6" y2="218.75" class="tk"/>
<line x1="38.2" y1="145.20" x2="43.6" y2="145.20" class="tk"/>
<line x1="38.2" y1="71.65" x2="43.6" y2="71.65" class="tk"/>
<line x1="85.00" y1="304.0" x2="85.00" y2="308.2" class="tk"/>
<line x1="152.60" y1="304.0" x2="152.60" y2="308.2" class="tk"/>
<line x1="220.40" y1="304.0" x2="220.40" y2="308.2" class="tk"/>
<line x1="288.70" y1="304.0" x2="288.70" y2="308.2" class="tk"/>
<line x1="357.00" y1="304.0" x2="357.00" y2="308.2" class="tk"/>
<line x1="425.20" y1="304.0" x2="425.20" y2="308.2" class="tk"/>
<line x1="492.50" y1="304.0" x2="492.50" y2="308.2" class="tk"/>
<line x1="561.50" y1="304.0" x2="561.50" y2="308.2" class="tk"/>
<line x1="628.80" y1="304.0" x2="628.80" y2="308.2" class="tk"/>
<text x="35.3" y="298.20" class="yl" textLength="7.2" lengthAdjust="spacingAndGlyphs">0</text>
<text x="35.3" y="224.65" class="yl" textLength="14.4" lengthAdjust="spacingAndGlyphs">25</text>
<text x="35.3" y="151.10" class="yl" textLength="14.4" lengthAdjust="spacingAndGlyphs">50</text>
<text x="35.3" y="77.55" class="yl" textLength="14.4" lengthAdjust="spacingAndGlyphs">75</text>
<text x="84.10" y="323.7" class="xl" textLength="28.1" lengthAdjust="spacingAndGlyphs">2007</text>
<text x="151.70" y="323.7" class="xl" textLength="28.1" lengthAdjust="spacingAndGlyphs">2008</text>
<text x="219.50" y="323.7" class="xl" textLength="28.1" lengthAdjust="spacingAndGlyphs">2009</text>
<text x="287.80" y="323.7" class="xl" textLength="28.1" lengthAdjust="spacingAndGlyphs">2010</text>
<text x="356.10" y="323.7" class="xl" textLength="28.1" lengthAdjust="spacingAndGlyphs">2011</text>
<text x="424.30" y="323.7" class="xl" textLength="28.1" lengthAdjust="spacingAndGlyphs">2012</text>
<text x="491.60" y="323.7" class="xl" textLength="28.1" lengthAdjust="spacingAndGlyphs">2013</text>
<text x="560.60" y="323.7" class="xl" textLength="28.1" lengthAdjust="spacingAndGlyphs">2014</text>
<text x="627.90" y="323.7" class="xl" textLength="28.1" lengthAdjust="spacingAndGlyphs">2015</text>
<text x="362" y="341.1" style="font-size:15.5px;fill:#000;text-anchor:middle;">Year</text>
<text transform="translate(14.3,152.3) rotate(-90)" style="font-size:15px;fill:#000;text-anchor:middle;" textLength="118" lengthAdjust="spacingAndGlyphs">% borrowed text</text>
</svg>
</body></html>
